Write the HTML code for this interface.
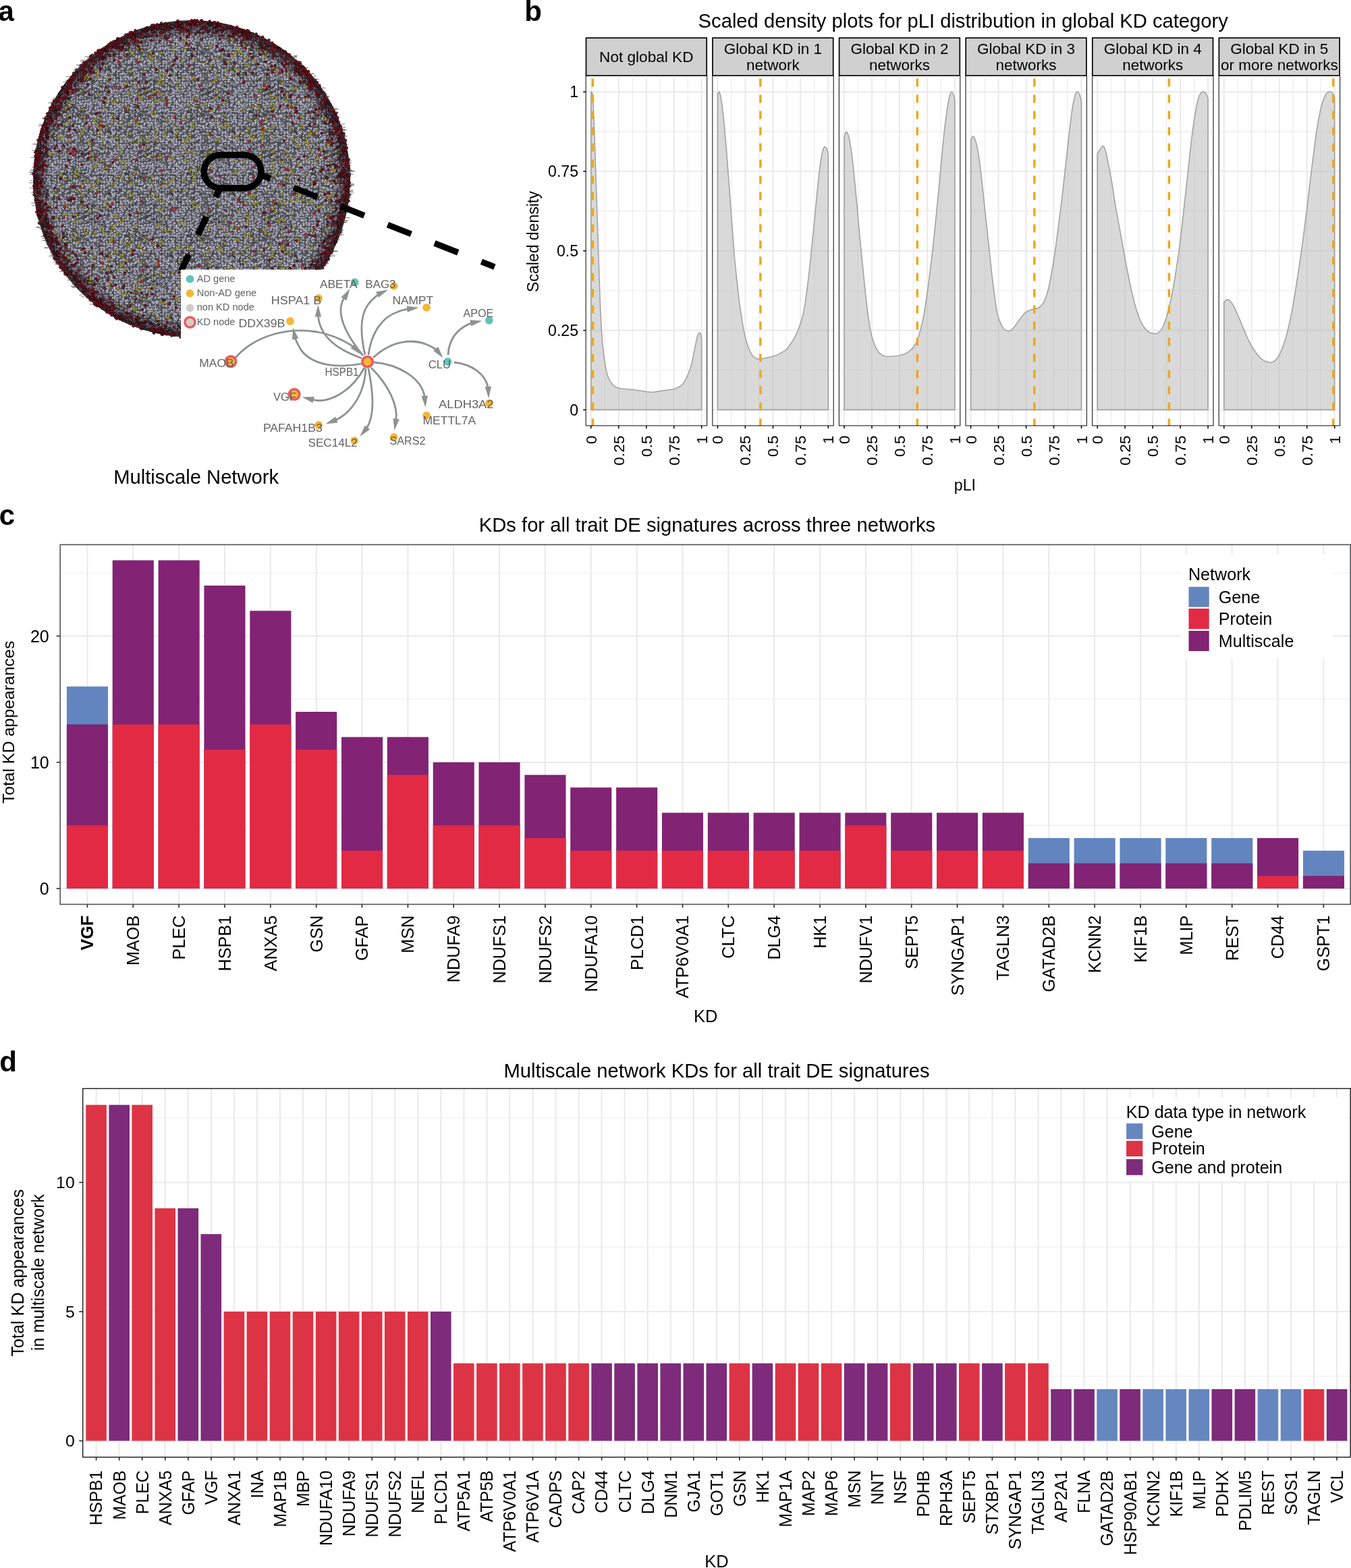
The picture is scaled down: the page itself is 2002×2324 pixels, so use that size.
<!DOCTYPE html>
<html><head><meta charset="utf-8"><title>KD figure</title>
<style>html,body{margin:0;padding:0;background:#fff;}svg{display:block;}</style></head>
<body><svg width="2002" height="2324" viewBox="0 0 2002 2324" font-family="'Liberation Sans', Arial, Helvetica, sans-serif">
<rect width="2002" height="2324" fill="#fff"/>
<text x="-2.5" y="30.9" font-size="42" font-weight="bold">a</text>
<defs><pattern id="hb" width="92" height="92" patternUnits="userSpaceOnUse">
<rect width="92" height="92" fill="#545456"/>
<g fill="#9e9ebc" stroke="#b4b4d2" stroke-width="0.6"><circle cx="1.5" cy="1.1" r="1.25"/><circle cx="0.9" cy="6.1" r="1.25"/><circle cx="1.8" cy="18.8" r="1.25"/><circle cx="1.3" cy="22.3" r="1.25"/><circle cx="2.2" cy="25.7" r="1.25"/><circle cx="0.8" cy="30.9" r="1.25"/><circle cx="1.1" cy="33" r="1.25"/><circle cx="2.8" cy="37.2" r="1.25"/><circle cx="2.4" cy="41.7" r="1.25"/><circle cx="0.9" cy="44.9" r="1.25"/><circle cx="2.5" cy="49.8" r="1.25"/><circle cx="2.2" cy="53.9" r="1.25"/><circle cx="2.8" cy="58.5" r="1.25"/><circle cx="2.2" cy="62.1" r="1.25"/><circle cx="2.6" cy="65.4" r="1.25"/><circle cx="1" cy="69.8" r="1.25"/><circle cx="2.4" cy="78.7" r="1.25"/><circle cx="3" cy="81.5" r="1.25"/><circle cx="2.2" cy="86.2" r="1.25"/><circle cx="2.9" cy="91.2" r="1.25"/><circle cx="6.4" cy="0.9" r="1.25"/><circle cx="6.4" cy="7.3" r="1.25"/><circle cx="5.4" cy="9.7" r="1.25"/><circle cx="4.8" cy="13.9" r="1.25"/><circle cx="5" cy="16.9" r="1.25"/><circle cx="5" cy="21.3" r="1.25"/><circle cx="7" cy="24.9" r="1.25"/><circle cx="6.1" cy="31" r="1.25"/><circle cx="6.9" cy="33.4" r="1.25"/><circle cx="5.6" cy="39" r="1.25"/><circle cx="5.1" cy="41.2" r="1.25"/><circle cx="5.3" cy="46" r="1.25"/><circle cx="5.4" cy="48.7" r="1.25"/><circle cx="5.7" cy="54.2" r="1.25"/><circle cx="6.5" cy="58" r="1.25"/><circle cx="6.5" cy="60.8" r="1.25"/><circle cx="6.7" cy="67" r="1.25"/><circle cx="5.7" cy="69.7" r="1.25"/><circle cx="5.2" cy="77.1" r="1.25"/><circle cx="4.8" cy="80.7" r="1.25"/><circle cx="7" cy="90.3" r="1.25"/><circle cx="9.4" cy="1.6" r="1.25"/><circle cx="9" cy="6.9" r="1.25"/><circle cx="9" cy="13.6" r="1.25"/><circle cx="11.2" cy="22.1" r="1.25"/><circle cx="10.1" cy="24.8" r="1.25"/><circle cx="11.2" cy="30.9" r="1.25"/><circle cx="9.4" cy="33.7" r="1.25"/><circle cx="10.7" cy="38.1" r="1.25"/><circle cx="9.6" cy="41.3" r="1.25"/><circle cx="11.3" cy="46.9" r="1.25"/><circle cx="10.8" cy="50.6" r="1.25"/><circle cx="8.8" cy="57.4" r="1.25"/><circle cx="10.5" cy="63.2" r="1.25"/><circle cx="11.1" cy="67.3" r="1.25"/><circle cx="9.6" cy="69.3" r="1.25"/><circle cx="9.2" cy="73.2" r="1.25"/><circle cx="11" cy="78.9" r="1.25"/><circle cx="10.4" cy="87.1" r="1.25"/><circle cx="10.7" cy="89.9" r="1.25"/><circle cx="14.8" cy="1.6" r="1.25"/><circle cx="15.2" cy="5.7" r="1.25"/><circle cx="15.2" cy="10.6" r="1.25"/><circle cx="13" cy="13.1" r="1.25"/><circle cx="14.8" cy="17.1" r="1.25"/><circle cx="15.2" cy="22.4" r="1.25"/><circle cx="15.2" cy="30.4" r="1.25"/><circle cx="15.1" cy="33.8" r="1.25"/><circle cx="14.8" cy="37.2" r="1.25"/><circle cx="13.5" cy="41.3" r="1.25"/><circle cx="13.4" cy="45.8" r="1.25"/><circle cx="15.1" cy="49.6" r="1.25"/><circle cx="14.2" cy="55.1" r="1.25"/><circle cx="15.1" cy="58" r="1.25"/><circle cx="14.1" cy="60.7" r="1.25"/><circle cx="13.2" cy="64.7" r="1.25"/><circle cx="13.1" cy="69.9" r="1.25"/><circle cx="14.1" cy="73.5" r="1.25"/><circle cx="14.1" cy="78.7" r="1.25"/><circle cx="14.2" cy="81.3" r="1.25"/><circle cx="14.7" cy="86" r="1.25"/><circle cx="14.7" cy="91.1" r="1.25"/><circle cx="18.3" cy="2" r="1.25"/><circle cx="18.5" cy="5.9" r="1.25"/><circle cx="17.9" cy="11.1" r="1.25"/><circle cx="19" cy="15.1" r="1.25"/><circle cx="18.2" cy="19.2" r="1.25"/><circle cx="17.1" cy="21" r="1.25"/><circle cx="18.4" cy="30.7" r="1.25"/><circle cx="17.1" cy="34.6" r="1.25"/><circle cx="17.1" cy="39" r="1.25"/><circle cx="17.3" cy="43.2" r="1.25"/><circle cx="18" cy="47.3" r="1.25"/><circle cx="17.1" cy="49.8" r="1.25"/><circle cx="17.6" cy="53.2" r="1.25"/><circle cx="18.6" cy="56.8" r="1.25"/><circle cx="17.8" cy="60.7" r="1.25"/><circle cx="19.3" cy="70.7" r="1.25"/><circle cx="18.7" cy="77.4" r="1.25"/><circle cx="17.8" cy="83.1" r="1.25"/><circle cx="17.4" cy="85.1" r="1.25"/><circle cx="20.8" cy="2.5" r="1.25"/><circle cx="20.9" cy="7.1" r="1.25"/><circle cx="22.8" cy="8.9" r="1.25"/><circle cx="20.9" cy="14.9" r="1.25"/><circle cx="21.6" cy="18.1" r="1.25"/><circle cx="21.4" cy="21" r="1.25"/><circle cx="21.3" cy="25" r="1.25"/><circle cx="20.8" cy="29.2" r="1.25"/><circle cx="21.5" cy="34.7" r="1.25"/><circle cx="22" cy="37.2" r="1.25"/><circle cx="22.6" cy="46.1" r="1.25"/><circle cx="21.9" cy="51.1" r="1.25"/><circle cx="22.8" cy="53.8" r="1.25"/><circle cx="22.9" cy="57.7" r="1.25"/><circle cx="22.5" cy="63.3" r="1.25"/><circle cx="22.9" cy="66.5" r="1.25"/><circle cx="21" cy="72.9" r="1.25"/><circle cx="22.9" cy="83" r="1.25"/><circle cx="21.4" cy="85.3" r="1.25"/><circle cx="21.9" cy="89.1" r="1.25"/><circle cx="25.4" cy="3.2" r="1.25"/><circle cx="26.1" cy="5.3" r="1.25"/><circle cx="25.7" cy="13.9" r="1.25"/><circle cx="25.4" cy="20.9" r="1.25"/><circle cx="24.8" cy="24.8" r="1.25"/><circle cx="25.3" cy="30.2" r="1.25"/><circle cx="26.7" cy="34.4" r="1.25"/><circle cx="27" cy="37.7" r="1.25"/><circle cx="27.3" cy="41.1" r="1.25"/><circle cx="26.4" cy="44.8" r="1.25"/><circle cx="27" cy="50.3" r="1.25"/><circle cx="26.8" cy="53.1" r="1.25"/><circle cx="26" cy="58.9" r="1.25"/><circle cx="26.8" cy="62.2" r="1.25"/><circle cx="26.5" cy="66.5" r="1.25"/><circle cx="24.8" cy="69" r="1.25"/><circle cx="25" cy="74.9" r="1.25"/><circle cx="26.3" cy="78.3" r="1.25"/><circle cx="26" cy="80.7" r="1.25"/><circle cx="26.6" cy="86" r="1.25"/><circle cx="26.4" cy="88.9" r="1.25"/><circle cx="29.4" cy="0.9" r="1.25"/><circle cx="30.6" cy="5.2" r="1.25"/><circle cx="31.2" cy="10" r="1.25"/><circle cx="29.9" cy="14.5" r="1.25"/><circle cx="29.1" cy="21.4" r="1.25"/><circle cx="28.9" cy="29.4" r="1.25"/><circle cx="30.5" cy="34.5" r="1.25"/><circle cx="30" cy="37.9" r="1.25"/><circle cx="29" cy="43" r="1.25"/><circle cx="29.9" cy="50.8" r="1.25"/><circle cx="29.9" cy="53.4" r="1.25"/><circle cx="31.2" cy="57.2" r="1.25"/><circle cx="29.1" cy="62.1" r="1.25"/><circle cx="29" cy="66.8" r="1.25"/><circle cx="31" cy="70.5" r="1.25"/><circle cx="28.7" cy="78" r="1.25"/><circle cx="29.5" cy="81.1" r="1.25"/><circle cx="30.7" cy="90.9" r="1.25"/><circle cx="35.1" cy="2.6" r="1.25"/><circle cx="33.5" cy="5.7" r="1.25"/><circle cx="35.3" cy="10.2" r="1.25"/><circle cx="33" cy="18.9" r="1.25"/><circle cx="35.1" cy="21.3" r="1.25"/><circle cx="34" cy="25.2" r="1.25"/><circle cx="35.2" cy="31" r="1.25"/><circle cx="34.3" cy="35.1" r="1.25"/><circle cx="34.6" cy="41.9" r="1.25"/><circle cx="35.1" cy="49" r="1.25"/><circle cx="33.6" cy="53.5" r="1.25"/><circle cx="35.2" cy="57.4" r="1.25"/><circle cx="33.5" cy="62.1" r="1.25"/><circle cx="33.1" cy="65.1" r="1.25"/><circle cx="35.1" cy="70" r="1.25"/><circle cx="35.1" cy="75.3" r="1.25"/><circle cx="33.6" cy="80.9" r="1.25"/><circle cx="33.4" cy="86.2" r="1.25"/><circle cx="34.6" cy="89.8" r="1.25"/><circle cx="38.1" cy="1.7" r="1.25"/><circle cx="36.9" cy="5.4" r="1.25"/><circle cx="37" cy="10" r="1.25"/><circle cx="38.9" cy="13.3" r="1.25"/><circle cx="37.3" cy="17.7" r="1.25"/><circle cx="39.2" cy="22.9" r="1.25"/><circle cx="36.8" cy="24.8" r="1.25"/><circle cx="39" cy="29.9" r="1.25"/><circle cx="36.7" cy="33.7" r="1.25"/><circle cx="38.8" cy="38.9" r="1.25"/><circle cx="37.3" cy="41" r="1.25"/><circle cx="38.1" cy="46.5" r="1.25"/><circle cx="38.6" cy="50.4" r="1.25"/><circle cx="38.7" cy="57.3" r="1.25"/><circle cx="38.4" cy="61.5" r="1.25"/><circle cx="37.4" cy="66.4" r="1.25"/><circle cx="37" cy="68.9" r="1.25"/><circle cx="38.2" cy="73.7" r="1.25"/><circle cx="38.3" cy="76.7" r="1.25"/><circle cx="37.9" cy="83.2" r="1.25"/><circle cx="39" cy="85.9" r="1.25"/><circle cx="37.3" cy="91.2" r="1.25"/><circle cx="41.5" cy="0.8" r="1.25"/><circle cx="42.5" cy="5.8" r="1.25"/><circle cx="42.4" cy="11.1" r="1.25"/><circle cx="40.8" cy="13.6" r="1.25"/><circle cx="42.5" cy="17.2" r="1.25"/><circle cx="42.6" cy="22" r="1.25"/><circle cx="43.2" cy="25.5" r="1.25"/><circle cx="41.3" cy="29.3" r="1.25"/><circle cx="41.5" cy="35.2" r="1.25"/><circle cx="41.2" cy="37.3" r="1.25"/><circle cx="42.4" cy="43.2" r="1.25"/><circle cx="41.7" cy="45.3" r="1.25"/><circle cx="41.7" cy="55" r="1.25"/><circle cx="42.6" cy="59.3" r="1.25"/><circle cx="41.6" cy="61.2" r="1.25"/><circle cx="42.6" cy="64.8" r="1.25"/><circle cx="41.7" cy="69.7" r="1.25"/><circle cx="41.1" cy="72.7" r="1.25"/><circle cx="41.6" cy="79.2" r="1.25"/><circle cx="43.2" cy="81.2" r="1.25"/><circle cx="42.8" cy="86.8" r="1.25"/><circle cx="40.8" cy="89.9" r="1.25"/><circle cx="47.1" cy="1.2" r="1.25"/><circle cx="47" cy="4.8" r="1.25"/><circle cx="44.8" cy="12.9" r="1.25"/><circle cx="45.4" cy="18.6" r="1.25"/><circle cx="45.6" cy="21.4" r="1.25"/><circle cx="46.3" cy="25.4" r="1.25"/><circle cx="46.7" cy="35.1" r="1.25"/><circle cx="47.2" cy="36.8" r="1.25"/><circle cx="45.9" cy="43.2" r="1.25"/><circle cx="45.7" cy="45.4" r="1.25"/><circle cx="46" cy="51.1" r="1.25"/><circle cx="46.8" cy="54.6" r="1.25"/><circle cx="46.7" cy="58.3" r="1.25"/><circle cx="45.5" cy="61.6" r="1.25"/><circle cx="44.9" cy="65.2" r="1.25"/><circle cx="46.1" cy="73.5" r="1.25"/><circle cx="47" cy="79.3" r="1.25"/><circle cx="44.9" cy="81" r="1.25"/><circle cx="46.5" cy="85.9" r="1.25"/><circle cx="45.8" cy="90.3" r="1.25"/><circle cx="50.6" cy="2.9" r="1.25"/><circle cx="49" cy="6.9" r="1.25"/><circle cx="50.2" cy="9.7" r="1.25"/><circle cx="49.2" cy="13.3" r="1.25"/><circle cx="49.1" cy="19" r="1.25"/><circle cx="49.5" cy="21.7" r="1.25"/><circle cx="50" cy="25.3" r="1.25"/><circle cx="50.4" cy="31.3" r="1.25"/><circle cx="49.9" cy="34.8" r="1.25"/><circle cx="51.1" cy="36.8" r="1.25"/><circle cx="49" cy="41.2" r="1.25"/><circle cx="50.2" cy="47.1" r="1.25"/><circle cx="51" cy="49.9" r="1.25"/><circle cx="50.7" cy="55.2" r="1.25"/><circle cx="50.2" cy="58.3" r="1.25"/><circle cx="49.7" cy="61.1" r="1.25"/><circle cx="49.4" cy="66.3" r="1.25"/><circle cx="49.2" cy="68.7" r="1.25"/><circle cx="50.5" cy="73.2" r="1.25"/><circle cx="49.2" cy="78.8" r="1.25"/><circle cx="48.9" cy="81" r="1.25"/><circle cx="49.1" cy="90.5" r="1.25"/><circle cx="53.4" cy="1.5" r="1.25"/><circle cx="53.5" cy="6.2" r="1.25"/><circle cx="53.8" cy="10.9" r="1.25"/><circle cx="53.6" cy="13.2" r="1.25"/><circle cx="53.2" cy="16.7" r="1.25"/><circle cx="53.8" cy="22.8" r="1.25"/><circle cx="55" cy="25.9" r="1.25"/><circle cx="52.7" cy="30.1" r="1.25"/><circle cx="55.1" cy="32.9" r="1.25"/><circle cx="53.7" cy="38" r="1.25"/><circle cx="53.4" cy="42.1" r="1.25"/><circle cx="53" cy="46" r="1.25"/><circle cx="55.2" cy="49.2" r="1.25"/><circle cx="55.2" cy="55.2" r="1.25"/><circle cx="52.8" cy="59.1" r="1.25"/><circle cx="55.1" cy="62.3" r="1.25"/><circle cx="53.1" cy="66.7" r="1.25"/><circle cx="53.8" cy="70.9" r="1.25"/><circle cx="53.2" cy="73.3" r="1.25"/><circle cx="54" cy="77.7" r="1.25"/><circle cx="53.3" cy="82.6" r="1.25"/><circle cx="52.8" cy="86.2" r="1.25"/><circle cx="52.8" cy="90.9" r="1.25"/><circle cx="58.3" cy="2.1" r="1.25"/><circle cx="57.5" cy="5.8" r="1.25"/><circle cx="57.8" cy="10.4" r="1.25"/><circle cx="57.8" cy="12.8" r="1.25"/><circle cx="58" cy="17.3" r="1.25"/><circle cx="58.7" cy="21.9" r="1.25"/><circle cx="57.9" cy="25" r="1.25"/><circle cx="57.8" cy="28.9" r="1.25"/><circle cx="58" cy="32.8" r="1.25"/><circle cx="56.9" cy="38.6" r="1.25"/><circle cx="58" cy="40.8" r="1.25"/><circle cx="57.7" cy="47.2" r="1.25"/><circle cx="58.9" cy="51.3" r="1.25"/><circle cx="58.8" cy="53.2" r="1.25"/><circle cx="58" cy="59.2" r="1.25"/><circle cx="57.1" cy="62.7" r="1.25"/><circle cx="56.9" cy="65.6" r="1.25"/><circle cx="57.1" cy="71" r="1.25"/><circle cx="58.8" cy="73.1" r="1.25"/><circle cx="59.1" cy="77.2" r="1.25"/><circle cx="57.2" cy="85.1" r="1.25"/><circle cx="58.5" cy="91" r="1.25"/><circle cx="62.7" cy="1" r="1.25"/><circle cx="62.4" cy="5.6" r="1.25"/><circle cx="62.1" cy="10.2" r="1.25"/><circle cx="61" cy="15.3" r="1.25"/><circle cx="61.7" cy="18.8" r="1.25"/><circle cx="63.3" cy="22.2" r="1.25"/><circle cx="62.7" cy="25.8" r="1.25"/><circle cx="62.6" cy="28.8" r="1.25"/><circle cx="61.4" cy="34.4" r="1.25"/><circle cx="62.2" cy="38.4" r="1.25"/><circle cx="60.7" cy="40.8" r="1.25"/><circle cx="62.3" cy="45.8" r="1.25"/><circle cx="63" cy="49" r="1.25"/><circle cx="61.6" cy="57" r="1.25"/><circle cx="61.3" cy="62.2" r="1.25"/><circle cx="61.2" cy="66.3" r="1.25"/><circle cx="61.1" cy="71.1" r="1.25"/><circle cx="61.1" cy="72.9" r="1.25"/><circle cx="63" cy="78.7" r="1.25"/><circle cx="61.4" cy="80.7" r="1.25"/><circle cx="62.2" cy="85.6" r="1.25"/><circle cx="61.9" cy="91.1" r="1.25"/><circle cx="66.1" cy="5.8" r="1.25"/><circle cx="66.1" cy="15.1" r="1.25"/><circle cx="65.2" cy="18.3" r="1.25"/><circle cx="66.4" cy="22.8" r="1.25"/><circle cx="67" cy="30.7" r="1.25"/><circle cx="64.7" cy="34.9" r="1.25"/><circle cx="65.9" cy="38.6" r="1.25"/><circle cx="65.3" cy="41" r="1.25"/><circle cx="64.8" cy="45.6" r="1.25"/><circle cx="66.5" cy="50.9" r="1.25"/><circle cx="65.4" cy="54.1" r="1.25"/><circle cx="66.7" cy="58.1" r="1.25"/><circle cx="66.4" cy="63.2" r="1.25"/><circle cx="67" cy="64.7" r="1.25"/><circle cx="65.3" cy="70.6" r="1.25"/><circle cx="66.6" cy="73.5" r="1.25"/><circle cx="65.6" cy="77.3" r="1.25"/><circle cx="66.3" cy="82.5" r="1.25"/><circle cx="67.2" cy="85.9" r="1.25"/><circle cx="66.5" cy="90.9" r="1.25"/><circle cx="70.6" cy="2.2" r="1.25"/><circle cx="69" cy="15.1" r="1.25"/><circle cx="70.5" cy="22.3" r="1.25"/><circle cx="70.6" cy="24.9" r="1.25"/><circle cx="69.6" cy="30.8" r="1.25"/><circle cx="71" cy="32.9" r="1.25"/><circle cx="71.1" cy="39.2" r="1.25"/><circle cx="70.9" cy="46.8" r="1.25"/><circle cx="70.8" cy="50.3" r="1.25"/><circle cx="69" cy="53" r="1.25"/><circle cx="69.2" cy="57.5" r="1.25"/><circle cx="68.8" cy="61.4" r="1.25"/><circle cx="70.6" cy="65.7" r="1.25"/><circle cx="71.2" cy="70" r="1.25"/><circle cx="70.3" cy="72.8" r="1.25"/><circle cx="69.8" cy="78.7" r="1.25"/><circle cx="70.5" cy="82.1" r="1.25"/><circle cx="70.9" cy="84.9" r="1.25"/><circle cx="69.1" cy="88.7" r="1.25"/><circle cx="74" cy="6" r="1.25"/><circle cx="73.2" cy="10" r="1.25"/><circle cx="74.9" cy="13.4" r="1.25"/><circle cx="73.4" cy="17.3" r="1.25"/><circle cx="74" cy="21" r="1.25"/><circle cx="72.9" cy="26.7" r="1.25"/><circle cx="74.7" cy="30.3" r="1.25"/><circle cx="73.7" cy="33.7" r="1.25"/><circle cx="73.2" cy="41.4" r="1.25"/><circle cx="74" cy="45.7" r="1.25"/><circle cx="73.3" cy="49.9" r="1.25"/><circle cx="74.7" cy="54.7" r="1.25"/><circle cx="73.6" cy="57.5" r="1.25"/><circle cx="74.9" cy="62.4" r="1.25"/><circle cx="73.1" cy="65.8" r="1.25"/><circle cx="74.2" cy="69" r="1.25"/><circle cx="75" cy="73.3" r="1.25"/><circle cx="73.5" cy="78.5" r="1.25"/><circle cx="73.1" cy="81.1" r="1.25"/><circle cx="73.5" cy="86.1" r="1.25"/><circle cx="73.6" cy="89.2" r="1.25"/><circle cx="78.6" cy="1" r="1.25"/><circle cx="77" cy="5.7" r="1.25"/><circle cx="78.8" cy="10.6" r="1.25"/><circle cx="77.2" cy="14.4" r="1.25"/><circle cx="77.7" cy="22.8" r="1.25"/><circle cx="78" cy="26.3" r="1.25"/><circle cx="77.1" cy="30.3" r="1.25"/><circle cx="78.6" cy="35.1" r="1.25"/><circle cx="78.2" cy="38.6" r="1.25"/><circle cx="77.3" cy="42.6" r="1.25"/><circle cx="78.7" cy="46.5" r="1.25"/><circle cx="78.5" cy="50.4" r="1.25"/><circle cx="77.8" cy="58.7" r="1.25"/><circle cx="78.3" cy="61.4" r="1.25"/><circle cx="77.9" cy="66.3" r="1.25"/><circle cx="78.5" cy="71.1" r="1.25"/><circle cx="78.4" cy="74.7" r="1.25"/><circle cx="78.1" cy="81.1" r="1.25"/><circle cx="79.1" cy="86" r="1.25"/><circle cx="78.2" cy="90.1" r="1.25"/><circle cx="82" cy="2.4" r="1.25"/><circle cx="82.1" cy="5.8" r="1.25"/><circle cx="81.2" cy="10.5" r="1.25"/><circle cx="82.7" cy="13" r="1.25"/><circle cx="81.6" cy="16.8" r="1.25"/><circle cx="81.7" cy="20.7" r="1.25"/><circle cx="81.8" cy="26.5" r="1.25"/><circle cx="81.4" cy="29.3" r="1.25"/><circle cx="83.1" cy="34.1" r="1.25"/><circle cx="82.8" cy="37.7" r="1.25"/><circle cx="81" cy="42.7" r="1.25"/><circle cx="82.3" cy="45.9" r="1.25"/><circle cx="81.3" cy="51.2" r="1.25"/><circle cx="82.4" cy="54.8" r="1.25"/><circle cx="81.9" cy="57.5" r="1.25"/><circle cx="81" cy="62.9" r="1.25"/><circle cx="82.9" cy="65.4" r="1.25"/><circle cx="81.4" cy="69.8" r="1.25"/><circle cx="80.7" cy="74.6" r="1.25"/><circle cx="81.3" cy="77.5" r="1.25"/><circle cx="81.8" cy="82.4" r="1.25"/><circle cx="81.6" cy="87.1" r="1.25"/><circle cx="80.8" cy="90.9" r="1.25"/><circle cx="86.7" cy="1.1" r="1.25"/><circle cx="87.2" cy="10.4" r="1.25"/><circle cx="85" cy="13.1" r="1.25"/><circle cx="86.7" cy="17.6" r="1.25"/><circle cx="87.1" cy="22.8" r="1.25"/><circle cx="87" cy="26.3" r="1.25"/><circle cx="86.4" cy="31" r="1.25"/><circle cx="86.9" cy="33.2" r="1.25"/><circle cx="86.1" cy="38.6" r="1.25"/><circle cx="87" cy="42.1" r="1.25"/><circle cx="85.3" cy="45.1" r="1.25"/><circle cx="84.9" cy="49.9" r="1.25"/><circle cx="86" cy="54" r="1.25"/><circle cx="86.9" cy="56.7" r="1.25"/><circle cx="85.9" cy="62.2" r="1.25"/><circle cx="86.9" cy="65.7" r="1.25"/><circle cx="87.2" cy="68.9" r="1.25"/><circle cx="86.4" cy="72.8" r="1.25"/><circle cx="86.5" cy="79.1" r="1.25"/><circle cx="87.3" cy="82" r="1.25"/><circle cx="87" cy="84.8" r="1.25"/><circle cx="86.3" cy="89.6" r="1.25"/><circle cx="89.7" cy="1.9" r="1.25"/><circle cx="90.7" cy="5.2" r="1.25"/><circle cx="89.8" cy="10.1" r="1.25"/><circle cx="89.5" cy="14.9" r="1.25"/><circle cx="90" cy="17.4" r="1.25"/><circle cx="91.2" cy="22.4" r="1.25"/><circle cx="89.6" cy="25.5" r="1.25"/><circle cx="90.2" cy="30.4" r="1.25"/><circle cx="88.8" cy="34.6" r="1.25"/><circle cx="90.1" cy="36.8" r="1.25"/><circle cx="88.7" cy="41.2" r="1.25"/><circle cx="90.3" cy="46.4" r="1.25"/><circle cx="91.1" cy="50.3" r="1.25"/><circle cx="90.3" cy="54.5" r="1.25"/><circle cx="90.5" cy="57.3" r="1.25"/><circle cx="89.9" cy="62.7" r="1.25"/><circle cx="89.2" cy="64.8" r="1.25"/><circle cx="91.1" cy="70.4" r="1.25"/><circle cx="90.8" cy="74.7" r="1.25"/><circle cx="89.4" cy="77.5" r="1.25"/><circle cx="89.5" cy="81.8" r="1.25"/><circle cx="91.1" cy="84.8" r="1.25"/><circle cx="88.8" cy="89" r="1.25"/></g>
<g stroke="#262626" stroke-width="0.7"><line x1="52.9" y1="84.5" x2="53.4" y2="87"/><line x1="35.6" y1="54.5" x2="29.8" y2="55.6"/><line x1="43.7" y1="37.9" x2="48.3" y2="39.4"/><line x1="19.5" y1="14" x2="22" y2="14.1"/><line x1="62.9" y1="11.2" x2="60.1" y2="11.5"/><line x1="80" y1="11.9" x2="85" y2="12.1"/><line x1="22.3" y1="67.5" x2="24.5" y2="69"/><line x1="71.2" y1="65.6" x2="66.7" y2="67.9"/><line x1="7.8" y1="57.8" x2="5.2" y2="61.1"/><line x1="85.8" y1="23.4" x2="80.8" y2="23.9"/><line x1="1" y1="1.4" x2="-1.4" y2="6.1"/><line x1="7.3" y1="28.6" x2="5.3" y2="30.9"/><line x1="79.2" y1="44.7" x2="82.9" y2="45.4"/><line x1="52.9" y1="40.4" x2="51.3" y2="42.9"/><line x1="73.4" y1="33.4" x2="71.3" y2="37.6"/><line x1="38.5" y1="35.5" x2="33.9" y2="39.1"/><line x1="72.2" y1="52.1" x2="73.8" y2="54.3"/><line x1="89.6" y1="64.7" x2="86.5" y2="66.6"/><line x1="55.7" y1="89.9" x2="51.8" y2="92.3"/><line x1="28.4" y1="39.4" x2="24.8" y2="40.7"/><line x1="63" y1="55.4" x2="58" y2="57.1"/><line x1="26.1" y1="0.2" x2="28.8" y2="3.1"/><line x1="54" y1="75.1" x2="51.5" y2="76"/><line x1="76.7" y1="74.7" x2="72.5" y2="76.5"/><line x1="25.2" y1="78.3" x2="21.2" y2="81.1"/><line x1="84.1" y1="31.9" x2="88.3" y2="33.1"/><line x1="73.4" y1="18.4" x2="69.3" y2="22.5"/><line x1="21.5" y1="55.8" x2="19.3" y2="59.3"/><line x1="19" y1="23.4" x2="15.3" y2="27.1"/><line x1="42.3" y1="8.1" x2="38" y2="11"/><line x1="21.4" y1="53.3" x2="16.1" y2="55.1"/><line x1="48" y1="43.8" x2="47.1" y2="46.9"/><line x1="17.7" y1="16.6" x2="15.5" y2="19.7"/><line x1="51.9" y1="37" x2="51.8" y2="40"/><line x1="4.1" y1="91.7" x2="5.2" y2="94.4"/><line x1="58.2" y1="72.4" x2="62.3" y2="74.6"/><line x1="31.7" y1="47.8" x2="34.3" y2="48"/><line x1="91.1" y1="79.7" x2="91.3" y2="84.2"/><line x1="24.1" y1="71.7" x2="25.4" y2="77.3"/><line x1="70.6" y1="75.3" x2="67.2" y2="75.7"/><line x1="3.5" y1="18.5" x2="5.8" y2="20"/><line x1="4.7" y1="51.3" x2="0.9" y2="52.9"/><line x1="87.1" y1="83.7" x2="91.6" y2="84.6"/><line x1="36.6" y1="11" x2="33.2" y2="11.5"/><line x1="51.9" y1="58.9" x2="47.1" y2="59.6"/><line x1="36.2" y1="41.2" x2="41.3" y2="44.1"/><line x1="91.2" y1="20.4" x2="94.6" y2="20.8"/><line x1="32.4" y1="83.1" x2="27.2" y2="84.7"/><line x1="4.3" y1="72.3" x2="1.4" y2="76.1"/><line x1="90.7" y1="5.1" x2="95.3" y2="7.4"/><line x1="86.4" y1="62.3" x2="89.1" y2="66"/><line x1="69.7" y1="9.7" x2="71.5" y2="12.6"/><line x1="11.4" y1="44.3" x2="14.3" y2="46"/><line x1="13.2" y1="62.3" x2="18.2" y2="62.5"/><line x1="17.9" y1="3.3" x2="14.8" y2="4.1"/><line x1="85.9" y1="79.7" x2="83.1" y2="80.8"/><line x1="41.1" y1="8.9" x2="35.8" y2="10.1"/><line x1="57.8" y1="41.6" x2="60.4" y2="46.3"/><line x1="43.9" y1="57.8" x2="46.9" y2="59.2"/><line x1="5.2" y1="65.7" x2="4.7" y2="68.6"/><line x1="80.1" y1="24.5" x2="80.9" y2="27.4"/><line x1="24.9" y1="77.2" x2="26.5" y2="79.9"/><line x1="45.2" y1="29.3" x2="42.4" y2="30.1"/><line x1="90" y1="5.2" x2="85.5" y2="6.8"/><line x1="19.4" y1="43.9" x2="21.5" y2="46.6"/><line x1="18.5" y1="33.5" x2="12.6" y2="33.7"/><line x1="85.1" y1="9" x2="88.6" y2="13.4"/><line x1="5.3" y1="66.8" x2="8.9" y2="71.6"/><line x1="1.5" y1="74.2" x2="2.9" y2="76.9"/><line x1="0.2" y1="76.6" x2="-0.1" y2="79.7"/><line x1="40" y1="83.9" x2="43.5" y2="86.8"/><line x1="12.7" y1="16.6" x2="9" y2="19.9"/><line x1="18.1" y1="7.3" x2="22.6" y2="8.5"/><line x1="45.6" y1="25.2" x2="49.3" y2="28"/><line x1="65.1" y1="74.7" x2="64.3" y2="77.8"/><line x1="6" y1="67.4" x2="7.5" y2="72.2"/><line x1="5.1" y1="74.6" x2="7.8" y2="79.3"/><line x1="79.5" y1="45.4" x2="85.2" y2="45.6"/><line x1="43.8" y1="80.2" x2="46" y2="82.6"/><line x1="76.5" y1="33.8" x2="79.8" y2="35.6"/><line x1="54.7" y1="0.4" x2="54.5" y2="4.5"/><line x1="47.4" y1="11.1" x2="44.1" y2="15.3"/><line x1="79.6" y1="29.5" x2="77.3" y2="32.6"/><line x1="69.1" y1="5.6" x2="63.7" y2="7.9"/><line x1="45.5" y1="47.2" x2="45.1" y2="51.6"/><line x1="1.9" y1="89" x2="4.3" y2="91"/><line x1="9.4" y1="23" x2="7.3" y2="24.5"/><line x1="8.9" y1="64.3" x2="11" y2="65.8"/><line x1="55.1" y1="53" x2="54.8" y2="58"/><line x1="9.5" y1="80" x2="7.8" y2="82.1"/><line x1="11.3" y1="45.4" x2="11.3" y2="48.9"/><line x1="11.2" y1="37.3" x2="15.4" y2="39.2"/><line x1="79.2" y1="13.5" x2="78.1" y2="18.5"/><line x1="15.1" y1="76" x2="11.3" y2="76.7"/><line x1="38.7" y1="77.3" x2="38.4" y2="81.1"/><line x1="86.6" y1="71.5" x2="88.2" y2="74.4"/><line x1="30.8" y1="40.1" x2="25.5" y2="40.4"/><line x1="84" y1="75" x2="81.6" y2="76.2"/><line x1="47.6" y1="88.1" x2="44.3" y2="88.8"/><line x1="38.8" y1="58.2" x2="40.6" y2="62.2"/><line x1="6.4" y1="39.8" x2="6.3" y2="42.4"/><line x1="12.8" y1="89.2" x2="8.4" y2="92.9"/><line x1="58.3" y1="74.5" x2="53" y2="76.4"/><line x1="3.2" y1="59" x2="6.4" y2="62.6"/><line x1="25.2" y1="49.9" x2="20.6" y2="51"/><line x1="23.1" y1="47.9" x2="24.3" y2="53.6"/><line x1="26.5" y1="28.1" x2="25.1" y2="30.7"/><line x1="54.7" y1="88" x2="54.5" y2="91.4"/><line x1="42.9" y1="49.1" x2="45.5" y2="50.4"/><line x1="12.1" y1="27" x2="13.1" y2="30.4"/><line x1="22.4" y1="8.1" x2="21.6" y2="13.5"/><line x1="56.1" y1="52.5" x2="54.7" y2="55.3"/><line x1="65.4" y1="42.4" x2="64.7" y2="47"/><line x1="43.1" y1="28.6" x2="45.5" y2="30.8"/><line x1="47.1" y1="35.3" x2="46.5" y2="37.7"/><line x1="32.4" y1="79.3" x2="35.7" y2="82.3"/><line x1="45.2" y1="26.2" x2="41.7" y2="26.3"/><line x1="71" y1="14.6" x2="76.5" y2="15.7"/><line x1="40.5" y1="5.7" x2="41.9" y2="9.5"/><line x1="67.7" y1="10.1" x2="72.1" y2="13.9"/><line x1="68" y1="14.2" x2="69.8" y2="17.5"/><line x1="62.1" y1="56.7" x2="57.3" y2="59.1"/><line x1="47.6" y1="68" x2="44.1" y2="71.7"/><line x1="43.7" y1="72.2" x2="40.2" y2="76.7"/><line x1="11.7" y1="80.1" x2="16.9" y2="80.2"/><line x1="53.9" y1="45.8" x2="49.4" y2="46.3"/><line x1="38.4" y1="72.1" x2="34.2" y2="73.9"/><line x1="34.9" y1="41.6" x2="35.6" y2="46.6"/><line x1="26.9" y1="35.9" x2="26.3" y2="39.7"/><line x1="29.6" y1="72.4" x2="25.8" y2="74.3"/><line x1="40.9" y1="16.9" x2="42.6" y2="19.4"/><line x1="52.9" y1="53.5" x2="58.4" y2="55.1"/><line x1="29.8" y1="77.6" x2="24.7" y2="80.4"/><line x1="18.8" y1="39.2" x2="16.4" y2="39.9"/><line x1="4.4" y1="52" x2="4.4" y2="57.7"/><line x1="71.2" y1="49.5" x2="66.8" y2="49.6"/><line x1="47.6" y1="63" x2="48.9" y2="66.6"/><line x1="54.7" y1="32.3" x2="49.9" y2="33.1"/><line x1="48.3" y1="9.1" x2="49.8" y2="12.7"/><line x1="51.6" y1="52.8" x2="46.2" y2="55"/><line x1="44.8" y1="40.5" x2="42.5" y2="46"/><line x1="31.6" y1="48.8" x2="29" y2="50.5"/><line x1="29.3" y1="90" x2="25.6" y2="92.2"/><line x1="10.2" y1="82.3" x2="7.1" y2="86.7"/><line x1="91.1" y1="81.7" x2="91.9" y2="84.7"/><line x1="26.7" y1="47.1" x2="26.6" y2="50.2"/><line x1="16.8" y1="58" x2="15.6" y2="61.5"/><line x1="91.4" y1="58.6" x2="95.3" y2="59.1"/><line x1="72.5" y1="28.2" x2="71" y2="30.3"/><line x1="28" y1="77.5" x2="26.7" y2="82.1"/><line x1="18.1" y1="45.8" x2="17.5" y2="49.2"/><line x1="59.5" y1="48.9" x2="55" y2="48.9"/><line x1="37.8" y1="11.2" x2="42.4" y2="13.6"/><line x1="9.8" y1="9.2" x2="13.5" y2="11.4"/><line x1="75.7" y1="56.4" x2="73.5" y2="57.9"/><line x1="1.1" y1="70.9" x2="3.8" y2="75.1"/><line x1="32.6" y1="15.6" x2="34.5" y2="17.7"/><line x1="83.2" y1="53.6" x2="85" y2="57.2"/><line x1="35.5" y1="5" x2="31.2" y2="6.6"/><line x1="88.3" y1="40.4" x2="87" y2="43.6"/><line x1="4" y1="85.6" x2="0.8" y2="87.2"/><line x1="82.7" y1="75.1" x2="85.4" y2="78.8"/><line x1="88.3" y1="45.6" x2="85" y2="46.1"/><line x1="35.9" y1="66.1" x2="38.6" y2="68.4"/><line x1="80.5" y1="44.6" x2="77.9" y2="46.6"/><line x1="16" y1="33" x2="20.9" y2="36.2"/><line x1="26.7" y1="51.7" x2="30.8" y2="53.2"/><line x1="35.5" y1="37.1" x2="38.3" y2="37.7"/><line x1="76" y1="32.3" x2="78.3" y2="34.5"/><line x1="26.1" y1="21.8" x2="30.9" y2="22.3"/><line x1="31.4" y1="14.3" x2="29.7" y2="16.6"/><line x1="24.8" y1="76.8" x2="28.5" y2="78.4"/><line x1="76.9" y1="74.1" x2="80.2" y2="75.8"/><line x1="66.5" y1="34.7" x2="63.3" y2="35.1"/><line x1="87.5" y1="46.4" x2="90.6" y2="49.1"/><line x1="12" y1="65" x2="15.9" y2="69.1"/><line x1="54.1" y1="33.9" x2="57.4" y2="37.1"/><line x1="19.6" y1="80.3" x2="23.5" y2="81.9"/><line x1="49.9" y1="24.9" x2="47" y2="27.4"/><line x1="60.5" y1="52.2" x2="62.7" y2="55.4"/><line x1="7.9" y1="16.3" x2="4.7" y2="17.9"/><line x1="61" y1="10" x2="60.2" y2="13.7"/><line x1="46" y1="27.3" x2="49.5" y2="28.1"/><line x1="20.8" y1="11.6" x2="18.6" y2="14.3"/><line x1="37.1" y1="83.6" x2="32.9" y2="87.3"/><line x1="79.2" y1="12.2" x2="80.9" y2="14.1"/><line x1="62.5" y1="61.1" x2="64.3" y2="64.6"/><line x1="60.6" y1="64.3" x2="64.5" y2="68.2"/><line x1="32.4" y1="57.9" x2="34.8" y2="59.4"/><line x1="84" y1="67.5" x2="82.3" y2="69.6"/><line x1="3.7" y1="14.9" x2="6.6" y2="17"/><line x1="35" y1="3.6" x2="37.7" y2="7.5"/><line x1="16.5" y1="77.2" x2="15.4" y2="82.1"/><line x1="23.4" y1="40" x2="21.4" y2="43.1"/><line x1="0.1" y1="76.8" x2="-2.6" y2="79"/><line x1="4" y1="78.6" x2="3.1" y2="81.1"/><line x1="22.5" y1="10.2" x2="19.9" y2="12.2"/><line x1="84.1" y1="69" x2="88.9" y2="70.3"/><line x1="36.2" y1="68.8" x2="33.2" y2="70.6"/><line x1="8.3" y1="87.1" x2="9.6" y2="92.7"/><line x1="63.6" y1="68" x2="59.6" y2="70.3"/><line x1="41.7" y1="5" x2="39.3" y2="8.2"/><line x1="47.1" y1="85.4" x2="51.8" y2="87.4"/><line x1="4" y1="64.7" x2="1.2" y2="66.6"/><line x1="50.3" y1="89.2" x2="48.4" y2="93.2"/><line x1="23" y1="5.5" x2="24.7" y2="9"/><line x1="18.5" y1="28.6" x2="23.1" y2="30.6"/><line x1="61.7" y1="21.9" x2="64.8" y2="24.8"/><line x1="40.9" y1="86.1" x2="42.5" y2="89.3"/><line x1="81.4" y1="13.1" x2="80.7" y2="16.6"/><line x1="75" y1="50.4" x2="72.8" y2="52.6"/><line x1="61.3" y1="55.1" x2="62" y2="60.2"/><line x1="76.5" y1="10.5" x2="78.8" y2="13.5"/><line x1="19" y1="5.6" x2="21" y2="8"/><line x1="64.5" y1="41.2" x2="68" y2="42.5"/><line x1="43.1" y1="33.4" x2="45.5" y2="34.8"/><line x1="1" y1="91.3" x2="-1" y2="93.2"/><line x1="66" y1="90.2" x2="65.4" y2="93"/><line x1="45" y1="40" x2="48.6" y2="42.4"/><line x1="0.8" y1="84.6" x2="-1.3" y2="88.8"/><line x1="86" y1="60" x2="88.4" y2="62.4"/><line x1="12.8" y1="2.5" x2="8.6" y2="6.1"/><line x1="27.3" y1="17.1" x2="25" y2="22"/><line x1="85.3" y1="15.5" x2="81" y2="18.9"/><line x1="68.3" y1="30.1" x2="72.8" y2="33"/><line x1="29.5" y1="33.9" x2="28.8" y2="37.6"/><line x1="76.5" y1="22" x2="80.9" y2="22.6"/><line x1="57.8" y1="75.4" x2="54.4" y2="79.9"/><line x1="86.9" y1="45.5" x2="86.9" y2="48.5"/><line x1="27.6" y1="53.5" x2="32.3" y2="54.7"/><line x1="15.1" y1="40.8" x2="12.3" y2="41"/><line x1="3.7" y1="40.4" x2="7.8" y2="43.3"/><line x1="0.3" y1="77.4" x2="-4.5" y2="79.7"/><line x1="39.1" y1="26.1" x2="37" y2="29.8"/><line x1="38.8" y1="31.2" x2="39.7" y2="35.9"/><line x1="76" y1="83.2" x2="79.1" y2="84.9"/><line x1="40.8" y1="51.8" x2="42.2" y2="54.7"/><line x1="7.8" y1="29.8" x2="8.6" y2="35.6"/><line x1="83.6" y1="79.6" x2="77.8" y2="80.1"/><line x1="57" y1="74.6" x2="61.8" y2="75.5"/><line x1="56" y1="27.3" x2="54.7" y2="33"/><line x1="44.2" y1="59.6" x2="46.4" y2="62.5"/><line x1="81.4" y1="2.6" x2="85.5" y2="5.3"/><line x1="41.2" y1="7.8" x2="39.3" y2="11.2"/><line x1="53.4" y1="38.3" x2="53" y2="42.8"/><line x1="36.5" y1="10.5" x2="41.2" y2="13.5"/><line x1="50.4" y1="10.3" x2="47.4" y2="11.8"/><line x1="8.7" y1="48.8" x2="11.7" y2="51.8"/><line x1="51" y1="20.8" x2="50.3" y2="23.7"/><line x1="47.2" y1="54.1" x2="51" y2="55.1"/><line x1="6.8" y1="40.4" x2="2.7" y2="42.3"/><line x1="65.7" y1="69.6" x2="71.3" y2="71.7"/><line x1="66.4" y1="9.4" x2="63.1" y2="11.4"/><line x1="15.8" y1="88.3" x2="14.7" y2="93.4"/><line x1="12.6" y1="71.4" x2="15.9" y2="72"/><line x1="34.3" y1="1.4" x2="33.3" y2="4.5"/><line x1="27.6" y1="65.1" x2="28.9" y2="70.5"/><line x1="57.1" y1="80.2" x2="56" y2="85.8"/><line x1="80.1" y1="15.5" x2="77.5" y2="18.1"/><line x1="70.3" y1="62.6" x2="67.8" y2="64.1"/><line x1="34.3" y1="67.8" x2="29.4" y2="68.6"/><line x1="4" y1="55.5" x2="8.2" y2="56.9"/><line x1="73.9" y1="10.4" x2="69.1" y2="11.5"/><line x1="23.4" y1="17.8" x2="24.3" y2="23.1"/><line x1="53.5" y1="10.4" x2="56.4" y2="10.6"/><line x1="73.7" y1="17" x2="73.1" y2="20.5"/><line x1="63.2" y1="35" x2="68.2" y2="37.5"/><line x1="49.5" y1="63.4" x2="44.7" y2="66.7"/><line x1="1.3" y1="31.5" x2="5.1" y2="33.4"/><line x1="80.3" y1="73.6" x2="83.4" y2="74"/><line x1="75.3" y1="62.5" x2="76.7" y2="66.4"/><line x1="14.6" y1="77.8" x2="16.4" y2="83"/><line x1="56.2" y1="7" x2="57.9" y2="9.8"/><line x1="82.2" y1="54.2" x2="85.3" y2="54.6"/><line x1="33.2" y1="43" x2="32.3" y2="46.8"/><line x1="32.5" y1="0.6" x2="31.6" y2="4.1"/><line x1="1.9" y1="42.3" x2="-0.8" y2="42.4"/><line x1="13.4" y1="61.7" x2="15.7" y2="64.3"/><line x1="46" y1="24.1" x2="45.1" y2="28.4"/><line x1="88" y1="91.3" x2="92.5" y2="91.8"/><line x1="70.9" y1="80.3" x2="67.3" y2="83.3"/><line x1="58.4" y1="33.4" x2="61.7" y2="37.5"/><line x1="80.3" y1="86.4" x2="78.4" y2="89.4"/><line x1="70.2" y1="68" x2="70.1" y2="72.8"/><line x1="32.2" y1="50.7" x2="33" y2="53.3"/><line x1="31" y1="29.7" x2="26.8" y2="29.9"/><line x1="33.8" y1="22.4" x2="36.5" y2="24.9"/><line x1="12.5" y1="0.7" x2="8.7" y2="2.3"/><line x1="41" y1="52.3" x2="42.8" y2="54.8"/><line x1="6.1" y1="27.7" x2="9" y2="31.9"/><line x1="50.7" y1="86.2" x2="53.5" y2="91.3"/><line x1="53.7" y1="7.4" x2="57.5" y2="9.8"/><line x1="90.8" y1="32.8" x2="87.8" y2="35.4"/><line x1="79.9" y1="6.2" x2="80.2" y2="11.9"/><line x1="25.4" y1="23.7" x2="28.4" y2="23.9"/><line x1="24.7" y1="64.8" x2="27.7" y2="67.3"/><line x1="18.4" y1="55.5" x2="14.1" y2="57.4"/><line x1="18.1" y1="67.5" x2="13.5" y2="68"/><line x1="7.3" y1="74.5" x2="3.9" y2="75.9"/><line x1="12.6" y1="17.3" x2="11.9" y2="22.8"/><line x1="58.9" y1="84.9" x2="61.7" y2="87.2"/><line x1="68.9" y1="59.7" x2="70.4" y2="64.4"/><line x1="31.1" y1="5.3" x2="31.8" y2="7.8"/><line x1="57.6" y1="30.8" x2="57.7" y2="35.4"/><line x1="23.6" y1="42.6" x2="29.4" y2="42.9"/><line x1="51.9" y1="90.9" x2="56.5" y2="91.7"/><line x1="66.6" y1="30.3" x2="69.5" y2="31.2"/><line x1="13.1" y1="70.6" x2="18.3" y2="72.1"/><line x1="38.9" y1="49.6" x2="37.7" y2="53.8"/><line x1="60.5" y1="55.3" x2="63.1" y2="59.7"/><line x1="23.7" y1="65.5" x2="19.9" y2="69"/><line x1="28.5" y1="71.1" x2="24.4" y2="71.4"/><line x1="25.6" y1="48.1" x2="22.7" y2="48.7"/><line x1="0.8" y1="43.8" x2="-1.6" y2="48.4"/><line x1="33.3" y1="91" x2="37.2" y2="94.4"/><line x1="8.3" y1="2.6" x2="10.7" y2="3.7"/><line x1="46.2" y1="51.1" x2="51" y2="54.2"/><line x1="33.6" y1="13.7" x2="37.9" y2="16.4"/><line x1="84.8" y1="14.9" x2="90" y2="15.4"/><line x1="22.3" y1="90.4" x2="22.3" y2="95.1"/><line x1="31.7" y1="73.6" x2="32.1" y2="77.3"/><line x1="83.1" y1="9.9" x2="81.3" y2="11.9"/><line x1="59.4" y1="37" x2="56.9" y2="38.1"/><line x1="51.9" y1="37.7" x2="46.3" y2="39.2"/><line x1="57.7" y1="20.6" x2="60.1" y2="23"/><line x1="39.9" y1="21.3" x2="44.1" y2="24.4"/><line x1="59.1" y1="27.5" x2="55.9" y2="27.5"/><line x1="52.4" y1="14.4" x2="47.4" y2="16.7"/><line x1="24.6" y1="69.1" x2="21.6" y2="71"/><line x1="30.5" y1="44.7" x2="27.6" y2="45.7"/><line x1="62.8" y1="55" x2="63.5" y2="59.5"/><line x1="81.2" y1="19.3" x2="77.7" y2="20.6"/><line x1="71.7" y1="79.4" x2="76.4" y2="82.4"/><line x1="91.5" y1="27.4" x2="94.4" y2="27.6"/><line x1="89.6" y1="0.9" x2="86.7" y2="1.7"/><line x1="67.7" y1="9" x2="71.9" y2="11.4"/><line x1="8.3" y1="31.2" x2="3.5" y2="32.5"/><line x1="81.1" y1="90.1" x2="84.4" y2="90.5"/><line x1="72.9" y1="63.4" x2="77.1" y2="63.9"/><line x1="21.3" y1="39.6" x2="23.7" y2="40.4"/><line x1="91.2" y1="29.1" x2="88.4" y2="30.2"/><line x1="44.8" y1="12.5" x2="45.5" y2="15.5"/><line x1="63.1" y1="13.6" x2="60.2" y2="16.7"/><line x1="10.3" y1="32.5" x2="10.4" y2="38.2"/><line x1="32.1" y1="19.8" x2="26.6" y2="20.4"/><line x1="67.3" y1="25.1" x2="70.2" y2="26.9"/><line x1="6.3" y1="4" x2="6.2" y2="7.9"/><line x1="51.2" y1="33.4" x2="56.1" y2="33.5"/><line x1="60.1" y1="50" x2="59.3" y2="54.9"/><line x1="90.4" y1="80.4" x2="87.9" y2="83.4"/><line x1="29.3" y1="38.6" x2="25.4" y2="38.9"/><line x1="35.5" y1="37.7" x2="40.9" y2="40.3"/><line x1="0.5" y1="55.9" x2="-2.8" y2="56.7"/><line x1="56.2" y1="34.7" x2="58.5" y2="36.9"/><line x1="10.7" y1="77.6" x2="6.3" y2="81.1"/><line x1="4.6" y1="63.9" x2="7.1" y2="67.9"/><line x1="50.5" y1="29" x2="48" y2="29.3"/><line x1="68.7" y1="78.5" x2="68.5" y2="83.1"/><line x1="91.5" y1="21.6" x2="89.5" y2="26.3"/><line x1="34.9" y1="65.5" x2="36.3" y2="69.6"/><line x1="56.4" y1="62.3" x2="58.9" y2="66.3"/><line x1="50" y1="20.5" x2="48.8" y2="23.8"/><line x1="83.6" y1="43.5" x2="80.8" y2="46.9"/><line x1="43.8" y1="20.4" x2="49" y2="22.8"/><line x1="48.6" y1="48.2" x2="48.2" y2="53.5"/><line x1="22" y1="15.9" x2="18.5" y2="18"/><line x1="58.9" y1="76.1" x2="53.7" y2="77.9"/><line x1="4" y1="35.1" x2="-0.7" y2="37.8"/><line x1="11.3" y1="14.2" x2="13.3" y2="16.2"/><line x1="32.8" y1="73.9" x2="32.5" y2="78"/><line x1="8.1" y1="36.4" x2="3.2" y2="36.4"/><line x1="41.3" y1="44" x2="37.2" y2="47.1"/><line x1="13.8" y1="62.6" x2="15.5" y2="66.5"/><line x1="21.9" y1="34.1" x2="23.7" y2="37.5"/><line x1="1.6" y1="18.5" x2="1" y2="21.1"/><line x1="16.4" y1="66.1" x2="18.8" y2="68.8"/><line x1="22.2" y1="76.7" x2="26.8" y2="78.1"/><line x1="79" y1="18.6" x2="80.3" y2="23.7"/><line x1="56.8" y1="34.2" x2="60.9" y2="34.7"/><line x1="33.8" y1="65.6" x2="36.1" y2="68.7"/><line x1="59.6" y1="74.6" x2="61.4" y2="78"/><line x1="53.2" y1="85.1" x2="58.1" y2="88.4"/><line x1="65.5" y1="34.3" x2="63.7" y2="37.4"/><line x1="6.5" y1="69.6" x2="8.1" y2="73.6"/><line x1="45.7" y1="82.9" x2="43.8" y2="84.7"/><line x1="54.5" y1="42.6" x2="55.2" y2="48"/><line x1="38.2" y1="43.6" x2="34.4" y2="44.9"/><line x1="45.2" y1="47.1" x2="41.1" y2="49.6"/><line x1="68.1" y1="37" x2="73" y2="37.6"/><line x1="51" y1="70.8" x2="48.8" y2="72.7"/><line x1="20.3" y1="7.1" x2="17.9" y2="8.6"/><line x1="8.1" y1="69.3" x2="7.6" y2="71.9"/><line x1="62.7" y1="65.4" x2="62.8" y2="68.1"/><line x1="63.6" y1="38.4" x2="62" y2="44.2"/><line x1="75.2" y1="80.2" x2="78.4" y2="81.8"/><line x1="47.7" y1="0.6" x2="44.2" y2="0.7"/><line x1="24.1" y1="28.8" x2="28" y2="32.8"/><line x1="51.1" y1="47" x2="51.8" y2="49.6"/><line x1="28" y1="79.7" x2="23.5" y2="82.9"/><line x1="23.7" y1="18.6" x2="28" y2="19.3"/><line x1="34.4" y1="42.7" x2="34.5" y2="47.2"/><line x1="33.6" y1="73.7" x2="38.3" y2="77.1"/><line x1="51.2" y1="4.7" x2="53.6" y2="8.4"/><line x1="37.6" y1="52" x2="39.4" y2="54.9"/><line x1="73.2" y1="26.8" x2="70" y2="31"/><line x1="54.5" y1="41.8" x2="50.5" y2="42.6"/><line x1="80.8" y1="5.3" x2="81.8" y2="9.9"/><line x1="4.5" y1="79.4" x2="9" y2="80.4"/><line x1="16.6" y1="84.9" x2="15.6" y2="90.1"/><line x1="45.8" y1="62" x2="44" y2="65"/><line x1="19.4" y1="77.1" x2="24.5" y2="79.6"/><line x1="19" y1="9.3" x2="24" y2="10.8"/><line x1="87.5" y1="38.2" x2="85.9" y2="41.1"/><line x1="83.3" y1="63.1" x2="85.7" y2="64.4"/><line x1="64" y1="3.8" x2="60.9" y2="5.6"/><line x1="21.4" y1="53.5" x2="23.8" y2="57.3"/><line x1="14.2" y1="83.9" x2="17" y2="88.5"/><line x1="14" y1="73.5" x2="10.1" y2="73.8"/><line x1="3" y1="35" x2="1.6" y2="37.9"/><line x1="50.2" y1="8.6" x2="50.8" y2="13.6"/></g>
<g stroke="#a0a0a0" stroke-width="0.6"><line x1="43.2" y1="86.2" x2="42.8" y2="88.3"/><line x1="20.5" y1="68.5" x2="19.7" y2="72.1"/><line x1="88.5" y1="78.9" x2="92.2" y2="80.2"/><line x1="48.3" y1="22.1" x2="51.5" y2="24"/><line x1="19.5" y1="7.6" x2="22.1" y2="10.5"/><line x1="42.4" y1="67.3" x2="45.2" y2="68"/><line x1="29.2" y1="18.9" x2="27.9" y2="21.3"/><line x1="11" y1="90.5" x2="11.1" y2="92.9"/><line x1="1" y1="60.1" x2="0.9" y2="62.1"/><line x1="43.3" y1="68.1" x2="43" y2="70.6"/><line x1="45.9" y1="55.7" x2="44.9" y2="57.7"/><line x1="73.9" y1="87" x2="71.4" y2="89.7"/><line x1="33.8" y1="83.1" x2="35.9" y2="84.4"/><line x1="55" y1="82.9" x2="57.4" y2="83.6"/><line x1="3.3" y1="40.4" x2="5.5" y2="41.4"/><line x1="68.9" y1="53.7" x2="66.1" y2="54.2"/><line x1="62.5" y1="1.2" x2="60" y2="1.6"/><line x1="43.9" y1="47.1" x2="40.9" y2="47.6"/><line x1="91.3" y1="57.2" x2="94.1" y2="59.5"/><line x1="18.6" y1="92" x2="18.9" y2="94.4"/><line x1="88.4" y1="29.6" x2="89.2" y2="32.2"/><line x1="61.5" y1="2.1" x2="62.4" y2="4.3"/><line x1="76.2" y1="0" x2="75.3" y2="2.4"/><line x1="41.8" y1="51.7" x2="40.4" y2="53.5"/><line x1="22.1" y1="11.1" x2="19.8" y2="11.4"/><line x1="12.6" y1="48" x2="11.7" y2="51.7"/><line x1="5.2" y1="21.6" x2="8" y2="23.1"/><line x1="41.6" y1="37.6" x2="38.5" y2="38.8"/><line x1="79.1" y1="88" x2="81.7" y2="90.9"/><line x1="37.5" y1="4.7" x2="35.4" y2="5.3"/><line x1="1.6" y1="26.6" x2="4" y2="29.7"/><line x1="80.1" y1="38.6" x2="79.7" y2="42.3"/><line x1="74.2" y1="60.1" x2="74.2" y2="62.3"/><line x1="22.4" y1="60.5" x2="21.5" y2="64"/><line x1="82.7" y1="88.5" x2="84.5" y2="89.8"/><line x1="82.6" y1="52.5" x2="85.4" y2="54.3"/><line x1="23.5" y1="21.8" x2="24.8" y2="24.5"/><line x1="62.3" y1="6.8" x2="60.1" y2="9.1"/><line x1="43.4" y1="61.8" x2="41.8" y2="63"/><line x1="43.7" y1="62.4" x2="41.7" y2="65"/><line x1="16.6" y1="88.2" x2="14.7" y2="89.7"/><line x1="39.6" y1="88.1" x2="41.9" y2="89.8"/><line x1="88.5" y1="82.8" x2="91.1" y2="85.1"/><line x1="33.1" y1="61" x2="31.4" y2="62.5"/><line x1="20.5" y1="19.8" x2="21.9" y2="21.3"/><line x1="12.5" y1="37.4" x2="13" y2="39.5"/><line x1="53.6" y1="86.7" x2="52.9" y2="89.3"/><line x1="64.8" y1="40.2" x2="67.3" y2="41.8"/><line x1="1.6" y1="62.2" x2="4" y2="63.5"/><line x1="88.5" y1="70.5" x2="85.7" y2="72.2"/><line x1="58.4" y1="64.9" x2="56" y2="65.1"/><line x1="70.5" y1="27.7" x2="73" y2="30.3"/><line x1="55.3" y1="78.2" x2="52.4" y2="79.4"/><line x1="18.2" y1="1.4" x2="17.9" y2="4.8"/><line x1="25.1" y1="6.4" x2="27.4" y2="6.5"/><line x1="64" y1="0.4" x2="65.9" y2="2"/><line x1="65.4" y1="90.8" x2="67.6" y2="91"/><line x1="86" y1="89.2" x2="88.4" y2="90.4"/><line x1="48.1" y1="29.5" x2="48.8" y2="32.3"/><line x1="23.8" y1="5.1" x2="26" y2="5.7"/><line x1="8.4" y1="57.4" x2="6.9" y2="59.5"/><line x1="72.8" y1="67" x2="74.3" y2="69.7"/><line x1="17.3" y1="85.5" x2="16.9" y2="87.5"/><line x1="14.2" y1="63.7" x2="15.4" y2="66.9"/><line x1="21.1" y1="73.3" x2="19.3" y2="74.6"/><line x1="53.9" y1="17.6" x2="51.7" y2="20.5"/><line x1="72.8" y1="21.3" x2="76" y2="22.2"/><line x1="52" y1="12.7" x2="54.6" y2="14.5"/><line x1="9.9" y1="58.3" x2="11.8" y2="60.1"/><line x1="39" y1="49" x2="37.6" y2="50.6"/><line x1="66.6" y1="20.3" x2="68.6" y2="22.9"/><line x1="63.6" y1="56.6" x2="61.3" y2="57.3"/><line x1="28.6" y1="61" x2="30.2" y2="62.6"/><line x1="20.8" y1="71" x2="17.9" y2="72.7"/><line x1="88.2" y1="73.1" x2="89.7" y2="75.3"/><line x1="66.3" y1="5.1" x2="65.6" y2="7.2"/><line x1="4.5" y1="47.3" x2="8" y2="49"/><line x1="80.7" y1="42.5" x2="82.5" y2="43.8"/><line x1="46.6" y1="48" x2="48.1" y2="51.1"/><line x1="48.7" y1="71.3" x2="50.7" y2="72"/><line x1="35.6" y1="44.5" x2="37.9" y2="46.9"/><line x1="20.4" y1="29.3" x2="20.7" y2="32.7"/><line x1="70.9" y1="34.2" x2="71.5" y2="38"/><line x1="85.9" y1="56.9" x2="88.7" y2="57.9"/><line x1="58.6" y1="25.6" x2="62.5" y2="26.1"/><line x1="83.7" y1="11.9" x2="84" y2="15.1"/><line x1="27.6" y1="6.3" x2="25.1" y2="8.8"/><line x1="40.2" y1="7.9" x2="41" y2="10"/><line x1="88.6" y1="4.7" x2="90.8" y2="7.5"/><line x1="12.4" y1="9.8" x2="14.7" y2="10.3"/></g>
<g fill="#eeeeee"><rect x="39.5" y="62.5" width="1" height="1"/><rect x="10.5" y="76.2" width="1" height="1"/><rect x="11.2" y="84.9" width="1" height="1"/><rect x="91.6" y="86.4" width="1" height="1"/><rect x="48.4" y="26.7" width="1" height="1"/><rect x="32" y="69" width="1" height="1"/><rect x="45.7" y="85.5" width="1" height="1"/><rect x="8.6" y="44.6" width="1" height="1"/><rect x="79.5" y="55" width="1" height="1"/><rect x="49.7" y="8.1" width="1" height="1"/><rect x="12.9" y="24.9" width="1" height="1"/><rect x="82.2" y="77.8" width="1" height="1"/><rect x="20.9" y="85.1" width="1" height="1"/><rect x="3" y="55.1" width="1" height="1"/><rect x="89" y="31.7" width="1" height="1"/><rect x="86.9" y="60.4" width="1" height="1"/><rect x="4.6" y="30.6" width="1" height="1"/><rect x="41.4" y="22.8" width="1" height="1"/><rect x="68.3" y="16.5" width="1" height="1"/><rect x="72.5" y="27.4" width="1" height="1"/><rect x="6.4" y="51.4" width="1" height="1"/><rect x="8.8" y="50.7" width="1" height="1"/><rect x="72.5" y="54.8" width="1" height="1"/><rect x="42.4" y="3.1" width="1" height="1"/><rect x="47.2" y="8.9" width="1" height="1"/><rect x="59.5" y="12.1" width="1" height="1"/><rect x="53.2" y="32.5" width="1" height="1"/><rect x="34.5" y="61" width="1" height="1"/><rect x="15.1" y="15.6" width="1" height="1"/><rect x="86.6" y="30.5" width="1" height="1"/><rect x="77.5" y="80.4" width="1" height="1"/><rect x="44.2" y="13.7" width="1" height="1"/><rect x="8.6" y="80.9" width="1" height="1"/><rect x="10.8" y="45.6" width="1" height="1"/><rect x="49.3" y="10.8" width="1" height="1"/><rect x="43" y="15.1" width="1" height="1"/><rect x="49.3" y="46.6" width="1" height="1"/><rect x="33.8" y="18.2" width="1" height="1"/><rect x="37.1" y="18.7" width="1" height="1"/><rect x="11.7" y="22.1" width="1" height="1"/><rect x="80.2" y="46.2" width="1" height="1"/><rect x="81.9" y="1.4" width="1" height="1"/><rect x="86.8" y="44.9" width="1" height="1"/><rect x="72.8" y="52.5" width="1" height="1"/><rect x="63.4" y="21.1" width="1" height="1"/><rect x="69" y="14.1" width="1" height="1"/><rect x="24.3" y="2.8" width="1" height="1"/><rect x="36.2" y="47.7" width="1" height="1"/><rect x="26.9" y="81.9" width="1" height="1"/><rect x="7.8" y="53.2" width="1" height="1"/><rect x="21.5" y="54.8" width="1" height="1"/><rect x="72.1" y="65.4" width="1" height="1"/><rect x="5.7" y="22.6" width="1" height="1"/><rect x="55.1" y="90.4" width="1" height="1"/><rect x="3.8" y="56.9" width="1" height="1"/><rect x="63.6" y="74.9" width="1" height="1"/><rect x="31.5" y="74.6" width="1" height="1"/><rect x="42.5" y="84.7" width="1" height="1"/><rect x="1" y="86.5" width="1" height="1"/><rect x="37.9" y="37.5" width="1" height="1"/><rect x="8.1" y="22.5" width="1" height="1"/><rect x="67.5" y="62.5" width="1" height="1"/><rect x="13.9" y="31.7" width="1" height="1"/><rect x="12.9" y="18.2" width="1" height="1"/><rect x="20.2" y="30.5" width="1" height="1"/><rect x="89.8" y="91.8" width="1" height="1"/><rect x="72.8" y="44.1" width="1" height="1"/><rect x="45.8" y="71.7" width="1" height="1"/><rect x="83.5" y="69.1" width="1" height="1"/><rect x="58.5" y="18.3" width="1" height="1"/><rect x="57.5" y="77.8" width="1" height="1"/><rect x="72.4" y="8.5" width="1" height="1"/><rect x="66" y="32.1" width="1" height="1"/><rect x="14.9" y="88.8" width="1" height="1"/><rect x="61.9" y="68.6" width="1" height="1"/><rect x="12.4" y="76.2" width="1" height="1"/><rect x="86.2" y="83.2" width="1" height="1"/><rect x="68.5" y="76.6" width="1" height="1"/><rect x="73.8" y="54.3" width="1" height="1"/><rect x="40" y="75.9" width="1" height="1"/><rect x="72.2" y="80.1" width="1" height="1"/><rect x="27.5" y="88.4" width="1" height="1"/><rect x="48.9" y="87" width="1" height="1"/><rect x="10.7" y="89.1" width="1" height="1"/><rect x="72.4" y="23.2" width="1" height="1"/><rect x="77.1" y="21.4" width="1" height="1"/><rect x="18.2" y="42.1" width="1" height="1"/><rect x="21.8" y="45.3" width="1" height="1"/><rect x="83.5" y="63.1" width="1" height="1"/><rect x="65.4" y="36.1" width="1" height="1"/><rect x="72.1" y="73" width="1" height="1"/><rect x="62.8" y="86.6" width="1" height="1"/><rect x="76" y="37.4" width="1" height="1"/><rect x="8" y="60" width="1" height="1"/><rect x="76.9" y="31.2" width="1" height="1"/><rect x="54.7" y="76.9" width="1" height="1"/><rect x="73" y="0.4" width="1" height="1"/><rect x="45" y="1.5" width="1" height="1"/><rect x="10.2" y="74.7" width="1" height="1"/><rect x="38.5" y="55.6" width="1" height="1"/><rect x="42.1" y="30.9" width="1" height="1"/><rect x="19.7" y="32.5" width="1" height="1"/><rect x="77.7" y="57" width="1" height="1"/><rect x="26.9" y="8.1" width="1" height="1"/><rect x="24.9" y="64.5" width="1" height="1"/><rect x="40.7" y="60.8" width="1" height="1"/><rect x="74.3" y="11.1" width="1" height="1"/><rect x="62.8" y="3.8" width="1" height="1"/><rect x="75.7" y="16.9" width="1" height="1"/><rect x="25" y="88.1" width="1" height="1"/><rect x="33.3" y="20.6" width="1" height="1"/><rect x="81.9" y="56.1" width="1" height="1"/><rect x="82.2" y="36.3" width="1" height="1"/><rect x="46" y="87.9" width="1" height="1"/><rect x="46.6" y="90.9" width="1" height="1"/><rect x="17.4" y="76.4" width="1" height="1"/><rect x="14.9" y="48.5" width="1" height="1"/><rect x="0" y="16.1" width="1" height="1"/><rect x="86.9" y="41.8" width="1" height="1"/><rect x="74.5" y="23.1" width="1" height="1"/><rect x="32.4" y="9.3" width="1" height="1"/><rect x="50.8" y="79.3" width="1" height="1"/><rect x="47.3" y="34.7" width="1" height="1"/><rect x="85.4" y="82.2" width="1" height="1"/><rect x="61.3" y="7" width="1" height="1"/><rect x="57.4" y="40.9" width="1" height="1"/><rect x="88.1" y="33.3" width="1" height="1"/><rect x="60.8" y="58.1" width="1" height="1"/><rect x="34.6" y="48" width="1" height="1"/><rect x="62.2" y="83.5" width="1" height="1"/><rect x="45.8" y="33.5" width="1" height="1"/><rect x="89.8" y="5.2" width="1" height="1"/><rect x="76.8" y="62.9" width="1" height="1"/><rect x="51.3" y="41.2" width="1" height="1"/><rect x="69.1" y="82" width="1" height="1"/><rect x="67.1" y="69" width="1" height="1"/><rect x="3.2" y="29.9" width="1" height="1"/><rect x="12.6" y="87.7" width="1" height="1"/><rect x="82" y="13.3" width="1" height="1"/><rect x="54.1" y="53.1" width="1" height="1"/><rect x="4.3" y="36.1" width="1" height="1"/><rect x="68.8" y="59" width="1" height="1"/><rect x="25.8" y="70.1" width="1" height="1"/><rect x="26.8" y="50.1" width="1" height="1"/><rect x="38.7" y="90" width="1" height="1"/><rect x="59.7" y="74.1" width="1" height="1"/><rect x="62.2" y="35" width="1" height="1"/><rect x="88.6" y="65.3" width="1" height="1"/><rect x="63.6" y="25.5" width="1" height="1"/><rect x="14.9" y="52.9" width="1" height="1"/><rect x="76" y="73" width="1" height="1"/><rect x="31.9" y="12.9" width="1" height="1"/><rect x="47.5" y="80.7" width="1" height="1"/><rect x="14.9" y="67.9" width="1" height="1"/><rect x="15.7" y="28.7" width="1" height="1"/><rect x="4.9" y="27.4" width="1" height="1"/><rect x="35.2" y="89" width="1" height="1"/><rect x="88.5" y="17.2" width="1" height="1"/><rect x="28.5" y="86.8" width="1" height="1"/><rect x="18.2" y="29.5" width="1" height="1"/><rect x="40.3" y="10" width="1" height="1"/><rect x="23.9" y="36.2" width="1" height="1"/><rect x="35.5" y="88.7" width="1" height="1"/><rect x="24.6" y="18.8" width="1" height="1"/><rect x="83.6" y="41.4" width="1" height="1"/><rect x="77" y="58.6" width="1" height="1"/><rect x="71.6" y="29" width="1" height="1"/><rect x="14" y="69.7" width="1" height="1"/><rect x="43.3" y="51.4" width="1" height="1"/><rect x="61.7" y="69.2" width="1" height="1"/><rect x="25.3" y="33.4" width="1" height="1"/><rect x="84.4" y="48.7" width="1" height="1"/><rect x="26.5" y="58" width="1" height="1"/><rect x="23.9" y="71" width="1" height="1"/><rect x="3.8" y="76.1" width="1" height="1"/><rect x="52.1" y="32.5" width="1" height="1"/><rect x="86.5" y="24.4" width="1" height="1"/><rect x="22.4" y="6.4" width="1" height="1"/><rect x="50.5" y="69.3" width="1" height="1"/><rect x="62.4" y="38" width="1" height="1"/><rect x="74.3" y="10.2" width="1" height="1"/><rect x="28.2" y="59.3" width="1" height="1"/><rect x="89" y="58.3" width="1" height="1"/><rect x="63.7" y="71.3" width="1" height="1"/><rect x="36.3" y="86.5" width="1" height="1"/><rect x="68.3" y="31.4" width="1" height="1"/><rect x="36.1" y="74.1" width="1" height="1"/><rect x="32.2" y="17.1" width="1" height="1"/><rect x="80.2" y="48.9" width="1" height="1"/><rect x="47.9" y="61.6" width="1" height="1"/><rect x="82.9" y="12.3" width="1" height="1"/><rect x="31.2" y="6.1" width="1" height="1"/><rect x="38" y="46.2" width="1" height="1"/><rect x="78.4" y="61.4" width="1" height="1"/><rect x="53.2" y="37.1" width="1" height="1"/><rect x="52.8" y="25.2" width="1" height="1"/><rect x="77.7" y="72.5" width="1" height="1"/><rect x="77.1" y="13.9" width="1" height="1"/><rect x="61.8" y="69.4" width="1" height="1"/><rect x="46.1" y="82.6" width="1" height="1"/><rect x="82.7" y="68.4" width="1" height="1"/><rect x="75.5" y="59.7" width="1" height="1"/><rect x="80.8" y="12.1" width="1" height="1"/><rect x="64.8" y="64.7" width="1" height="1"/><rect x="56.3" y="25.3" width="1" height="1"/><rect x="6.2" y="55.5" width="1" height="1"/><rect x="75.8" y="25.1" width="1" height="1"/><rect x="19.6" y="20.6" width="1" height="1"/><rect x="8.6" y="62.2" width="1" height="1"/><rect x="89.7" y="73.8" width="1" height="1"/><rect x="33.1" y="64.3" width="1" height="1"/><rect x="6.6" y="77.2" width="1" height="1"/><rect x="29.9" y="0.3" width="1" height="1"/><rect x="57.9" y="12.8" width="1" height="1"/><rect x="25.3" y="5.4" width="1" height="1"/><rect x="41" y="51.1" width="1" height="1"/><rect x="74.3" y="3.6" width="1" height="1"/><rect x="76.1" y="10.2" width="1" height="1"/><rect x="20.7" y="57.9" width="1" height="1"/><rect x="31.3" y="30.5" width="1" height="1"/><rect x="52.3" y="20" width="1" height="1"/><rect x="73" y="19.2" width="1" height="1"/><rect x="77.2" y="74.4" width="1" height="1"/><rect x="49.4" y="2.8" width="1" height="1"/><rect x="71.6" y="2.6" width="1" height="1"/><rect x="46.4" y="39" width="1" height="1"/><rect x="5.8" y="58" width="1" height="1"/><rect x="66.7" y="53.8" width="1" height="1"/><rect x="36.8" y="47.1" width="1" height="1"/><rect x="54.2" y="20.8" width="1" height="1"/><rect x="79.8" y="91.6" width="1" height="1"/><rect x="74" y="88.4" width="1" height="1"/><rect x="30.3" y="90.7" width="1" height="1"/><rect x="6.6" y="44" width="1" height="1"/><rect x="12.3" y="41.8" width="1" height="1"/><rect x="62.8" y="65.2" width="1" height="1"/><rect x="41.8" y="31.4" width="1" height="1"/><rect x="17.5" y="37.1" width="1" height="1"/><rect x="26" y="17.9" width="1" height="1"/><rect x="67.7" y="47.5" width="1" height="1"/><rect x="40.4" y="18.2" width="1" height="1"/><rect x="64.7" y="18.1" width="1" height="1"/><rect x="24.4" y="51.5" width="1" height="1"/><rect x="64.5" y="89.5" width="1" height="1"/><rect x="68.8" y="87.2" width="1" height="1"/><rect x="84.6" y="66.5" width="1" height="1"/><rect x="66.2" y="5.8" width="1" height="1"/><rect x="18.9" y="1.2" width="1" height="1"/><rect x="79.4" y="66.4" width="1" height="1"/><rect x="58" y="24.3" width="1" height="1"/><rect x="32.7" y="15.1" width="1" height="1"/><rect x="58.2" y="91.2" width="1" height="1"/><rect x="28.1" y="4.1" width="1" height="1"/><rect x="16.1" y="32.7" width="1" height="1"/><rect x="82.7" y="74" width="1" height="1"/><rect x="41.9" y="9.4" width="1" height="1"/><rect x="9.8" y="14.2" width="1" height="1"/><rect x="71.5" y="43.4" width="1" height="1"/><rect x="91.1" y="83.9" width="1" height="1"/><rect x="73.1" y="43.8" width="1" height="1"/><rect x="75.6" y="11.8" width="1" height="1"/><rect x="10" y="51.8" width="1" height="1"/><rect x="46.7" y="19.3" width="1" height="1"/><rect x="23.2" y="2" width="1" height="1"/><rect x="83.6" y="65.3" width="1" height="1"/><rect x="87" y="90.2" width="1" height="1"/><rect x="40.2" y="67.4" width="1" height="1"/><rect x="35.3" y="74.7" width="1" height="1"/><rect x="77.4" y="12.3" width="1" height="1"/><rect x="1.2" y="19.7" width="1" height="1"/><rect x="53.9" y="34.9" width="1" height="1"/><rect x="0.8" y="76.4" width="1" height="1"/><rect x="72.3" y="42.7" width="1" height="1"/><rect x="4" y="81.8" width="1" height="1"/><rect x="49.1" y="6.5" width="1" height="1"/><rect x="29.7" y="57.5" width="1" height="1"/><rect x="81.4" y="44.6" width="1" height="1"/><rect x="58.8" y="18.9" width="1" height="1"/><rect x="22.4" y="83.3" width="1" height="1"/><rect x="35.2" y="9.6" width="1" height="1"/><rect x="54.4" y="11.6" width="1" height="1"/><rect x="18.4" y="42" width="1" height="1"/><rect x="53.9" y="58.5" width="1" height="1"/><rect x="65" y="40.4" width="1" height="1"/><rect x="6.2" y="66.7" width="1" height="1"/><rect x="4.9" y="43.3" width="1" height="1"/><rect x="36.8" y="61.9" width="1" height="1"/><rect x="65.7" y="22.1" width="1" height="1"/><rect x="59.8" y="63.7" width="1" height="1"/><rect x="43.4" y="13" width="1" height="1"/><rect x="83.6" y="55.1" width="1" height="1"/><rect x="5.8" y="22" width="1" height="1"/><rect x="90.8" y="21" width="1" height="1"/><rect x="36.1" y="72.5" width="1" height="1"/><rect x="75.8" y="58.3" width="1" height="1"/><rect x="68.2" y="3.5" width="1" height="1"/><rect x="8.6" y="89.8" width="1" height="1"/><rect x="73.9" y="3.5" width="1" height="1"/><rect x="4.5" y="22.1" width="1" height="1"/><rect x="85.6" y="20.2" width="1" height="1"/><rect x="61.8" y="85.6" width="1" height="1"/><rect x="58.8" y="84.6" width="1" height="1"/><rect x="24.2" y="14.1" width="1" height="1"/><rect x="1.7" y="69.7" width="1" height="1"/><rect x="9.6" y="89.5" width="1" height="1"/><rect x="65.3" y="17.2" width="1" height="1"/><rect x="74.2" y="15" width="1" height="1"/><rect x="47.1" y="9.7" width="1" height="1"/><rect x="72.4" y="81.8" width="1" height="1"/><rect x="84.3" y="0.2" width="1" height="1"/><rect x="78.3" y="51.1" width="1" height="1"/><rect x="75.6" y="46.2" width="1" height="1"/><rect x="57" y="54.7" width="1" height="1"/><rect x="73.6" y="7.1" width="1" height="1"/><rect x="5" y="50.2" width="1" height="1"/><rect x="26.8" y="36.5" width="1" height="1"/><rect x="0.7" y="68.5" width="1" height="1"/><rect x="2.2" y="76.3" width="1" height="1"/><rect x="74.7" y="42.1" width="1" height="1"/><rect x="11.2" y="59.8" width="1" height="1"/><rect x="19.1" y="39.5" width="1" height="1"/><rect x="10.2" y="89.8" width="1" height="1"/><rect x="50.2" y="32.4" width="1" height="1"/><rect x="8.7" y="67.2" width="1" height="1"/><rect x="78.2" y="78" width="1" height="1"/><rect x="9.3" y="33.8" width="1" height="1"/><rect x="27.9" y="70.1" width="1" height="1"/><rect x="13.6" y="55.8" width="1" height="1"/><rect x="90" y="70.7" width="1" height="1"/><rect x="0.6" y="6.9" width="1" height="1"/><rect x="10.5" y="63.7" width="1" height="1"/><rect x="55.1" y="47.9" width="1" height="1"/><rect x="41.9" y="37.5" width="1" height="1"/><rect x="56.2" y="59.7" width="1" height="1"/><rect x="84.3" y="67.4" width="1" height="1"/><rect x="73.3" y="84" width="1" height="1"/><rect x="77" y="65.9" width="1" height="1"/><rect x="2.8" y="62.6" width="1" height="1"/><rect x="78.2" y="39.6" width="1" height="1"/><rect x="80.8" y="16.5" width="1" height="1"/><rect x="86.7" y="40.6" width="1" height="1"/><rect x="65" y="23.2" width="1" height="1"/><rect x="27.6" y="32.1" width="1" height="1"/><rect x="29.8" y="8.7" width="1" height="1"/><rect x="40.7" y="90.2" width="1" height="1"/><rect x="60.2" y="85.8" width="1" height="1"/><rect x="70.1" y="77" width="1" height="1"/><rect x="91.5" y="69.2" width="1" height="1"/><rect x="25.2" y="23" width="1" height="1"/><rect x="37.9" y="1.9" width="1" height="1"/><rect x="21.2" y="81.5" width="1" height="1"/><rect x="84.7" y="30.2" width="1" height="1"/><rect x="70.9" y="71.3" width="1" height="1"/><rect x="81.9" y="73.1" width="1" height="1"/><rect x="48.9" y="9.6" width="1" height="1"/><rect x="75.9" y="28.9" width="1" height="1"/><rect x="57.7" y="33.8" width="1" height="1"/><rect x="49.4" y="88.8" width="1" height="1"/><rect x="14.8" y="48.8" width="1" height="1"/><rect x="59.8" y="49.5" width="1" height="1"/><rect x="86.3" y="37.5" width="1" height="1"/><rect x="84.1" y="63.5" width="1" height="1"/><rect x="89" y="8.2" width="1" height="1"/><rect x="19.5" y="26.4" width="1" height="1"/><rect x="83.4" y="1.3" width="1" height="1"/><rect x="23.9" y="65.9" width="1" height="1"/><rect x="91.1" y="16.2" width="1" height="1"/><rect x="40.3" y="63.2" width="1" height="1"/><rect x="63.5" y="68.6" width="1" height="1"/><rect x="69.3" y="22.9" width="1" height="1"/><rect x="23.7" y="2.5" width="1" height="1"/><rect x="63.6" y="19.2" width="1" height="1"/><rect x="23.9" y="88.7" width="1" height="1"/><rect x="59.2" y="54.4" width="1" height="1"/><rect x="60.4" y="55" width="1" height="1"/><rect x="63.9" y="28" width="1" height="1"/><rect x="5.9" y="6.2" width="1" height="1"/><rect x="1.3" y="33.3" width="1" height="1"/><rect x="13.1" y="10.4" width="1" height="1"/><rect x="45.4" y="89.2" width="1" height="1"/><rect x="63.3" y="25.2" width="1" height="1"/><rect x="70.8" y="16.4" width="1" height="1"/><rect x="9.2" y="27.9" width="1" height="1"/><rect x="37.6" y="63.4" width="1" height="1"/><rect x="40.9" y="67" width="1" height="1"/><rect x="8.7" y="85.8" width="1" height="1"/><rect x="31.5" y="76.6" width="1" height="1"/><rect x="2.8" y="76.2" width="1" height="1"/><rect x="20.8" y="78.7" width="1" height="1"/><rect x="73.9" y="61.7" width="1" height="1"/><rect x="25.5" y="0.9" width="1" height="1"/><rect x="17.5" y="83.2" width="1" height="1"/><rect x="14.5" y="60.7" width="1" height="1"/><rect x="54" y="60.8" width="1" height="1"/><rect x="16.6" y="13.2" width="1" height="1"/><rect x="8.9" y="90.4" width="1" height="1"/><rect x="35.2" y="60" width="1" height="1"/><rect x="52.4" y="20.5" width="1" height="1"/><rect x="6" y="1.4" width="1" height="1"/><rect x="78.4" y="12" width="1" height="1"/><rect x="88.6" y="33.5" width="1" height="1"/><rect x="66.5" y="12.7" width="1" height="1"/><rect x="72.5" y="23.2" width="1" height="1"/><rect x="33.7" y="48.1" width="1" height="1"/><rect x="10.3" y="22.8" width="1" height="1"/><rect x="73.2" y="26.2" width="1" height="1"/><rect x="35" y="70.4" width="1" height="1"/><rect x="20.6" y="17.8" width="1" height="1"/><rect x="20.1" y="35.3" width="1" height="1"/><rect x="33.6" y="59" width="1" height="1"/><rect x="43.4" y="80" width="1" height="1"/><rect x="4.7" y="61.1" width="1" height="1"/><rect x="77" y="21.6" width="1" height="1"/><rect x="2.7" y="40.3" width="1" height="1"/><rect x="10.7" y="42.3" width="1" height="1"/><rect x="65.5" y="8.6" width="1" height="1"/><rect x="10.8" y="44.1" width="1" height="1"/><rect x="16" y="21.2" width="1" height="1"/><rect x="40.5" y="10.9" width="1" height="1"/><rect x="6.2" y="33.2" width="1" height="1"/></g>
</pattern>
<radialGradient id="rim" cx="284" cy="265" r="235" gradientUnits="userSpaceOnUse">
<stop offset="0.89" stop-color="#140004" stop-opacity="0"/><stop offset="0.95" stop-color="#140004" stop-opacity="0.35"/><stop offset="0.985" stop-color="#140004" stop-opacity="0.6"/><stop offset="1" stop-color="#140004" stop-opacity="0.65"/>
</radialGradient>
<clipPath id="hbclip"><path d="M0,0 H760 V399.5 H268 V760 H0 Z"/></clipPath>
</defs>
<g clip-path="url(#hbclip)">
<circle cx="284" cy="265" r="235" fill="url(#hb)"/>
<circle cx="284" cy="265" r="235" fill="url(#rim)"/>
<g fill="#b0a822" stroke="#4f4a0c" stroke-width="0.7"><circle cx="299" cy="421.6" r="1.8"/><circle cx="128.5" cy="111.6" r="1.8"/><circle cx="408.5" cy="230.1" r="1.8"/><circle cx="207.9" cy="87.9" r="1.8"/><circle cx="104" cy="152" r="1.8"/><circle cx="397.1" cy="449.1" r="1.8"/><circle cx="474" cy="252.2" r="1.8"/><circle cx="184.7" cy="248.7" r="1.8"/><circle cx="385.5" cy="375" r="1.8"/><circle cx="431.3" cy="189.3" r="1.8"/><circle cx="165.5" cy="149.9" r="1.8"/><circle cx="200" cy="111.2" r="1.8"/><circle cx="399" cy="190.6" r="1.8"/><circle cx="137.1" cy="226.7" r="1.8"/><circle cx="407.8" cy="315.1" r="1.8"/><circle cx="202.7" cy="428.8" r="1.8"/><circle cx="433.9" cy="155" r="1.8"/><circle cx="220.9" cy="206.1" r="1.8"/><circle cx="214.9" cy="207.8" r="1.8"/><circle cx="476.5" cy="223" r="1.8"/><circle cx="347.8" cy="447" r="1.8"/><circle cx="404.1" cy="144.9" r="1.8"/><circle cx="403.8" cy="412.1" r="1.8"/><circle cx="168" cy="338.3" r="1.8"/><circle cx="227.9" cy="424.7" r="1.8"/><circle cx="111.8" cy="283.4" r="1.8"/><circle cx="207.1" cy="415.7" r="1.8"/><circle cx="211.3" cy="426.6" r="1.8"/><circle cx="398.8" cy="348.2" r="1.8"/><circle cx="458" cy="287.5" r="1.8"/><circle cx="263.2" cy="189.5" r="1.8"/><circle cx="417" cy="397.7" r="1.8"/><circle cx="209" cy="147.2" r="1.8"/><circle cx="96.2" cy="183.8" r="1.8"/><circle cx="142.3" cy="247.2" r="1.8"/><circle cx="237.9" cy="407.1" r="1.8"/><circle cx="346.2" cy="450.5" r="1.8"/><circle cx="270.1" cy="452.8" r="1.8"/><circle cx="393.9" cy="176.4" r="1.8"/><circle cx="459.8" cy="299.4" r="1.8"/><circle cx="98.8" cy="306.1" r="1.8"/><circle cx="438.7" cy="273.7" r="1.8"/><circle cx="276.5" cy="225.7" r="1.8"/><circle cx="462.8" cy="342.8" r="1.8"/><circle cx="146.7" cy="200.3" r="1.8"/><circle cx="376.1" cy="88.7" r="1.8"/><circle cx="326.7" cy="233.2" r="1.8"/><circle cx="386.2" cy="231.8" r="1.8"/><circle cx="92.4" cy="276.1" r="1.8"/><circle cx="434.6" cy="400.8" r="1.8"/><circle cx="216.6" cy="134.5" r="1.8"/><circle cx="399.1" cy="406.8" r="1.8"/><circle cx="227.9" cy="363.6" r="1.8"/><circle cx="190.8" cy="184.6" r="1.8"/><circle cx="393.1" cy="117.8" r="1.8"/><circle cx="306" cy="265.1" r="1.8"/><circle cx="363.2" cy="97.3" r="1.8"/><circle cx="312.7" cy="403.7" r="1.8"/><circle cx="308.2" cy="387" r="1.8"/><circle cx="457.2" cy="200" r="1.8"/><circle cx="497.8" cy="270.1" r="1.8"/><circle cx="487.3" cy="293.2" r="1.8"/><circle cx="116.5" cy="326.6" r="1.8"/><circle cx="426.6" cy="229.2" r="1.8"/><circle cx="332" cy="151.8" r="1.8"/><circle cx="178.7" cy="227.5" r="1.8"/><circle cx="290.2" cy="250.1" r="1.8"/><circle cx="208.9" cy="366.9" r="1.8"/><circle cx="400.7" cy="141.4" r="1.8"/><circle cx="169.1" cy="272.8" r="1.8"/><circle cx="131.5" cy="313.4" r="1.8"/><circle cx="324.2" cy="368.8" r="1.8"/><circle cx="401.1" cy="364.7" r="1.8"/><circle cx="383" cy="158.1" r="1.8"/><circle cx="257" cy="70.6" r="1.8"/><circle cx="367.5" cy="96.8" r="1.8"/><circle cx="265.2" cy="330.2" r="1.8"/><circle cx="409.3" cy="145.2" r="1.8"/><circle cx="142.5" cy="105.8" r="1.8"/><circle cx="241.8" cy="320.6" r="1.8"/><circle cx="191.5" cy="106.1" r="1.8"/><circle cx="139.8" cy="178.4" r="1.8"/><circle cx="286.1" cy="116.3" r="1.8"/><circle cx="274.5" cy="236.7" r="1.8"/><circle cx="493.1" cy="251.6" r="1.8"/><circle cx="142" cy="308.2" r="1.8"/><circle cx="215.4" cy="229.8" r="1.8"/><circle cx="214.4" cy="354.6" r="1.8"/><circle cx="233.2" cy="101.6" r="1.8"/><circle cx="455.2" cy="299.1" r="1.8"/><circle cx="391.4" cy="196.6" r="1.8"/><circle cx="345.1" cy="462.5" r="1.8"/><circle cx="237.8" cy="233.3" r="1.8"/><circle cx="189.2" cy="290.5" r="1.8"/><circle cx="360.5" cy="375.5" r="1.8"/><circle cx="220.9" cy="430.2" r="1.8"/><circle cx="420.8" cy="307.3" r="1.8"/><circle cx="367.3" cy="189.8" r="1.8"/><circle cx="493.1" cy="288.2" r="1.8"/><circle cx="238.2" cy="115.7" r="1.8"/><circle cx="200.9" cy="255.4" r="1.8"/><circle cx="282" cy="200.8" r="1.8"/><circle cx="469.7" cy="194.4" r="1.8"/><circle cx="299" cy="466.8" r="1.8"/><circle cx="349.4" cy="254.1" r="1.8"/><circle cx="205.3" cy="211.9" r="1.8"/><circle cx="335.3" cy="399.4" r="1.8"/><circle cx="171.5" cy="204.1" r="1.8"/><circle cx="231.2" cy="200.5" r="1.8"/><circle cx="478.1" cy="283.3" r="1.8"/><circle cx="178.6" cy="186.2" r="1.8"/><circle cx="173" cy="374.7" r="1.8"/><circle cx="387.5" cy="457.9" r="1.8"/><circle cx="494.1" cy="288.9" r="1.8"/><circle cx="483.8" cy="234" r="1.8"/><circle cx="139.7" cy="381.6" r="1.8"/><circle cx="452.5" cy="211.3" r="1.8"/><circle cx="403.2" cy="310.6" r="1.8"/><circle cx="345.1" cy="82.8" r="1.8"/><circle cx="125.2" cy="115" r="1.8"/><circle cx="335.4" cy="346.1" r="1.8"/><circle cx="232.7" cy="149.1" r="1.8"/><circle cx="131.3" cy="114.6" r="1.8"/><circle cx="120.6" cy="195" r="1.8"/><circle cx="298.2" cy="349.9" r="1.8"/><circle cx="420.7" cy="300.6" r="1.8"/><circle cx="261.2" cy="444.2" r="1.8"/><circle cx="331.5" cy="188.4" r="1.8"/><circle cx="235.1" cy="473.4" r="1.8"/><circle cx="312.6" cy="97" r="1.8"/><circle cx="131.3" cy="210.2" r="1.8"/><circle cx="426" cy="399.4" r="1.8"/><circle cx="424.1" cy="224.6" r="1.8"/><circle cx="363.6" cy="297.8" r="1.8"/><circle cx="391.3" cy="222.1" r="1.8"/><circle cx="485.6" cy="319.1" r="1.8"/><circle cx="197.7" cy="207" r="1.8"/><circle cx="175.4" cy="454.8" r="1.8"/><circle cx="421.3" cy="400.4" r="1.8"/><circle cx="372.4" cy="179.6" r="1.8"/><circle cx="405.1" cy="153.3" r="1.8"/><circle cx="336.1" cy="104.5" r="1.8"/><circle cx="452.1" cy="259.7" r="1.8"/><circle cx="404.8" cy="100.1" r="1.8"/><circle cx="406.7" cy="299.5" r="1.8"/><circle cx="475.4" cy="305.7" r="1.8"/><circle cx="249.8" cy="468.7" r="1.8"/><circle cx="97.4" cy="160" r="1.8"/><circle cx="256.6" cy="371.4" r="1.8"/><circle cx="169.6" cy="373.3" r="1.8"/><circle cx="353.9" cy="75.9" r="1.8"/><circle cx="281.1" cy="369.2" r="1.8"/><circle cx="149.8" cy="337.5" r="1.8"/><circle cx="179.6" cy="204.1" r="1.8"/><circle cx="317.7" cy="410" r="1.8"/><circle cx="405.5" cy="244.4" r="1.8"/><circle cx="454.9" cy="218.6" r="1.8"/><circle cx="495.5" cy="252.2" r="1.8"/><circle cx="104.7" cy="382.1" r="1.8"/><circle cx="117.1" cy="349.4" r="1.8"/><circle cx="303.2" cy="378" r="1.8"/><circle cx="110.6" cy="329.3" r="1.8"/><circle cx="226" cy="147.1" r="1.8"/><circle cx="273.6" cy="70.8" r="1.8"/><circle cx="269.4" cy="367.8" r="1.8"/><circle cx="391.7" cy="191.3" r="1.8"/><circle cx="284.1" cy="188.1" r="1.8"/><circle cx="271.7" cy="399.4" r="1.8"/><circle cx="411.4" cy="326.5" r="1.8"/><circle cx="299.5" cy="431.8" r="1.8"/><circle cx="257.5" cy="76.2" r="1.8"/><circle cx="369.5" cy="380" r="1.8"/><circle cx="158.1" cy="247.8" r="1.8"/><circle cx="370.4" cy="290.4" r="1.8"/><circle cx="239.4" cy="108.8" r="1.8"/><circle cx="113.4" cy="251" r="1.8"/><circle cx="280.8" cy="155.9" r="1.8"/><circle cx="221.8" cy="290.4" r="1.8"/><circle cx="407.1" cy="307" r="1.8"/><circle cx="230" cy="287.3" r="1.8"/><circle cx="182.6" cy="325.9" r="1.8"/><circle cx="313.6" cy="475.7" r="1.8"/><circle cx="371.2" cy="200.3" r="1.8"/><circle cx="304.3" cy="435.4" r="1.8"/><circle cx="363.8" cy="199.4" r="1.8"/><circle cx="333.3" cy="171.1" r="1.8"/><circle cx="145.7" cy="268.5" r="1.8"/><circle cx="363.5" cy="351.6" r="1.8"/><circle cx="367.8" cy="365.2" r="1.8"/><circle cx="196.1" cy="297.2" r="1.8"/><circle cx="473.2" cy="307.1" r="1.8"/><circle cx="144.3" cy="114.2" r="1.8"/><circle cx="462.8" cy="272.3" r="1.8"/><circle cx="239.4" cy="357.8" r="1.8"/><circle cx="399.7" cy="157.1" r="1.8"/><circle cx="118.5" cy="201.2" r="1.8"/><circle cx="341.9" cy="337.1" r="1.8"/><circle cx="124.7" cy="371.3" r="1.8"/><circle cx="308.1" cy="198.7" r="1.8"/><circle cx="119.2" cy="306.6" r="1.8"/><circle cx="425.4" cy="105.2" r="1.8"/><circle cx="285.3" cy="300" r="1.8"/><circle cx="312.4" cy="224" r="1.8"/><circle cx="76.3" cy="228.7" r="1.8"/><circle cx="160.3" cy="385.7" r="1.8"/><circle cx="162.7" cy="417.3" r="1.8"/><circle cx="273.4" cy="212.1" r="1.8"/><circle cx="206.7" cy="389.6" r="1.8"/><circle cx="153.5" cy="344.9" r="1.8"/><circle cx="441.3" cy="242.7" r="1.8"/><circle cx="285.5" cy="464.1" r="1.8"/><circle cx="332.9" cy="115" r="1.8"/><circle cx="204.9" cy="71.8" r="1.8"/><circle cx="354" cy="229.1" r="1.8"/><circle cx="194" cy="270.7" r="1.8"/><circle cx="121.7" cy="173.5" r="1.8"/><circle cx="201.4" cy="457.7" r="1.8"/><circle cx="380.9" cy="231.6" r="1.8"/><circle cx="353.6" cy="103.6" r="1.8"/><circle cx="342.8" cy="57.4" r="1.8"/><circle cx="287.2" cy="187.6" r="1.8"/><circle cx="97.2" cy="379" r="1.8"/><circle cx="385.9" cy="270" r="1.8"/><circle cx="128" cy="344.7" r="1.8"/><circle cx="252.7" cy="340.8" r="1.8"/><circle cx="236.2" cy="123.2" r="1.8"/><circle cx="90.3" cy="353.1" r="1.8"/><circle cx="174.1" cy="345.2" r="1.8"/><circle cx="153.6" cy="218.4" r="1.8"/><circle cx="372.6" cy="232.4" r="1.8"/><circle cx="285.1" cy="259.6" r="1.8"/><circle cx="140.2" cy="344.8" r="1.8"/><circle cx="281.9" cy="410.1" r="1.8"/><circle cx="431.8" cy="252.6" r="1.8"/><circle cx="115.4" cy="257.3" r="1.8"/><circle cx="108.7" cy="352.3" r="1.8"/><circle cx="376.8" cy="301.7" r="1.8"/><circle cx="385.2" cy="406.4" r="1.8"/><circle cx="102.1" cy="181.4" r="1.8"/><circle cx="74.3" cy="304" r="1.8"/><circle cx="388.8" cy="193.5" r="1.8"/><circle cx="375.9" cy="202.4" r="1.8"/><circle cx="383.7" cy="160.2" r="1.8"/><circle cx="390.3" cy="436.4" r="1.8"/><circle cx="348.3" cy="103" r="1.8"/><circle cx="458.9" cy="366.9" r="1.8"/><circle cx="103.1" cy="208.9" r="1.8"/><circle cx="198.6" cy="457.2" r="1.8"/><circle cx="418.4" cy="436.6" r="1.8"/><circle cx="315" cy="122.4" r="1.8"/><circle cx="292.8" cy="257" r="1.8"/><circle cx="207.6" cy="205.6" r="1.8"/><circle cx="288.9" cy="306.4" r="1.8"/><circle cx="153.6" cy="160.4" r="1.8"/><circle cx="285.4" cy="266.8" r="1.8"/><circle cx="245.8" cy="342.2" r="1.8"/><circle cx="136.2" cy="280" r="1.8"/><circle cx="178.6" cy="391.9" r="1.8"/><circle cx="379.7" cy="397.1" r="1.8"/><circle cx="292.2" cy="147" r="1.8"/><circle cx="484" cy="270.1" r="1.8"/><circle cx="225.3" cy="166.5" r="1.8"/><circle cx="238" cy="363.1" r="1.8"/><circle cx="433.7" cy="256.8" r="1.8"/><circle cx="392.6" cy="130.1" r="1.8"/><circle cx="261.5" cy="198.2" r="1.8"/><circle cx="193" cy="198.9" r="1.8"/><circle cx="403.7" cy="374.7" r="1.8"/><circle cx="146.5" cy="139.9" r="1.8"/><circle cx="417.7" cy="337.7" r="1.8"/><circle cx="366.8" cy="328.6" r="1.8"/><circle cx="374.9" cy="158.2" r="1.8"/><circle cx="77.6" cy="199.5" r="1.8"/><circle cx="295.6" cy="345" r="1.8"/><circle cx="156.8" cy="188.3" r="1.8"/><circle cx="395.4" cy="259.2" r="1.8"/><circle cx="222.6" cy="156.8" r="1.8"/><circle cx="278" cy="364.7" r="1.8"/><circle cx="456.8" cy="236.4" r="1.8"/><circle cx="247" cy="177.6" r="1.8"/><circle cx="123.2" cy="162" r="1.8"/><circle cx="204.8" cy="430.3" r="1.8"/><circle cx="467.6" cy="230.8" r="1.8"/><circle cx="139.4" cy="393.2" r="1.8"/><circle cx="225.1" cy="86.1" r="1.8"/><circle cx="473.3" cy="236.6" r="1.8"/><circle cx="235.8" cy="309.8" r="1.8"/><circle cx="232.3" cy="208.3" r="1.8"/><circle cx="406.8" cy="186.5" r="1.8"/><circle cx="368.4" cy="323.5" r="1.8"/><circle cx="365.9" cy="317.2" r="1.8"/><circle cx="187.1" cy="124.1" r="1.8"/><circle cx="158.7" cy="305.4" r="1.8"/><circle cx="319.1" cy="181.3" r="1.8"/><circle cx="351.9" cy="312.9" r="1.8"/><circle cx="288.7" cy="87.5" r="1.8"/><circle cx="149" cy="176.3" r="1.8"/><circle cx="244.7" cy="200.7" r="1.8"/><circle cx="451.6" cy="144.5" r="1.8"/><circle cx="325" cy="207.3" r="1.8"/><circle cx="429.9" cy="156.5" r="1.8"/><circle cx="413.8" cy="255.2" r="1.8"/><circle cx="227.7" cy="137.1" r="1.8"/><circle cx="342.7" cy="395.6" r="1.8"/><circle cx="444.8" cy="287.7" r="1.8"/><circle cx="231" cy="405.8" r="1.8"/><circle cx="98.2" cy="152.2" r="1.8"/><circle cx="402.8" cy="237" r="1.8"/><circle cx="266.1" cy="129.9" r="1.8"/><circle cx="91.8" cy="203.4" r="1.8"/><circle cx="252.3" cy="268.7" r="1.8"/><circle cx="185" cy="359.9" r="1.8"/><circle cx="128.5" cy="270" r="1.8"/><circle cx="281" cy="204.8" r="1.8"/><circle cx="453.8" cy="128.5" r="1.8"/><circle cx="461.5" cy="198.2" r="1.8"/><circle cx="206.7" cy="319" r="1.8"/><circle cx="313.8" cy="163.5" r="1.8"/><circle cx="222.6" cy="83.8" r="1.8"/><circle cx="357.6" cy="280" r="1.8"/><circle cx="203" cy="184.4" r="1.8"/><circle cx="446.2" cy="189.2" r="1.8"/><circle cx="245.2" cy="479.7" r="1.8"/><circle cx="218.6" cy="219" r="1.8"/><circle cx="125.1" cy="341.4" r="1.8"/><circle cx="361.5" cy="239.8" r="1.8"/><circle cx="239.8" cy="139.4" r="1.8"/><circle cx="420.3" cy="244.9" r="1.8"/><circle cx="440" cy="206.2" r="1.8"/><circle cx="369.7" cy="347.6" r="1.8"/><circle cx="282.6" cy="252" r="1.8"/><circle cx="141.8" cy="111.3" r="1.8"/><circle cx="352.3" cy="356.1" r="1.8"/><circle cx="170.6" cy="332.9" r="1.8"/><circle cx="113" cy="318.1" r="1.8"/><circle cx="129.7" cy="269.5" r="1.8"/><circle cx="196.6" cy="288.8" r="1.8"/><circle cx="112" cy="257.2" r="1.8"/><circle cx="338.8" cy="93.3" r="1.8"/><circle cx="194.1" cy="349" r="1.8"/><circle cx="305.7" cy="319.9" r="1.8"/><circle cx="415.6" cy="298.6" r="1.8"/><circle cx="153.4" cy="238" r="1.8"/><circle cx="439.2" cy="296.3" r="1.8"/><circle cx="403" cy="201.1" r="1.8"/><circle cx="435.4" cy="336.8" r="1.8"/><circle cx="99.1" cy="317.6" r="1.8"/><circle cx="174.8" cy="427.5" r="1.8"/><circle cx="132.3" cy="419.1" r="1.8"/><circle cx="467.4" cy="236.8" r="1.8"/><circle cx="439.2" cy="353.6" r="1.8"/><circle cx="299.4" cy="435.3" r="1.8"/><circle cx="207.2" cy="61.1" r="1.8"/><circle cx="82.9" cy="323.4" r="1.8"/><circle cx="186.5" cy="161" r="1.8"/><circle cx="255.9" cy="404" r="1.8"/><circle cx="430" cy="374.1" r="1.8"/><circle cx="483.8" cy="289.5" r="1.8"/><circle cx="336.8" cy="435.1" r="1.8"/><circle cx="116.4" cy="358.7" r="1.8"/><circle cx="267.1" cy="399.5" r="1.8"/><circle cx="263.3" cy="122.5" r="1.8"/><circle cx="399.1" cy="420.7" r="1.8"/><circle cx="165.5" cy="356.7" r="1.8"/><circle cx="235.2" cy="135.3" r="1.8"/><circle cx="222.1" cy="269.6" r="1.8"/><circle cx="403.2" cy="380.2" r="1.8"/><circle cx="460.7" cy="197.8" r="1.8"/><circle cx="147.6" cy="193.3" r="1.8"/><circle cx="393.1" cy="339.3" r="1.8"/><circle cx="239.8" cy="276.6" r="1.8"/><circle cx="270.8" cy="268.2" r="1.8"/><circle cx="418.9" cy="123" r="1.8"/><circle cx="388.6" cy="196" r="1.8"/><circle cx="178.7" cy="328.7" r="1.8"/><circle cx="275.7" cy="207.1" r="1.8"/><circle cx="321" cy="132.3" r="1.8"/><circle cx="424.4" cy="149.3" r="1.8"/><circle cx="439.4" cy="289.5" r="1.8"/><circle cx="331.7" cy="324.2" r="1.8"/><circle cx="186.3" cy="435.5" r="1.8"/><circle cx="418.6" cy="348.7" r="1.8"/><circle cx="432.1" cy="235.2" r="1.8"/><circle cx="242.6" cy="269.5" r="1.8"/><circle cx="119.1" cy="134" r="1.8"/><circle cx="456.3" cy="212.4" r="1.8"/><circle cx="320.4" cy="119.3" r="1.8"/><circle cx="272.3" cy="282.7" r="1.8"/><circle cx="255.6" cy="266.7" r="1.8"/><circle cx="316.9" cy="282.8" r="1.8"/><circle cx="151.3" cy="397.1" r="1.8"/><circle cx="193" cy="371.7" r="1.8"/><circle cx="156.3" cy="299.2" r="1.8"/><circle cx="353.7" cy="204.7" r="1.8"/><circle cx="274.6" cy="60.7" r="1.8"/><circle cx="351.4" cy="354.9" r="1.8"/><circle cx="121.1" cy="288.8" r="1.8"/><circle cx="393.5" cy="77.5" r="1.8"/><circle cx="89.6" cy="260" r="1.8"/><circle cx="166.7" cy="171.1" r="1.8"/><circle cx="265.9" cy="204.6" r="1.8"/><circle cx="419.6" cy="369.7" r="1.8"/><circle cx="99.8" cy="357.7" r="1.8"/><circle cx="404.8" cy="223.5" r="1.8"/><circle cx="486.6" cy="214.5" r="1.8"/><circle cx="494.5" cy="270.7" r="1.8"/><circle cx="256.1" cy="235.4" r="1.8"/><circle cx="410.2" cy="420.5" r="1.8"/><circle cx="272.7" cy="113.7" r="1.8"/><circle cx="240" cy="448.9" r="1.8"/><circle cx="240.6" cy="340.6" r="1.8"/><circle cx="312.1" cy="246.8" r="1.8"/><circle cx="319.2" cy="145.2" r="1.8"/><circle cx="311" cy="436.4" r="1.8"/><circle cx="86.5" cy="203.4" r="1.8"/><circle cx="346.1" cy="426.2" r="1.8"/><circle cx="269.9" cy="91.6" r="1.8"/><circle cx="190.1" cy="365" r="1.8"/><circle cx="391.3" cy="126.2" r="1.8"/><circle cx="351" cy="338.7" r="1.8"/><circle cx="256.6" cy="182.7" r="1.8"/><circle cx="329.7" cy="188.3" r="1.8"/><circle cx="109.2" cy="345.1" r="1.8"/><circle cx="183.9" cy="401.6" r="1.8"/><circle cx="192.7" cy="286.5" r="1.8"/><circle cx="389.3" cy="203.3" r="1.8"/><circle cx="133.5" cy="215.6" r="1.8"/><circle cx="284.6" cy="225" r="1.8"/><circle cx="106.5" cy="275.7" r="1.8"/><circle cx="229.1" cy="234.6" r="1.8"/><circle cx="200.2" cy="333.7" r="1.8"/><circle cx="440.3" cy="214.8" r="1.8"/><circle cx="404" cy="161" r="1.8"/><circle cx="260" cy="440.8" r="1.8"/><circle cx="144.4" cy="237" r="1.8"/><circle cx="407.5" cy="159.8" r="1.8"/><circle cx="120.7" cy="274" r="1.8"/><circle cx="248.9" cy="471.1" r="1.8"/><circle cx="312.6" cy="225.6" r="1.8"/><circle cx="479.3" cy="172.3" r="1.8"/><circle cx="324.5" cy="363.9" r="1.8"/><circle cx="100.3" cy="171.7" r="1.8"/><circle cx="225.5" cy="89.5" r="1.8"/><circle cx="120" cy="134.6" r="1.8"/><circle cx="140.4" cy="273.3" r="1.8"/><circle cx="244.9" cy="148.4" r="1.8"/><circle cx="162.3" cy="424.6" r="1.8"/><circle cx="240.9" cy="310.9" r="1.8"/><circle cx="325.2" cy="368.9" r="1.8"/><circle cx="179.6" cy="263.5" r="1.8"/><circle cx="136.7" cy="235.4" r="1.8"/><circle cx="181.4" cy="305.3" r="1.8"/><circle cx="189.6" cy="159.2" r="1.8"/><circle cx="351" cy="70.2" r="1.8"/><circle cx="425.6" cy="263" r="1.8"/><circle cx="288.1" cy="266.8" r="1.8"/><circle cx="387.2" cy="205.7" r="1.8"/><circle cx="242.8" cy="449.5" r="1.8"/><circle cx="431.7" cy="317.6" r="1.8"/><circle cx="353.4" cy="410.6" r="1.8"/><circle cx="311.3" cy="67.4" r="1.8"/><circle cx="170.8" cy="319.6" r="1.8"/><circle cx="140.2" cy="247.4" r="1.8"/><circle cx="384.4" cy="75.1" r="1.8"/><circle cx="359.5" cy="79.1" r="1.8"/><circle cx="272.6" cy="335.2" r="1.8"/><circle cx="232.8" cy="229.7" r="1.8"/><circle cx="225.1" cy="357.2" r="1.8"/><circle cx="397" cy="335.6" r="1.8"/><circle cx="238.1" cy="297.7" r="1.8"/><circle cx="291.2" cy="118.3" r="1.8"/><circle cx="267.8" cy="424.4" r="1.8"/><circle cx="162.1" cy="379.1" r="1.8"/><circle cx="174.8" cy="400.1" r="1.8"/><circle cx="272.4" cy="176.9" r="1.8"/><circle cx="222.2" cy="405.5" r="1.8"/><circle cx="363.6" cy="110" r="1.8"/><circle cx="122.2" cy="297" r="1.8"/><circle cx="148.6" cy="188.2" r="1.8"/><circle cx="386" cy="135.1" r="1.8"/><circle cx="447.5" cy="184.7" r="1.8"/><circle cx="448" cy="172.2" r="1.8"/><circle cx="174.7" cy="215.6" r="1.8"/><circle cx="453.9" cy="206.3" r="1.8"/><circle cx="156.4" cy="148.9" r="1.8"/><circle cx="382.6" cy="303.5" r="1.8"/><circle cx="285.9" cy="145.7" r="1.8"/><circle cx="383.2" cy="410.5" r="1.8"/><circle cx="375.9" cy="288.4" r="1.8"/><circle cx="302.7" cy="154.9" r="1.8"/><circle cx="236.6" cy="119.9" r="1.8"/><circle cx="381.9" cy="299.4" r="1.8"/><circle cx="415.2" cy="325.3" r="1.8"/><circle cx="330.6" cy="463.3" r="1.8"/><circle cx="430.9" cy="296.4" r="1.8"/><circle cx="202.3" cy="466.1" r="1.8"/><circle cx="223.4" cy="78" r="1.8"/><circle cx="205.6" cy="362" r="1.8"/><circle cx="486.7" cy="333.5" r="1.8"/><circle cx="414.6" cy="239.4" r="1.8"/><circle cx="266" cy="387" r="1.8"/><circle cx="198.3" cy="81.6" r="1.8"/><circle cx="340.2" cy="410.2" r="1.8"/><circle cx="165.7" cy="351.3" r="1.8"/><circle cx="112.8" cy="261.7" r="1.8"/><circle cx="421.8" cy="326.9" r="1.8"/><circle cx="275" cy="223.7" r="1.8"/><circle cx="497.5" cy="224.4" r="1.8"/><circle cx="448.4" cy="396.5" r="1.8"/><circle cx="324.6" cy="141.8" r="1.8"/><circle cx="192.3" cy="261" r="1.8"/><circle cx="234.7" cy="333.4" r="1.8"/><circle cx="286.5" cy="181.8" r="1.8"/><circle cx="144.2" cy="187.8" r="1.8"/><circle cx="75.1" cy="228.8" r="1.8"/><circle cx="442.2" cy="357.9" r="1.8"/><circle cx="324.4" cy="302.8" r="1.8"/><circle cx="172" cy="321.7" r="1.8"/><circle cx="79.8" cy="284.9" r="1.8"/><circle cx="225.5" cy="261.2" r="1.8"/><circle cx="239.1" cy="78" r="1.8"/><circle cx="392.8" cy="406.2" r="1.8"/><circle cx="330.1" cy="84.4" r="1.8"/><circle cx="330.6" cy="439.4" r="1.8"/><circle cx="361.6" cy="160" r="1.8"/><circle cx="320.2" cy="208.1" r="1.8"/><circle cx="188.1" cy="387.8" r="1.8"/><circle cx="338.8" cy="186" r="1.8"/><circle cx="304.2" cy="466.3" r="1.8"/><circle cx="315.4" cy="459.4" r="1.8"/><circle cx="308.6" cy="371.6" r="1.8"/><circle cx="273.7" cy="328.1" r="1.8"/><circle cx="299.7" cy="361.3" r="1.8"/><circle cx="199.6" cy="441.9" r="1.8"/><circle cx="425.2" cy="141.9" r="1.8"/><circle cx="228.2" cy="136.4" r="1.8"/><circle cx="380.2" cy="278.5" r="1.8"/><circle cx="333.6" cy="183" r="1.8"/><circle cx="324.8" cy="478.6" r="1.8"/><circle cx="165.2" cy="272.5" r="1.8"/><circle cx="230.3" cy="192.7" r="1.8"/><circle cx="426.6" cy="112.2" r="1.8"/><circle cx="311.5" cy="393.8" r="1.8"/><circle cx="176.2" cy="261.7" r="1.8"/><circle cx="444.2" cy="216.7" r="1.8"/><circle cx="306.5" cy="466.2" r="1.8"/><circle cx="191.7" cy="359.4" r="1.8"/><circle cx="321.8" cy="87.2" r="1.8"/><circle cx="425.7" cy="268.4" r="1.8"/><circle cx="434.8" cy="131.9" r="1.8"/><circle cx="412.4" cy="327.9" r="1.8"/><circle cx="203.1" cy="421.9" r="1.8"/><circle cx="481.9" cy="177.4" r="1.8"/><circle cx="370.2" cy="351.7" r="1.8"/><circle cx="448" cy="296.4" r="1.8"/><circle cx="178.5" cy="148.3" r="1.8"/><circle cx="304.1" cy="93.6" r="1.8"/><circle cx="162.9" cy="357.7" r="1.8"/><circle cx="365.4" cy="87.3" r="1.8"/><circle cx="414.9" cy="390.2" r="1.8"/><circle cx="193" cy="76.1" r="1.8"/><circle cx="181.5" cy="392.7" r="1.8"/><circle cx="268.4" cy="413.2" r="1.8"/><circle cx="213" cy="443.5" r="1.8"/><circle cx="362.9" cy="69.2" r="1.8"/><circle cx="165" cy="341.9" r="1.8"/><circle cx="459.6" cy="222.3" r="1.8"/><circle cx="209.1" cy="143.8" r="1.8"/><circle cx="419.7" cy="365.7" r="1.8"/><circle cx="417.7" cy="279.9" r="1.8"/><circle cx="377.7" cy="89.8" r="1.8"/><circle cx="230" cy="167.7" r="1.8"/><circle cx="181.6" cy="377.4" r="1.8"/><circle cx="149.7" cy="182.9" r="1.8"/><circle cx="181.7" cy="436.1" r="1.8"/><circle cx="349.1" cy="255.9" r="1.8"/><circle cx="227.5" cy="463.2" r="1.8"/><circle cx="490.5" cy="241.3" r="1.8"/><circle cx="315.4" cy="435.4" r="1.8"/><circle cx="169.5" cy="151.6" r="1.8"/><circle cx="97.5" cy="265.9" r="1.8"/><circle cx="410.2" cy="103.6" r="1.8"/><circle cx="275.2" cy="209.7" r="1.8"/><circle cx="225.8" cy="88.1" r="1.8"/><circle cx="348.2" cy="378" r="1.8"/><circle cx="482.9" cy="340.2" r="1.8"/><circle cx="193.6" cy="272" r="1.8"/><circle cx="184.3" cy="239.6" r="1.8"/><circle cx="269" cy="458.7" r="1.8"/><circle cx="273.7" cy="483.3" r="1.8"/><circle cx="349.9" cy="440.1" r="1.8"/><circle cx="434.2" cy="205.9" r="1.8"/><circle cx="438.5" cy="130.4" r="1.8"/><circle cx="402.7" cy="250.2" r="1.8"/><circle cx="242.2" cy="122.4" r="1.8"/><circle cx="425" cy="373.5" r="1.8"/><circle cx="153" cy="206.4" r="1.8"/><circle cx="243.9" cy="301" r="1.8"/><circle cx="346.6" cy="201.8" r="1.8"/><circle cx="292.9" cy="304.1" r="1.8"/><circle cx="243.4" cy="195" r="1.8"/><circle cx="245.5" cy="110.7" r="1.8"/><circle cx="490.4" cy="307.8" r="1.8"/><circle cx="304.1" cy="230.1" r="1.8"/><circle cx="166.5" cy="178.2" r="1.8"/><circle cx="281" cy="239.8" r="1.8"/><circle cx="123.8" cy="192.5" r="1.8"/><circle cx="160.1" cy="396.7" r="1.8"/><circle cx="256.6" cy="282.6" r="1.8"/><circle cx="299.5" cy="50" r="1.8"/><circle cx="80.1" cy="343.7" r="1.8"/><circle cx="372.9" cy="208.8" r="1.8"/><circle cx="309.1" cy="337.5" r="1.8"/><circle cx="395.3" cy="324" r="1.8"/><circle cx="180.2" cy="239.5" r="1.8"/><circle cx="158.5" cy="117.4" r="1.8"/><circle cx="134.3" cy="413.4" r="1.8"/><circle cx="262.1" cy="366.3" r="1.8"/><circle cx="212.4" cy="409.2" r="1.8"/><circle cx="329" cy="337.4" r="1.8"/><circle cx="233.6" cy="294" r="1.8"/><circle cx="364.9" cy="280.3" r="1.8"/><circle cx="349.2" cy="77.1" r="1.8"/><circle cx="206.2" cy="138.4" r="1.8"/><circle cx="258" cy="438.2" r="1.8"/><circle cx="416.8" cy="367.8" r="1.8"/><circle cx="190.7" cy="139.2" r="1.8"/><circle cx="380" cy="170.4" r="1.8"/><circle cx="388.9" cy="194.5" r="1.8"/><circle cx="406.5" cy="299.3" r="1.8"/><circle cx="231.5" cy="391.8" r="1.8"/><circle cx="197.1" cy="127.9" r="1.8"/><circle cx="417.5" cy="288.7" r="1.8"/><circle cx="404.2" cy="260" r="1.8"/><circle cx="151.5" cy="251.8" r="1.8"/><circle cx="361.8" cy="389.2" r="1.8"/><circle cx="348.1" cy="238.3" r="1.8"/><circle cx="393.4" cy="344.4" r="1.8"/><circle cx="145.8" cy="281.5" r="1.8"/><circle cx="330" cy="372.5" r="1.8"/><circle cx="141.9" cy="176" r="1.8"/><circle cx="210.2" cy="75.1" r="1.8"/><circle cx="212.8" cy="372.9" r="1.8"/><circle cx="320.5" cy="111.3" r="1.8"/><circle cx="392.9" cy="84.9" r="1.8"/><circle cx="402.1" cy="99.4" r="1.8"/><circle cx="291" cy="156.9" r="1.8"/><circle cx="182.2" cy="382.5" r="1.8"/><circle cx="375.9" cy="293.7" r="1.8"/><circle cx="204.2" cy="180.9" r="1.8"/></g>
<g fill="#c43042" stroke="#4a000c" stroke-width="0.7"><circle cx="142.3" cy="232.2" r="1.9"/><circle cx="441.8" cy="175.2" r="1.9"/><circle cx="177" cy="129.7" r="1.9"/><circle cx="103.8" cy="202.6" r="1.9"/><circle cx="166.5" cy="301.8" r="1.9"/><circle cx="258.7" cy="173.4" r="1.9"/><circle cx="296.2" cy="393.8" r="1.9"/><circle cx="389.3" cy="191.5" r="1.9"/><circle cx="313" cy="253.5" r="1.9"/><circle cx="203.9" cy="93" r="1.9"/><circle cx="465.2" cy="315.9" r="1.9"/><circle cx="378.3" cy="142" r="1.9"/><circle cx="300.7" cy="422.1" r="1.9"/><circle cx="213.8" cy="264.2" r="1.9"/><circle cx="361.7" cy="120.4" r="1.9"/><circle cx="343.4" cy="229.9" r="1.9"/><circle cx="177.8" cy="85.3" r="1.9"/><circle cx="119" cy="278.3" r="1.9"/><circle cx="131" cy="403.5" r="1.9"/><circle cx="94.3" cy="322.8" r="1.9"/><circle cx="151.2" cy="389.5" r="1.9"/><circle cx="270" cy="468.1" r="1.9"/><circle cx="207.8" cy="217.1" r="1.9"/><circle cx="143.1" cy="286.5" r="1.9"/><circle cx="447.9" cy="393.9" r="1.9"/><circle cx="401.2" cy="312.4" r="1.9"/><circle cx="388.9" cy="179.2" r="1.9"/><circle cx="370.8" cy="223" r="1.9"/><circle cx="487.7" cy="210.7" r="1.9"/><circle cx="426.5" cy="251.6" r="1.9"/><circle cx="430.8" cy="171.5" r="1.9"/><circle cx="305.2" cy="41.9" r="1.9"/><circle cx="279" cy="67.2" r="1.9"/><circle cx="452.8" cy="348.3" r="1.9"/><circle cx="87.8" cy="360.9" r="1.9"/><circle cx="390.9" cy="314.8" r="1.9"/><circle cx="255.1" cy="309.7" r="1.9"/><circle cx="431.9" cy="159.3" r="1.9"/><circle cx="396.7" cy="128.7" r="1.9"/><circle cx="361.5" cy="304" r="1.9"/><circle cx="110.7" cy="224.3" r="1.9"/><circle cx="246" cy="56.8" r="1.9"/><circle cx="375.8" cy="261.7" r="1.9"/><circle cx="279.9" cy="98.2" r="1.9"/><circle cx="289.8" cy="407" r="1.9"/><circle cx="246.4" cy="155.1" r="1.9"/><circle cx="161.4" cy="246.1" r="1.9"/><circle cx="353.3" cy="297.8" r="1.9"/><circle cx="467.3" cy="270.4" r="1.9"/><circle cx="203.4" cy="177.2" r="1.9"/><circle cx="107.3" cy="226.5" r="1.9"/><circle cx="276.6" cy="443" r="1.9"/><circle cx="376.8" cy="373" r="1.9"/><circle cx="405.5" cy="171.8" r="1.9"/><circle cx="391.7" cy="126.8" r="1.9"/><circle cx="309.8" cy="309.8" r="1.9"/><circle cx="413.5" cy="108.8" r="1.9"/><circle cx="210.7" cy="417.4" r="1.9"/><circle cx="99.1" cy="370.1" r="1.9"/><circle cx="399.4" cy="334.6" r="1.9"/><circle cx="415.4" cy="272.5" r="1.9"/><circle cx="313.3" cy="462.9" r="1.9"/><circle cx="353.7" cy="338.3" r="1.9"/><circle cx="325.7" cy="262.1" r="1.9"/><circle cx="404.7" cy="299.1" r="1.9"/><circle cx="109.6" cy="230.2" r="1.9"/><circle cx="247" cy="233.2" r="1.9"/><circle cx="312.7" cy="200" r="1.9"/><circle cx="232.8" cy="230.6" r="1.9"/><circle cx="388.1" cy="215.8" r="1.9"/><circle cx="260" cy="308.2" r="1.9"/><circle cx="221.5" cy="142.4" r="1.9"/><circle cx="267.7" cy="182.2" r="1.9"/><circle cx="442.1" cy="143.3" r="1.9"/><circle cx="168.8" cy="358.1" r="1.9"/><circle cx="423.5" cy="250.7" r="1.9"/><circle cx="231.1" cy="139.8" r="1.9"/><circle cx="424.2" cy="435.9" r="1.9"/><circle cx="385.1" cy="245.8" r="1.9"/><circle cx="429.2" cy="342.9" r="1.9"/><circle cx="271.5" cy="449" r="1.9"/><circle cx="487.3" cy="319.8" r="1.9"/><circle cx="95.9" cy="306.6" r="1.9"/><circle cx="246.8" cy="147.3" r="1.9"/><circle cx="106.2" cy="137.6" r="1.9"/><circle cx="210" cy="299.3" r="1.9"/><circle cx="201.6" cy="236.6" r="1.9"/><circle cx="431.3" cy="115.4" r="1.9"/><circle cx="387.5" cy="185.4" r="1.9"/><circle cx="202.9" cy="314.8" r="1.9"/><circle cx="101.1" cy="222.9" r="1.9"/><circle cx="341.9" cy="329.9" r="1.9"/><circle cx="107.4" cy="293.4" r="1.9"/><circle cx="129.4" cy="173.9" r="1.9"/><circle cx="339.6" cy="453.3" r="1.9"/><circle cx="291.2" cy="149.7" r="1.9"/><circle cx="324.4" cy="159.6" r="1.9"/><circle cx="416.7" cy="103.3" r="1.9"/><circle cx="172.1" cy="236.2" r="1.9"/><circle cx="149.4" cy="186.2" r="1.9"/><circle cx="234.7" cy="387" r="1.9"/><circle cx="238.8" cy="253.3" r="1.9"/><circle cx="235.3" cy="393.9" r="1.9"/><circle cx="473.5" cy="230" r="1.9"/><circle cx="508.6" cy="276.9" r="1.9"/><circle cx="369.5" cy="209.2" r="1.9"/><circle cx="176.6" cy="93.5" r="1.9"/><circle cx="465.1" cy="199" r="1.9"/><circle cx="377.4" cy="246.5" r="1.9"/><circle cx="296.5" cy="127.2" r="1.9"/><circle cx="132.2" cy="188" r="1.9"/><circle cx="369.3" cy="285.4" r="1.9"/><circle cx="252.6" cy="62.4" r="1.9"/><circle cx="171.1" cy="129.5" r="1.9"/><circle cx="435.7" cy="288.5" r="1.9"/><circle cx="202.6" cy="146.8" r="1.9"/><circle cx="185.9" cy="161.7" r="1.9"/><circle cx="211.8" cy="401.6" r="1.9"/><circle cx="419.6" cy="358.1" r="1.9"/><circle cx="464.9" cy="337.3" r="1.9"/></g>
<g fill="#921828" stroke="#2a0005" stroke-width="0.8"><circle cx="398.7" cy="457.1" r="1.7"/><circle cx="272.6" cy="489.8" r="1.7"/><circle cx="153.8" cy="187.2" r="1.7"/><circle cx="85.8" cy="358.7" r="1.7"/><circle cx="288.8" cy="37.3" r="1.7"/><circle cx="226" cy="354.8" r="1.7"/><circle cx="279.7" cy="376.7" r="1.7"/><circle cx="397.8" cy="103.4" r="1.7"/><circle cx="169" cy="410.6" r="1.7"/><circle cx="429.6" cy="142.9" r="1.7"/><circle cx="356" cy="481.3" r="1.7"/><circle cx="357.4" cy="63.8" r="1.7"/><circle cx="213.4" cy="110.4" r="1.7"/><circle cx="238.9" cy="485.8" r="1.7"/><circle cx="514.2" cy="242.9" r="1.7"/><circle cx="491.1" cy="322.9" r="1.7"/><circle cx="362.3" cy="451.4" r="1.7"/><circle cx="93.6" cy="346" r="1.7"/><circle cx="387.9" cy="439.7" r="1.7"/><circle cx="133.1" cy="105.4" r="1.7"/><circle cx="371.4" cy="449.7" r="1.7"/><circle cx="417" cy="130.6" r="1.7"/><circle cx="295" cy="477.4" r="1.7"/><circle cx="68.7" cy="246.3" r="1.7"/><circle cx="258.4" cy="89.4" r="1.7"/><circle cx="461.4" cy="125.7" r="1.7"/><circle cx="391.6" cy="71.8" r="1.7"/><circle cx="513.8" cy="291.8" r="1.7"/><circle cx="104.9" cy="131" r="1.7"/><circle cx="326.1" cy="58" r="1.7"/><circle cx="407.4" cy="97.5" r="1.7"/><circle cx="206.8" cy="73.2" r="1.7"/><circle cx="333.4" cy="91.1" r="1.7"/><circle cx="123.8" cy="368.7" r="1.7"/><circle cx="201" cy="443.7" r="1.7"/><circle cx="403.6" cy="398.6" r="1.7"/><circle cx="431.2" cy="415.7" r="1.7"/><circle cx="137.8" cy="393.7" r="1.7"/><circle cx="136" cy="367.3" r="1.7"/><circle cx="350.9" cy="59.7" r="1.7"/><circle cx="466.5" cy="183.8" r="1.7"/><circle cx="424.1" cy="104.7" r="1.7"/><circle cx="121.5" cy="227.9" r="1.7"/><circle cx="330.2" cy="73" r="1.7"/><circle cx="276.8" cy="478.7" r="1.7"/><circle cx="467.4" cy="393.8" r="1.7"/><circle cx="111.9" cy="378.1" r="1.7"/><circle cx="83.9" cy="216" r="1.7"/><circle cx="334.1" cy="94.9" r="1.7"/><circle cx="338.9" cy="80.7" r="1.7"/><circle cx="409.3" cy="427.5" r="1.7"/><circle cx="299.1" cy="58.3" r="1.7"/><circle cx="162.9" cy="447.3" r="1.7"/><circle cx="394" cy="424" r="1.7"/><circle cx="363.6" cy="71.3" r="1.7"/><circle cx="182.2" cy="426" r="1.7"/><circle cx="278.2" cy="54.4" r="1.7"/><circle cx="421.2" cy="140.5" r="1.7"/><circle cx="125.9" cy="374.3" r="1.7"/><circle cx="399.3" cy="128.2" r="1.7"/><circle cx="134.4" cy="440.2" r="1.7"/><circle cx="257.7" cy="439.9" r="1.7"/><circle cx="225.1" cy="428.1" r="1.7"/><circle cx="439.5" cy="356.6" r="1.7"/><circle cx="472.8" cy="312.5" r="1.7"/><circle cx="329.9" cy="149" r="1.7"/><circle cx="111.7" cy="221.3" r="1.7"/><circle cx="95" cy="384.5" r="1.7"/><circle cx="472.9" cy="160.9" r="1.7"/><circle cx="465.3" cy="401.8" r="1.7"/><circle cx="163.2" cy="117.4" r="1.7"/><circle cx="347.7" cy="93.9" r="1.7"/><circle cx="471" cy="328" r="1.7"/><circle cx="420.4" cy="274.1" r="1.7"/><circle cx="414.7" cy="451.3" r="1.7"/><circle cx="130.9" cy="234.5" r="1.7"/><circle cx="56.8" cy="225.4" r="1.7"/><circle cx="452.8" cy="143.5" r="1.7"/><circle cx="52.8" cy="295.8" r="1.7"/><circle cx="251.1" cy="450.8" r="1.7"/><circle cx="217.2" cy="122.1" r="1.7"/><circle cx="212.3" cy="467.4" r="1.7"/><circle cx="352.1" cy="47.3" r="1.7"/><circle cx="164.4" cy="402.7" r="1.7"/><circle cx="109.1" cy="321.1" r="1.7"/><circle cx="110.7" cy="192.9" r="1.7"/><circle cx="492.6" cy="211.8" r="1.7"/><circle cx="465.8" cy="273.2" r="1.7"/><circle cx="107.3" cy="276.8" r="1.7"/><circle cx="396.2" cy="110.3" r="1.7"/><circle cx="236.8" cy="60.6" r="1.7"/><circle cx="373.5" cy="84.9" r="1.7"/><circle cx="204.7" cy="157.8" r="1.7"/><circle cx="409.4" cy="301.7" r="1.7"/><circle cx="83.9" cy="170.9" r="1.7"/><circle cx="187.3" cy="464.3" r="1.7"/><circle cx="487.3" cy="373.7" r="1.7"/><circle cx="439.6" cy="164.7" r="1.7"/><circle cx="92.6" cy="334.7" r="1.7"/><circle cx="217.6" cy="437.7" r="1.7"/><circle cx="482.5" cy="234.2" r="1.7"/><circle cx="485.1" cy="208.1" r="1.7"/><circle cx="481.4" cy="366" r="1.7"/><circle cx="391.5" cy="370.7" r="1.7"/><circle cx="88.9" cy="368.3" r="1.7"/><circle cx="497.9" cy="246.2" r="1.7"/><circle cx="315.3" cy="438.7" r="1.7"/><circle cx="307.9" cy="398.9" r="1.7"/><circle cx="470" cy="334" r="1.7"/><circle cx="58.8" cy="224.8" r="1.7"/><circle cx="86.5" cy="185.3" r="1.7"/><circle cx="144.8" cy="167.4" r="1.7"/><circle cx="205.2" cy="68.8" r="1.7"/><circle cx="247.4" cy="104.9" r="1.7"/><circle cx="242.7" cy="444.9" r="1.7"/><circle cx="501.8" cy="321.1" r="1.7"/><circle cx="351.6" cy="424.4" r="1.7"/><circle cx="424.8" cy="94.9" r="1.7"/><circle cx="352.6" cy="109.4" r="1.7"/><circle cx="111.2" cy="277.7" r="1.7"/><circle cx="267.1" cy="47.8" r="1.7"/><circle cx="485.1" cy="245.5" r="1.7"/><circle cx="144.9" cy="448.4" r="1.7"/><circle cx="149.2" cy="452.3" r="1.7"/><circle cx="404.1" cy="85.4" r="1.7"/><circle cx="167.7" cy="453.3" r="1.7"/><circle cx="215.8" cy="453.3" r="1.7"/><circle cx="379.3" cy="454.5" r="1.7"/><circle cx="364.2" cy="109.1" r="1.7"/><circle cx="488" cy="350.3" r="1.7"/><circle cx="446.7" cy="248.4" r="1.7"/><circle cx="481.7" cy="181.8" r="1.7"/><circle cx="483.4" cy="263.4" r="1.7"/><circle cx="81.4" cy="219.9" r="1.7"/><circle cx="482.3" cy="297.1" r="1.7"/><circle cx="496.1" cy="190.4" r="1.7"/><circle cx="137.4" cy="440.9" r="1.7"/><circle cx="128" cy="182.4" r="1.7"/><circle cx="380.1" cy="171.3" r="1.7"/><circle cx="276" cy="454.8" r="1.7"/><circle cx="84.8" cy="380.5" r="1.7"/><circle cx="496.4" cy="187.2" r="1.7"/><circle cx="81.3" cy="150.6" r="1.7"/><circle cx="300" cy="455.3" r="1.7"/><circle cx="463.5" cy="387.1" r="1.7"/><circle cx="433.7" cy="182.8" r="1.7"/><circle cx="184.7" cy="404.7" r="1.7"/><circle cx="410.4" cy="424.9" r="1.7"/><circle cx="313.3" cy="174.2" r="1.7"/><circle cx="129.3" cy="306" r="1.7"/><circle cx="464" cy="175.3" r="1.7"/><circle cx="166.9" cy="240.7" r="1.7"/><circle cx="508" cy="238.6" r="1.7"/><circle cx="261.7" cy="86.1" r="1.7"/><circle cx="122.4" cy="369.1" r="1.7"/><circle cx="136.5" cy="207.8" r="1.7"/><circle cx="420.9" cy="97.2" r="1.7"/><circle cx="491.1" cy="297.3" r="1.7"/><circle cx="391.2" cy="405.5" r="1.7"/><circle cx="478.5" cy="161.2" r="1.7"/><circle cx="107.9" cy="374.3" r="1.7"/><circle cx="96.5" cy="143.7" r="1.7"/><circle cx="477.1" cy="391.6" r="1.7"/><circle cx="230.7" cy="38.7" r="1.7"/><circle cx="358.5" cy="68" r="1.7"/><circle cx="418.5" cy="105.7" r="1.7"/><circle cx="497.4" cy="272" r="1.7"/><circle cx="289.7" cy="49.9" r="1.7"/><circle cx="481.8" cy="288.1" r="1.7"/><circle cx="94" cy="352.2" r="1.7"/><circle cx="511.5" cy="237.2" r="1.7"/><circle cx="328" cy="433.6" r="1.7"/><circle cx="418.3" cy="372.8" r="1.7"/><circle cx="318.2" cy="464.6" r="1.7"/><circle cx="233.6" cy="364.9" r="1.7"/><circle cx="209.6" cy="434.3" r="1.7"/><circle cx="114.4" cy="384.6" r="1.7"/><circle cx="213.4" cy="46.3" r="1.7"/><circle cx="363.4" cy="446.4" r="1.7"/><circle cx="414.3" cy="361.6" r="1.7"/><circle cx="457.7" cy="166.8" r="1.7"/><circle cx="440.8" cy="386.8" r="1.7"/><circle cx="124.5" cy="434.1" r="1.7"/><circle cx="399.6" cy="385.5" r="1.7"/><circle cx="110.5" cy="295.1" r="1.7"/><circle cx="101.8" cy="296.8" r="1.7"/><circle cx="98.1" cy="362.2" r="1.7"/><circle cx="353.3" cy="428.2" r="1.7"/><circle cx="426.2" cy="156.8" r="1.7"/><circle cx="505" cy="257.8" r="1.7"/><circle cx="317.5" cy="458.5" r="1.7"/><circle cx="133.9" cy="104.2" r="1.7"/><circle cx="199.2" cy="49.5" r="1.7"/><circle cx="484.1" cy="264" r="1.7"/><circle cx="144.5" cy="323.7" r="1.7"/><circle cx="187.7" cy="128.6" r="1.7"/><circle cx="163.3" cy="441.4" r="1.7"/><circle cx="494.4" cy="243.9" r="1.7"/><circle cx="87.5" cy="294.2" r="1.7"/><circle cx="276.9" cy="46.5" r="1.7"/><circle cx="205" cy="122.1" r="1.7"/><circle cx="442.1" cy="266.5" r="1.7"/><circle cx="81.3" cy="357.8" r="1.7"/><circle cx="509.4" cy="303.7" r="1.7"/><circle cx="334.6" cy="428.5" r="1.7"/><circle cx="422.3" cy="89.3" r="1.7"/><circle cx="198.6" cy="371.2" r="1.7"/><circle cx="156.4" cy="145.2" r="1.7"/><circle cx="321.3" cy="68.5" r="1.7"/><circle cx="508.8" cy="270.7" r="1.7"/><circle cx="456.6" cy="107.2" r="1.7"/><circle cx="89.6" cy="264.3" r="1.7"/><circle cx="131.8" cy="139.8" r="1.7"/><circle cx="365.4" cy="54.8" r="1.7"/><circle cx="150" cy="375.1" r="1.7"/><circle cx="101.6" cy="237.1" r="1.7"/><circle cx="475.1" cy="253.6" r="1.7"/><circle cx="468.3" cy="162.2" r="1.7"/><circle cx="231.6" cy="103.1" r="1.7"/><circle cx="408.6" cy="418.6" r="1.7"/><circle cx="213.7" cy="131.1" r="1.7"/><circle cx="137.2" cy="107.4" r="1.7"/><circle cx="477.7" cy="159.9" r="1.7"/><circle cx="86.8" cy="224.7" r="1.7"/><circle cx="171.5" cy="422.1" r="1.7"/><circle cx="492.6" cy="359.3" r="1.7"/><circle cx="338.5" cy="138.5" r="1.7"/><circle cx="504.6" cy="270.9" r="1.7"/><circle cx="251.4" cy="52.5" r="1.7"/><circle cx="365.4" cy="57.2" r="1.7"/><circle cx="439.6" cy="412.6" r="1.7"/><circle cx="440.2" cy="278.2" r="1.7"/><circle cx="361.2" cy="122.8" r="1.7"/><circle cx="98.6" cy="246.1" r="1.7"/><circle cx="448" cy="419.7" r="1.7"/><circle cx="217.9" cy="394.8" r="1.7"/><circle cx="193" cy="318.8" r="1.7"/><circle cx="314.8" cy="34.6" r="1.7"/><circle cx="498.4" cy="247.4" r="1.7"/><circle cx="311.3" cy="89.4" r="1.7"/><circle cx="397.3" cy="329.2" r="1.7"/><circle cx="284.7" cy="82.2" r="1.7"/><circle cx="159.9" cy="456.4" r="1.7"/><circle cx="478.1" cy="251" r="1.7"/><circle cx="415.3" cy="401.5" r="1.7"/><circle cx="500.2" cy="261.5" r="1.7"/><circle cx="121.3" cy="244.3" r="1.7"/><circle cx="309" cy="34.1" r="1.7"/><circle cx="276.6" cy="55.2" r="1.7"/><circle cx="227.1" cy="79.3" r="1.7"/><circle cx="402.4" cy="98.2" r="1.7"/><circle cx="267.2" cy="56.8" r="1.7"/><circle cx="108.1" cy="186.2" r="1.7"/><circle cx="473.1" cy="364.1" r="1.7"/><circle cx="428.4" cy="406.4" r="1.7"/><circle cx="485.9" cy="328.8" r="1.7"/><circle cx="120.5" cy="119.4" r="1.7"/><circle cx="328.5" cy="421.4" r="1.7"/><circle cx="123.4" cy="115.7" r="1.7"/><circle cx="305.4" cy="414.6" r="1.7"/><circle cx="261.1" cy="456.2" r="1.7"/><circle cx="412.6" cy="438.7" r="1.7"/><circle cx="459" cy="186.2" r="1.7"/><circle cx="371.6" cy="429.3" r="1.7"/><circle cx="497.6" cy="348.2" r="1.7"/><circle cx="225.8" cy="435.9" r="1.7"/><circle cx="439.1" cy="166" r="1.7"/><circle cx="88.5" cy="161.6" r="1.7"/><circle cx="327" cy="74.6" r="1.7"/><circle cx="158" cy="405.4" r="1.7"/><circle cx="312.4" cy="161.1" r="1.7"/><circle cx="447.4" cy="431.9" r="1.7"/><circle cx="169.5" cy="89.4" r="1.7"/><circle cx="429" cy="421.5" r="1.7"/><circle cx="465.7" cy="272" r="1.7"/><circle cx="271.3" cy="492.1" r="1.7"/><circle cx="495.5" cy="268.3" r="1.7"/><circle cx="270.6" cy="478" r="1.7"/><circle cx="84.3" cy="384" r="1.7"/><circle cx="160.3" cy="414.7" r="1.7"/><circle cx="403.9" cy="68.7" r="1.7"/><circle cx="267.3" cy="39.5" r="1.7"/><circle cx="308.2" cy="494.3" r="1.7"/><circle cx="473.7" cy="128.2" r="1.7"/><circle cx="371" cy="79.9" r="1.7"/><circle cx="459.4" cy="122.6" r="1.7"/><circle cx="102.5" cy="191.5" r="1.7"/><circle cx="430" cy="397.5" r="1.7"/><circle cx="188" cy="80.9" r="1.7"/><circle cx="161.3" cy="136.9" r="1.7"/><circle cx="467.5" cy="349.7" r="1.7"/><circle cx="486.9" cy="285.7" r="1.7"/><circle cx="438.7" cy="160" r="1.7"/><circle cx="423.7" cy="337.3" r="1.7"/><circle cx="152.9" cy="454.7" r="1.7"/><circle cx="347.5" cy="461.6" r="1.7"/><circle cx="373.8" cy="107.9" r="1.7"/><circle cx="159.1" cy="380.1" r="1.7"/><circle cx="103.7" cy="174.3" r="1.7"/><circle cx="181.9" cy="69.7" r="1.7"/><circle cx="469.5" cy="400.1" r="1.7"/><circle cx="338.9" cy="83" r="1.7"/><circle cx="244.8" cy="485.8" r="1.7"/><circle cx="149.3" cy="101.7" r="1.7"/><circle cx="404.1" cy="107.2" r="1.7"/><circle cx="286.9" cy="72.7" r="1.7"/><circle cx="390.8" cy="457.4" r="1.7"/><circle cx="293.3" cy="444.9" r="1.7"/><circle cx="152.6" cy="445.3" r="1.7"/><circle cx="450.1" cy="121.3" r="1.7"/><circle cx="327.2" cy="484.1" r="1.7"/><circle cx="101.1" cy="146.4" r="1.7"/><circle cx="469.9" cy="389.5" r="1.7"/><circle cx="71.6" cy="171.5" r="1.7"/><circle cx="315.3" cy="48.1" r="1.7"/><circle cx="297.5" cy="487.7" r="1.7"/><circle cx="183.6" cy="423" r="1.7"/><circle cx="477.1" cy="197.3" r="1.7"/><circle cx="93.7" cy="215.8" r="1.7"/><circle cx="393.6" cy="91.5" r="1.7"/><circle cx="131.5" cy="227.2" r="1.7"/><circle cx="236.9" cy="41.9" r="1.7"/><circle cx="441.7" cy="235.6" r="1.7"/><circle cx="293.2" cy="118.2" r="1.7"/><circle cx="78" cy="347.3" r="1.7"/><circle cx="304.8" cy="440.7" r="1.7"/><circle cx="227" cy="44.5" r="1.7"/><circle cx="81.7" cy="278.6" r="1.7"/><circle cx="257.1" cy="96.3" r="1.7"/><circle cx="486.3" cy="251.8" r="1.7"/><circle cx="270.7" cy="417.7" r="1.7"/><circle cx="170.5" cy="61" r="1.7"/><circle cx="163.8" cy="306.5" r="1.7"/><circle cx="139.6" cy="445.3" r="1.7"/><circle cx="103.9" cy="227.7" r="1.7"/><circle cx="203.2" cy="475.8" r="1.7"/><circle cx="458.5" cy="347.9" r="1.7"/><circle cx="379.5" cy="443.2" r="1.7"/><circle cx="89.1" cy="264.9" r="1.7"/><circle cx="68.3" cy="223.7" r="1.7"/><circle cx="498.1" cy="289.9" r="1.7"/><circle cx="80.6" cy="185.3" r="1.7"/><circle cx="165.8" cy="423.9" r="1.7"/><circle cx="188" cy="470.9" r="1.7"/><circle cx="349.9" cy="43.1" r="1.7"/><circle cx="465.5" cy="271" r="1.7"/><circle cx="139" cy="421.6" r="1.7"/><circle cx="113.4" cy="389.8" r="1.7"/><circle cx="148.4" cy="319.5" r="1.7"/><circle cx="144.4" cy="193.2" r="1.7"/><circle cx="142.2" cy="169.1" r="1.7"/><circle cx="387.5" cy="71.7" r="1.7"/><circle cx="503.8" cy="205.1" r="1.7"/><circle cx="65.7" cy="217.1" r="1.7"/><circle cx="277.1" cy="45.6" r="1.7"/><circle cx="125.6" cy="425.9" r="1.7"/><circle cx="467.8" cy="161.2" r="1.7"/><circle cx="144.6" cy="415.6" r="1.7"/><circle cx="321.4" cy="480.5" r="1.7"/><circle cx="265.7" cy="403.7" r="1.7"/><circle cx="364.7" cy="336.6" r="1.7"/><circle cx="339.1" cy="481.7" r="1.7"/><circle cx="87.4" cy="382.4" r="1.7"/><circle cx="328.7" cy="52.7" r="1.7"/><circle cx="443.6" cy="409.8" r="1.7"/><circle cx="404.3" cy="165.3" r="1.7"/><circle cx="104.3" cy="297.3" r="1.7"/><circle cx="415.4" cy="158.1" r="1.7"/><circle cx="400.6" cy="427" r="1.7"/><circle cx="54.9" cy="270.1" r="1.7"/><circle cx="431" cy="117.3" r="1.7"/><circle cx="82.1" cy="164" r="1.7"/><circle cx="68.5" cy="291.8" r="1.7"/><circle cx="73.7" cy="307.1" r="1.7"/><circle cx="466.2" cy="167.6" r="1.7"/><circle cx="249" cy="56" r="1.7"/><circle cx="394.6" cy="132.8" r="1.7"/><circle cx="504.9" cy="199" r="1.7"/><circle cx="437.8" cy="104.9" r="1.7"/><circle cx="399.4" cy="459.2" r="1.7"/><circle cx="52.2" cy="247.2" r="1.7"/><circle cx="102" cy="161.1" r="1.7"/><circle cx="401" cy="408.1" r="1.7"/><circle cx="239.9" cy="48" r="1.7"/><circle cx="382.5" cy="95.1" r="1.7"/><circle cx="492.7" cy="180.9" r="1.7"/><circle cx="391.9" cy="314.9" r="1.7"/><circle cx="151.7" cy="376.4" r="1.7"/><circle cx="276.2" cy="64.1" r="1.7"/><circle cx="468.7" cy="139.5" r="1.7"/><circle cx="479.4" cy="224.5" r="1.7"/><circle cx="431.8" cy="140.7" r="1.7"/><circle cx="78.2" cy="323" r="1.7"/><circle cx="57.8" cy="239.9" r="1.7"/><circle cx="242.1" cy="488.7" r="1.7"/><circle cx="488.9" cy="245.2" r="1.7"/><circle cx="426.5" cy="361.9" r="1.7"/><circle cx="284.8" cy="35.6" r="1.7"/><circle cx="307.8" cy="406.1" r="1.7"/><circle cx="418" cy="135.1" r="1.7"/><circle cx="482.8" cy="384.7" r="1.7"/><circle cx="479.4" cy="366.3" r="1.7"/><circle cx="197.1" cy="377.3" r="1.7"/><circle cx="251.5" cy="111.9" r="1.7"/><circle cx="108.5" cy="220.7" r="1.7"/><circle cx="465.6" cy="393.5" r="1.7"/><circle cx="194.6" cy="433.9" r="1.7"/><circle cx="385.9" cy="80.8" r="1.7"/><circle cx="461.4" cy="404.6" r="1.7"/><circle cx="485.3" cy="333.8" r="1.7"/><circle cx="508.1" cy="220" r="1.7"/><circle cx="450.9" cy="231.8" r="1.7"/><circle cx="340.9" cy="53.8" r="1.7"/><circle cx="300.5" cy="49.1" r="1.7"/><circle cx="212.8" cy="213.9" r="1.7"/><circle cx="437.6" cy="406.2" r="1.7"/><circle cx="108" cy="118.5" r="1.7"/><circle cx="134.1" cy="116.7" r="1.7"/><circle cx="513.5" cy="279.1" r="1.7"/><circle cx="509.6" cy="225.9" r="1.7"/><circle cx="438.8" cy="93.2" r="1.7"/><circle cx="436.1" cy="393.1" r="1.7"/><circle cx="91.3" cy="185.5" r="1.7"/><circle cx="174.1" cy="175.8" r="1.7"/><circle cx="153.7" cy="151.9" r="1.7"/><circle cx="314.5" cy="35.3" r="1.7"/><circle cx="320.3" cy="473.9" r="1.7"/><circle cx="151.5" cy="75" r="1.7"/><circle cx="282.8" cy="480.2" r="1.7"/><circle cx="348.3" cy="50.7" r="1.7"/><circle cx="472.5" cy="221.4" r="1.7"/><circle cx="90.3" cy="156.9" r="1.7"/><circle cx="425.4" cy="83.8" r="1.7"/><circle cx="164.7" cy="394.5" r="1.7"/><circle cx="463.3" cy="250.6" r="1.7"/><circle cx="148.4" cy="104.1" r="1.7"/><circle cx="193.4" cy="453.4" r="1.7"/><circle cx="106.5" cy="295" r="1.7"/><circle cx="52.4" cy="253.9" r="1.7"/><circle cx="195.7" cy="472.1" r="1.7"/><circle cx="121.3" cy="298.9" r="1.7"/><circle cx="156.9" cy="130.1" r="1.7"/><circle cx="58.8" cy="250.8" r="1.7"/><circle cx="87.8" cy="224.3" r="1.7"/><circle cx="62.8" cy="265.6" r="1.7"/><circle cx="186.4" cy="389.9" r="1.7"/><circle cx="473.5" cy="131" r="1.7"/><circle cx="421.3" cy="208.8" r="1.7"/><circle cx="125.7" cy="93" r="1.7"/><circle cx="498.1" cy="298.6" r="1.7"/><circle cx="166.1" cy="459.1" r="1.7"/><circle cx="74.2" cy="345.9" r="1.7"/><circle cx="129.7" cy="440" r="1.7"/><circle cx="336.9" cy="40.5" r="1.7"/><circle cx="467.7" cy="404.2" r="1.7"/><circle cx="330.1" cy="484.9" r="1.7"/><circle cx="133.9" cy="83.7" r="1.7"/><circle cx="74.7" cy="162" r="1.7"/><circle cx="480.3" cy="154.5" r="1.7"/><circle cx="58.1" cy="309.7" r="1.7"/><circle cx="61.5" cy="315.8" r="1.7"/><circle cx="500.4" cy="174.2" r="1.7"/><circle cx="141.6" cy="451.8" r="1.7"/><circle cx="359.9" cy="487.9" r="1.7"/><circle cx="58.8" cy="299.7" r="1.7"/><circle cx="488.5" cy="164.2" r="1.7"/><circle cx="514.9" cy="310" r="1.7"/><circle cx="213.4" cy="44.3" r="1.7"/><circle cx="59.2" cy="264.4" r="1.7"/><circle cx="506.3" cy="315.9" r="1.7"/><circle cx="108.2" cy="134.1" r="1.7"/><circle cx="505.6" cy="328.1" r="1.7"/><circle cx="71.1" cy="203.2" r="1.7"/><circle cx="397.5" cy="455.5" r="1.7"/><circle cx="436.2" cy="92.6" r="1.7"/><circle cx="152.1" cy="94.2" r="1.7"/><circle cx="56" cy="318.3" r="1.7"/><circle cx="369.8" cy="49.6" r="1.7"/><circle cx="438.7" cy="91" r="1.7"/><circle cx="218.9" cy="43.1" r="1.7"/><circle cx="66.6" cy="183.3" r="1.7"/><circle cx="509.6" cy="197.8" r="1.7"/><circle cx="459.2" cy="401.2" r="1.7"/><circle cx="85.8" cy="162.5" r="1.7"/><circle cx="421.3" cy="452.2" r="1.7"/><circle cx="61.7" cy="316.4" r="1.7"/><circle cx="148.9" cy="87.7" r="1.7"/><circle cx="475.5" cy="134.4" r="1.7"/><circle cx="443.7" cy="92.5" r="1.7"/><circle cx="60.4" cy="203.2" r="1.7"/><circle cx="481" cy="375.4" r="1.7"/><circle cx="218.2" cy="43.2" r="1.7"/><circle cx="67.3" cy="210.5" r="1.7"/><circle cx="457.7" cy="142.5" r="1.7"/><circle cx="164.8" cy="71.2" r="1.7"/><circle cx="225.2" cy="37.3" r="1.7"/><circle cx="83.5" cy="374.6" r="1.7"/><circle cx="232.6" cy="37" r="1.7"/><circle cx="50.4" cy="288.6" r="1.7"/><circle cx="158.2" cy="72.1" r="1.7"/><circle cx="509.3" cy="224.3" r="1.7"/><circle cx="259" cy="496.2" r="1.7"/><circle cx="485.2" cy="385.4" r="1.7"/><circle cx="57" cy="284.7" r="1.7"/><circle cx="498.7" cy="331.9" r="1.7"/><circle cx="219.3" cy="50.4" r="1.7"/><circle cx="167.6" cy="68.9" r="1.7"/><circle cx="57.8" cy="233.8" r="1.7"/><circle cx="442.5" cy="431.4" r="1.7"/><circle cx="202.1" cy="472.2" r="1.7"/><circle cx="56" cy="249" r="1.7"/><circle cx="227.7" cy="46" r="1.7"/><circle cx="69.4" cy="192" r="1.7"/><circle cx="516.8" cy="297.8" r="1.7"/><circle cx="517.9" cy="258.7" r="1.7"/><circle cx="479.4" cy="137.3" r="1.7"/><circle cx="426.7" cy="81.4" r="1.7"/><circle cx="236.4" cy="491.2" r="1.7"/><circle cx="101.4" cy="123.4" r="1.7"/><circle cx="272" cy="42.1" r="1.7"/><circle cx="58.7" cy="203.3" r="1.7"/><circle cx="293.7" cy="46.7" r="1.7"/><circle cx="87.7" cy="388.4" r="1.7"/><circle cx="135.8" cy="440.5" r="1.7"/><circle cx="197.7" cy="63.5" r="1.7"/><circle cx="57.5" cy="279.5" r="1.7"/><circle cx="481.1" cy="357.5" r="1.7"/><circle cx="139.6" cy="444.4" r="1.7"/><circle cx="52.9" cy="268.9" r="1.7"/><circle cx="271.7" cy="489.9" r="1.7"/><circle cx="157.8" cy="461.2" r="1.7"/><circle cx="489.4" cy="179.9" r="1.7"/><circle cx="248.1" cy="478" r="1.7"/><circle cx="63.2" cy="244.9" r="1.7"/><circle cx="488.1" cy="368.3" r="1.7"/><circle cx="53.7" cy="262.7" r="1.7"/><circle cx="139.2" cy="431.7" r="1.7"/><circle cx="246.1" cy="493.3" r="1.7"/><circle cx="414.9" cy="72.5" r="1.7"/><circle cx="428.7" cy="80.8" r="1.7"/><circle cx="153.2" cy="93.8" r="1.7"/><circle cx="110.6" cy="410.4" r="1.7"/><circle cx="62.7" cy="227.2" r="1.7"/><circle cx="439.1" cy="95.3" r="1.7"/><circle cx="512.8" cy="277.5" r="1.7"/><circle cx="325.3" cy="38.1" r="1.7"/><circle cx="487.3" cy="367.4" r="1.7"/><circle cx="483.9" cy="368.2" r="1.7"/><circle cx="58.7" cy="304" r="1.7"/><circle cx="511.2" cy="226.6" r="1.7"/><circle cx="498.1" cy="352.2" r="1.7"/><circle cx="76.8" cy="181.2" r="1.7"/><circle cx="298.4" cy="30.3" r="1.7"/><circle cx="509.8" cy="219.9" r="1.7"/><circle cx="499.8" cy="190.9" r="1.7"/><circle cx="238" cy="48.5" r="1.7"/><circle cx="360.1" cy="59.1" r="1.7"/><circle cx="125.2" cy="97.9" r="1.7"/><circle cx="161.3" cy="462.8" r="1.7"/><circle cx="178.8" cy="470.2" r="1.7"/><circle cx="227" cy="483.3" r="1.7"/><circle cx="507.2" cy="256.4" r="1.7"/><circle cx="174.9" cy="470.3" r="1.7"/><circle cx="491.3" cy="374.3" r="1.7"/><circle cx="110.4" cy="411.9" r="1.7"/><circle cx="426.6" cy="80.9" r="1.7"/><circle cx="76.6" cy="347.2" r="1.7"/><circle cx="58.4" cy="322.7" r="1.7"/><circle cx="58.4" cy="228.7" r="1.7"/><circle cx="52.5" cy="296.4" r="1.7"/><circle cx="51.9" cy="255.2" r="1.7"/><circle cx="353.7" cy="44.2" r="1.7"/><circle cx="497.5" cy="172.6" r="1.7"/><circle cx="436.1" cy="443.1" r="1.7"/><circle cx="146.4" cy="76.4" r="1.7"/><circle cx="426" cy="450.6" r="1.7"/><circle cx="292" cy="30.2" r="1.7"/><circle cx="76.4" cy="354.6" r="1.7"/><circle cx="58.4" cy="235.4" r="1.7"/><circle cx="239.7" cy="491.7" r="1.7"/><circle cx="438.7" cy="435.1" r="1.7"/><circle cx="61" cy="194.8" r="1.7"/><circle cx="504" cy="320.7" r="1.7"/><circle cx="184.4" cy="64.5" r="1.7"/><circle cx="215.3" cy="476" r="1.7"/><circle cx="83.2" cy="355" r="1.7"/><circle cx="239.4" cy="491.6" r="1.7"/><circle cx="175" cy="67.8" r="1.7"/><circle cx="226.4" cy="480.9" r="1.7"/><circle cx="64.4" cy="326.5" r="1.7"/><circle cx="156.2" cy="83.4" r="1.7"/><circle cx="76" cy="364.3" r="1.7"/><circle cx="424.1" cy="449.6" r="1.7"/><circle cx="378.2" cy="478.4" r="1.7"/><circle cx="159.7" cy="458.6" r="1.7"/><circle cx="471.1" cy="143" r="1.7"/><circle cx="380.1" cy="479.3" r="1.7"/><circle cx="424.9" cy="445.2" r="1.7"/><circle cx="282.1" cy="495.6" r="1.7"/><circle cx="367.2" cy="56.2" r="1.7"/><circle cx="103.8" cy="120.1" r="1.7"/><circle cx="158.3" cy="76" r="1.7"/><circle cx="131.2" cy="439.3" r="1.7"/><circle cx="504.8" cy="187.2" r="1.7"/><circle cx="476.5" cy="384.4" r="1.7"/><circle cx="318" cy="41.2" r="1.7"/><circle cx="124.6" cy="430.5" r="1.7"/><circle cx="55.8" cy="246.5" r="1.7"/><circle cx="446.7" cy="435.2" r="1.7"/><circle cx="195.6" cy="53.4" r="1.7"/><circle cx="491.1" cy="215.2" r="1.7"/><circle cx="448.8" cy="98.6" r="1.7"/><circle cx="500.8" cy="298.7" r="1.7"/><circle cx="441.6" cy="432" r="1.7"/><circle cx="121.6" cy="120.4" r="1.7"/><circle cx="114" cy="106.1" r="1.7"/><circle cx="422.2" cy="444.8" r="1.7"/><circle cx="62.7" cy="196" r="1.7"/><circle cx="445.1" cy="94.2" r="1.7"/><circle cx="78" cy="160.5" r="1.7"/><circle cx="80.1" cy="158.2" r="1.7"/><circle cx="245.4" cy="492" r="1.7"/><circle cx="144.6" cy="78.9" r="1.7"/><circle cx="67.4" cy="187.2" r="1.7"/><circle cx="51" cy="284.5" r="1.7"/><circle cx="54.2" cy="231.5" r="1.7"/><circle cx="376" cy="479" r="1.7"/><circle cx="205.4" cy="481.1" r="1.7"/><circle cx="128.5" cy="91" r="1.7"/><circle cx="508.7" cy="310.9" r="1.7"/><circle cx="60.8" cy="269.4" r="1.7"/><circle cx="457.6" cy="413.6" r="1.7"/><circle cx="117.8" cy="400.5" r="1.7"/><circle cx="66.9" cy="183.6" r="1.7"/><circle cx="501.8" cy="325.8" r="1.7"/><circle cx="454.8" cy="110.4" r="1.7"/><circle cx="235.1" cy="487.9" r="1.7"/><circle cx="373.2" cy="478.6" r="1.7"/><circle cx="125.3" cy="417" r="1.7"/><circle cx="101.8" cy="127.1" r="1.7"/><circle cx="508.8" cy="312.6" r="1.7"/><circle cx="262.6" cy="32.4" r="1.7"/><circle cx="512.1" cy="289.7" r="1.7"/><circle cx="507.5" cy="295.9" r="1.7"/><circle cx="110.3" cy="116.1" r="1.7"/><circle cx="507.9" cy="252.5" r="1.7"/><circle cx="512.9" cy="284" r="1.7"/><circle cx="502.4" cy="206" r="1.7"/><circle cx="494.2" cy="321.8" r="1.7"/><circle cx="403.4" cy="63.5" r="1.7"/><circle cx="93.5" cy="392.6" r="1.7"/><circle cx="492.9" cy="371.7" r="1.7"/><circle cx="215.2" cy="45.6" r="1.7"/><circle cx="391.2" cy="471.2" r="1.7"/><circle cx="229" cy="40.7" r="1.7"/><circle cx="497.1" cy="196.4" r="1.7"/><circle cx="99" cy="404.4" r="1.7"/><circle cx="458.9" cy="127.6" r="1.7"/><circle cx="99.1" cy="130.7" r="1.7"/><circle cx="267.9" cy="486.3" r="1.7"/><circle cx="489.1" cy="198.3" r="1.7"/><circle cx="166.9" cy="454.2" r="1.7"/><circle cx="406.7" cy="71" r="1.7"/><circle cx="355.8" cy="53.6" r="1.7"/><circle cx="348.1" cy="47.4" r="1.7"/><circle cx="152.5" cy="72.7" r="1.7"/><circle cx="497.4" cy="308.2" r="1.7"/><circle cx="514.2" cy="284.4" r="1.7"/><circle cx="410.8" cy="71.3" r="1.7"/><circle cx="483.5" cy="388.4" r="1.7"/><circle cx="437.7" cy="437.1" r="1.7"/><circle cx="289.4" cy="33.9" r="1.7"/><circle cx="93.6" cy="133.5" r="1.7"/><circle cx="69.3" cy="190.7" r="1.7"/><circle cx="65.6" cy="209.5" r="1.7"/><circle cx="58.5" cy="319.9" r="1.7"/><circle cx="455.1" cy="409.3" r="1.7"/><circle cx="203" cy="51.6" r="1.7"/><circle cx="70.3" cy="205.8" r="1.7"/><circle cx="145.5" cy="447.2" r="1.7"/><circle cx="58.8" cy="208.3" r="1.7"/><circle cx="454.1" cy="105.5" r="1.7"/><circle cx="282.8" cy="33.3" r="1.7"/><circle cx="365.3" cy="48.5" r="1.7"/><circle cx="368.4" cy="465.8" r="1.7"/><circle cx="164.6" cy="465.4" r="1.7"/><circle cx="74.3" cy="334.9" r="1.7"/><circle cx="208.6" cy="486.7" r="1.7"/><circle cx="83.2" cy="376" r="1.7"/><circle cx="321.8" cy="490.7" r="1.7"/><circle cx="141" cy="434.1" r="1.7"/><circle cx="161.3" cy="65.7" r="1.7"/><circle cx="511.6" cy="210.1" r="1.7"/><circle cx="228.2" cy="493.7" r="1.7"/><circle cx="341.4" cy="470.8" r="1.7"/><circle cx="494.8" cy="354.6" r="1.7"/><circle cx="423" cy="76.7" r="1.7"/><circle cx="54.8" cy="240.1" r="1.7"/><circle cx="56" cy="249.1" r="1.7"/><circle cx="390.9" cy="472.7" r="1.7"/><circle cx="69" cy="343.1" r="1.7"/><circle cx="306.9" cy="481" r="1.7"/><circle cx="53.9" cy="236" r="1.7"/><circle cx="144.6" cy="78.4" r="1.7"/><circle cx="201.6" cy="475.3" r="1.7"/><circle cx="276.4" cy="35.6" r="1.7"/><circle cx="111.5" cy="127.3" r="1.7"/><circle cx="374.9" cy="468" r="1.7"/><circle cx="369.1" cy="51.4" r="1.7"/><circle cx="489.6" cy="350.2" r="1.7"/><circle cx="59.7" cy="311.6" r="1.7"/><circle cx="445.3" cy="98.4" r="1.7"/><circle cx="304.7" cy="44.3" r="1.7"/><circle cx="244.2" cy="491.6" r="1.7"/><circle cx="57.9" cy="301.9" r="1.7"/><circle cx="58.6" cy="221.3" r="1.7"/><circle cx="406.7" cy="67.2" r="1.7"/><circle cx="406.4" cy="460.6" r="1.7"/><circle cx="511.8" cy="243.8" r="1.7"/><circle cx="137.1" cy="427.9" r="1.7"/><circle cx="508" cy="200.3" r="1.7"/><circle cx="355.2" cy="488.7" r="1.7"/><circle cx="400.6" cy="452.3" r="1.7"/><circle cx="287.1" cy="32.8" r="1.7"/><circle cx="139.6" cy="445.1" r="1.7"/><circle cx="487" cy="384.1" r="1.7"/><circle cx="267.7" cy="38.2" r="1.7"/><circle cx="50.2" cy="275.4" r="1.7"/><circle cx="387.9" cy="457.3" r="1.7"/><circle cx="485.2" cy="150" r="1.7"/><circle cx="60.9" cy="227" r="1.7"/><circle cx="394.1" cy="465.1" r="1.7"/><circle cx="361.4" cy="484.5" r="1.7"/><circle cx="110.8" cy="114" r="1.7"/><circle cx="79.2" cy="163.5" r="1.7"/><circle cx="387.5" cy="68.8" r="1.7"/><circle cx="63.6" cy="254.3" r="1.7"/><circle cx="131.2" cy="97.9" r="1.7"/><circle cx="89.2" cy="395.5" r="1.7"/><circle cx="244.5" cy="46.9" r="1.7"/><circle cx="211.6" cy="484.6" r="1.7"/><circle cx="286.9" cy="32" r="1.7"/><circle cx="70.2" cy="202.3" r="1.7"/><circle cx="232.5" cy="36.5" r="1.7"/><circle cx="55.8" cy="298.4" r="1.7"/><circle cx="282.9" cy="38.5" r="1.7"/><circle cx="270.4" cy="490.4" r="1.7"/><circle cx="88.6" cy="142.2" r="1.7"/><circle cx="311.1" cy="498.6" r="1.7"/><circle cx="465.1" cy="124.2" r="1.7"/><circle cx="263.5" cy="42.6" r="1.7"/><circle cx="257.8" cy="484.9" r="1.7"/><circle cx="497.8" cy="169" r="1.7"/><circle cx="124.1" cy="92.7" r="1.7"/><circle cx="56.9" cy="272" r="1.7"/><circle cx="174.9" cy="64.3" r="1.7"/><circle cx="118.5" cy="104.4" r="1.7"/><circle cx="478.2" cy="360.4" r="1.7"/><circle cx="207.7" cy="479.5" r="1.7"/><circle cx="231.5" cy="52.9" r="1.7"/><circle cx="486.1" cy="360.7" r="1.7"/><circle cx="398.8" cy="76" r="1.7"/><circle cx="192.7" cy="48.1" r="1.7"/><circle cx="69.8" cy="312" r="1.7"/><circle cx="506.1" cy="257.1" r="1.7"/><circle cx="502.5" cy="207" r="1.7"/><circle cx="177.5" cy="69.8" r="1.7"/><circle cx="98.6" cy="399.3" r="1.7"/><circle cx="332" cy="484.6" r="1.7"/><circle cx="267.6" cy="499.9" r="1.7"/><circle cx="210.7" cy="51.5" r="1.7"/><circle cx="200.8" cy="60.2" r="1.7"/><circle cx="171.8" cy="71.4" r="1.7"/><circle cx="518.5" cy="275.8" r="1.7"/><circle cx="342.6" cy="470" r="1.7"/><circle cx="61.5" cy="311.1" r="1.7"/><circle cx="387" cy="60" r="1.7"/><circle cx="511.4" cy="312.5" r="1.7"/><circle cx="439.9" cy="95" r="1.7"/><circle cx="274.1" cy="484.9" r="1.7"/><circle cx="67.4" cy="334.8" r="1.7"/><circle cx="504.9" cy="194.4" r="1.7"/><circle cx="455" cy="407.2" r="1.7"/><circle cx="515.6" cy="271.9" r="1.7"/><circle cx="389.4" cy="54.8" r="1.7"/><circle cx="284.4" cy="496.3" r="1.7"/><circle cx="363.6" cy="472.7" r="1.7"/><circle cx="227.4" cy="40.1" r="1.7"/><circle cx="489.2" cy="371" r="1.7"/><circle cx="396.1" cy="69.4" r="1.7"/><circle cx="199.2" cy="48.2" r="1.7"/><circle cx="164.1" cy="454.2" r="1.7"/><circle cx="269.4" cy="35.5" r="1.7"/><circle cx="72.1" cy="176.3" r="1.7"/><circle cx="55.8" cy="301.1" r="1.7"/><circle cx="513.6" cy="285.9" r="1.7"/><circle cx="434.7" cy="433.5" r="1.7"/><circle cx="462.3" cy="115.4" r="1.7"/><circle cx="346.4" cy="48.6" r="1.7"/><circle cx="194.2" cy="470.9" r="1.7"/><circle cx="129.5" cy="125.1" r="1.7"/><circle cx="110.8" cy="413.6" r="1.7"/><circle cx="503.7" cy="201.7" r="1.7"/><circle cx="197.8" cy="483" r="1.7"/><circle cx="151.9" cy="78.5" r="1.7"/><circle cx="455.3" cy="108.9" r="1.7"/><circle cx="516.9" cy="250.8" r="1.7"/><circle cx="244.8" cy="38.2" r="1.7"/><circle cx="454.3" cy="401.1" r="1.7"/><circle cx="92.4" cy="129.3" r="1.7"/><circle cx="176" cy="59.6" r="1.7"/><circle cx="487.5" cy="349.4" r="1.7"/><circle cx="106.1" cy="121.6" r="1.7"/><circle cx="97" cy="406.5" r="1.7"/><circle cx="93" cy="146.6" r="1.7"/><circle cx="463.4" cy="117.2" r="1.7"/><circle cx="377.7" cy="479.5" r="1.7"/><circle cx="457.7" cy="413.4" r="1.7"/><circle cx="441.3" cy="424.1" r="1.7"/><circle cx="144.1" cy="433.6" r="1.7"/><circle cx="502.7" cy="235.2" r="1.7"/><circle cx="509.1" cy="254.4" r="1.7"/><circle cx="284.5" cy="499.4" r="1.7"/><circle cx="51.7" cy="261.5" r="1.7"/><circle cx="58.7" cy="303.7" r="1.7"/><circle cx="186.3" cy="51.5" r="1.7"/><circle cx="171.5" cy="468.9" r="1.7"/><circle cx="478.9" cy="390.2" r="1.7"/><circle cx="355.4" cy="43.8" r="1.7"/><circle cx="452.7" cy="104.9" r="1.7"/><circle cx="405.9" cy="82.1" r="1.7"/><circle cx="149.2" cy="77.2" r="1.7"/><circle cx="484.9" cy="377.8" r="1.7"/><circle cx="494.3" cy="328.3" r="1.7"/><circle cx="481.6" cy="148.6" r="1.7"/><circle cx="290.1" cy="31.4" r="1.7"/><circle cx="143.5" cy="80.8" r="1.7"/><circle cx="426.5" cy="451.1" r="1.7"/><circle cx="310.6" cy="492.2" r="1.7"/><circle cx="62.5" cy="297.8" r="1.7"/><circle cx="126.4" cy="95.9" r="1.7"/><circle cx="205.2" cy="62" r="1.7"/><circle cx="460" cy="112" r="1.7"/><circle cx="326.8" cy="35.7" r="1.7"/><circle cx="60.7" cy="275.8" r="1.7"/><circle cx="292" cy="30.8" r="1.7"/><circle cx="56.8" cy="241.7" r="1.7"/><circle cx="336.9" cy="492.9" r="1.7"/><circle cx="438.2" cy="101.7" r="1.7"/><circle cx="239.1" cy="34.2" r="1.7"/><circle cx="82.5" cy="148.5" r="1.7"/><circle cx="86.3" cy="157.3" r="1.7"/><circle cx="198.9" cy="56.6" r="1.7"/><circle cx="454.9" cy="106.9" r="1.7"/><circle cx="190.4" cy="66.1" r="1.7"/><circle cx="455" cy="424.7" r="1.7"/><circle cx="140.9" cy="451.5" r="1.7"/><circle cx="56.6" cy="277.7" r="1.7"/><circle cx="261.3" cy="39.3" r="1.7"/><circle cx="142.4" cy="413.5" r="1.7"/><circle cx="407.3" cy="458.2" r="1.7"/><circle cx="135.3" cy="108.3" r="1.7"/><circle cx="447" cy="106.9" r="1.7"/><circle cx="361.2" cy="44.9" r="1.7"/><circle cx="365" cy="46.1" r="1.7"/><circle cx="84.8" cy="381.9" r="1.7"/><circle cx="252.6" cy="37.6" r="1.7"/><circle cx="462.9" cy="124.7" r="1.7"/><circle cx="383.9" cy="463.5" r="1.7"/><circle cx="128.8" cy="431.8" r="1.7"/><circle cx="160.7" cy="458.6" r="1.7"/><circle cx="387.8" cy="476.1" r="1.7"/><circle cx="151.9" cy="75.8" r="1.7"/><circle cx="84.9" cy="389.5" r="1.7"/><circle cx="173.2" cy="472.5" r="1.7"/><circle cx="503.3" cy="298.1" r="1.7"/><circle cx="448.2" cy="107.4" r="1.7"/><circle cx="223.4" cy="479.3" r="1.7"/><circle cx="426" cy="451.3" r="1.7"/><circle cx="500.8" cy="218.8" r="1.7"/><circle cx="501.1" cy="337.9" r="1.7"/><circle cx="237" cy="486.3" r="1.7"/><circle cx="414.8" cy="433.2" r="1.7"/><circle cx="96.4" cy="143" r="1.7"/><circle cx="280.2" cy="50.7" r="1.7"/><circle cx="369.7" cy="57.8" r="1.7"/><circle cx="296.9" cy="500.1" r="1.7"/><circle cx="506.9" cy="321.2" r="1.7"/><circle cx="371.6" cy="479.8" r="1.7"/><circle cx="391.6" cy="473.2" r="1.7"/><circle cx="234.7" cy="481" r="1.7"/><circle cx="508" cy="223.5" r="1.7"/><circle cx="113" cy="423" r="1.7"/><circle cx="363.1" cy="47.6" r="1.7"/><circle cx="69.9" cy="204.1" r="1.7"/><circle cx="351.8" cy="49.1" r="1.7"/><circle cx="474.3" cy="401.4" r="1.7"/><circle cx="244.9" cy="35.1" r="1.7"/><circle cx="353.6" cy="473.9" r="1.7"/><circle cx="241" cy="495.9" r="1.7"/><circle cx="216.9" cy="43.6" r="1.7"/><circle cx="406.9" cy="445.6" r="1.7"/><circle cx="54.1" cy="314.2" r="1.7"/><circle cx="273.5" cy="497.8" r="1.7"/><circle cx="189.4" cy="50.8" r="1.7"/><circle cx="355.9" cy="474.2" r="1.7"/><circle cx="207.9" cy="55.3" r="1.7"/><circle cx="515.7" cy="278.5" r="1.7"/><circle cx="138.9" cy="437.5" r="1.7"/><circle cx="66.4" cy="238.8" r="1.7"/><circle cx="152.2" cy="84.5" r="1.7"/><circle cx="66.2" cy="243.5" r="1.7"/><circle cx="513.3" cy="313" r="1.7"/><circle cx="68.7" cy="199.1" r="1.7"/><circle cx="104.2" cy="406" r="1.7"/><circle cx="325.7" cy="492.5" r="1.7"/><circle cx="456.9" cy="113.5" r="1.7"/><circle cx="70.6" cy="324.9" r="1.7"/><circle cx="52.3" cy="242" r="1.7"/><circle cx="275.9" cy="33.5" r="1.7"/><circle cx="399.3" cy="468.4" r="1.7"/><circle cx="503.9" cy="209.7" r="1.7"/><circle cx="156.2" cy="450.6" r="1.7"/><circle cx="456.2" cy="413.2" r="1.7"/><circle cx="459.1" cy="120.2" r="1.7"/><circle cx="163.9" cy="67" r="1.7"/><circle cx="288.3" cy="29.9" r="1.7"/><circle cx="433.2" cy="431.9" r="1.7"/><circle cx="101" cy="136.5" r="1.7"/><circle cx="371" cy="483.5" r="1.7"/><circle cx="250.8" cy="43.8" r="1.7"/><circle cx="170" cy="67.7" r="1.7"/><circle cx="310.7" cy="31.3" r="1.7"/><circle cx="141.2" cy="91" r="1.7"/><circle cx="320.2" cy="35.6" r="1.7"/><circle cx="516.6" cy="284.4" r="1.7"/><circle cx="487.4" cy="367.2" r="1.7"/><circle cx="85.3" cy="376" r="1.7"/><circle cx="484.5" cy="370.6" r="1.7"/><circle cx="64.6" cy="251.7" r="1.7"/><circle cx="466.9" cy="118.6" r="1.7"/><circle cx="498.3" cy="178.3" r="1.7"/><circle cx="425.8" cy="448.8" r="1.7"/><circle cx="327.8" cy="491.2" r="1.7"/><circle cx="489.8" cy="178.7" r="1.7"/><circle cx="70.7" cy="182.8" r="1.7"/><circle cx="159.7" cy="75.8" r="1.7"/><circle cx="516.7" cy="265.2" r="1.7"/><circle cx="441.7" cy="437.6" r="1.7"/><circle cx="368.6" cy="46.2" r="1.7"/><circle cx="57.3" cy="227.7" r="1.7"/><circle cx="56.4" cy="228.5" r="1.7"/><circle cx="181.2" cy="57.9" r="1.7"/><circle cx="90.1" cy="397.2" r="1.7"/><circle cx="126.2" cy="428" r="1.7"/><circle cx="513.9" cy="264.3" r="1.7"/><circle cx="489.2" cy="369.1" r="1.7"/><circle cx="62.2" cy="191" r="1.7"/><circle cx="452" cy="407.6" r="1.7"/><circle cx="59.5" cy="208" r="1.7"/><circle cx="225.3" cy="53" r="1.7"/><circle cx="112.4" cy="133.4" r="1.7"/><circle cx="52.2" cy="225.8" r="1.7"/><circle cx="120.7" cy="421" r="1.7"/><circle cx="80.3" cy="375.9" r="1.7"/><circle cx="517.2" cy="245.7" r="1.7"/><circle cx="289.1" cy="38.2" r="1.7"/><circle cx="371.5" cy="53.2" r="1.7"/><circle cx="228.1" cy="37" r="1.7"/><circle cx="354.6" cy="480.4" r="1.7"/><circle cx="366.8" cy="484.2" r="1.7"/><circle cx="390.3" cy="473.9" r="1.7"/><circle cx="508.7" cy="294.6" r="1.7"/><circle cx="443.5" cy="108.1" r="1.7"/><circle cx="490" cy="196.7" r="1.7"/><circle cx="115.9" cy="117.7" r="1.7"/><circle cx="71.9" cy="337.1" r="1.7"/><circle cx="418.2" cy="93.9" r="1.7"/><circle cx="152.5" cy="88.4" r="1.7"/><circle cx="322.5" cy="36.1" r="1.7"/><circle cx="53.2" cy="231.2" r="1.7"/><circle cx="101.6" cy="120.9" r="1.7"/><circle cx="71.6" cy="168.5" r="1.7"/><circle cx="509.9" cy="220.2" r="1.7"/><circle cx="512.1" cy="207.7" r="1.7"/><circle cx="181.9" cy="71.4" r="1.7"/><circle cx="61.9" cy="310.9" r="1.7"/><circle cx="448.4" cy="428.8" r="1.7"/><circle cx="389.8" cy="468.1" r="1.7"/><circle cx="471.4" cy="127.9" r="1.7"/><circle cx="77.7" cy="178.7" r="1.7"/><circle cx="461.5" cy="132.5" r="1.7"/><circle cx="71.5" cy="336.4" r="1.7"/><circle cx="292.9" cy="491.7" r="1.7"/><circle cx="392" cy="63.8" r="1.7"/><circle cx="508.1" cy="326.7" r="1.7"/><circle cx="82.2" cy="375.7" r="1.7"/><circle cx="62.8" cy="204.7" r="1.7"/><circle cx="154.8" cy="426.9" r="1.7"/><circle cx="508.1" cy="203.5" r="1.7"/><circle cx="76.8" cy="177.5" r="1.7"/><circle cx="359.3" cy="484.9" r="1.7"/><circle cx="301.7" cy="32.7" r="1.7"/><circle cx="482.8" cy="158.7" r="1.7"/><circle cx="68.9" cy="196.8" r="1.7"/><circle cx="437.5" cy="430.6" r="1.7"/><circle cx="382.1" cy="475.7" r="1.7"/><circle cx="516.9" cy="236.4" r="1.7"/><circle cx="71.1" cy="357" r="1.7"/><circle cx="499.9" cy="350.5" r="1.7"/><circle cx="330.8" cy="490.6" r="1.7"/><circle cx="133" cy="89.5" r="1.7"/><circle cx="233" cy="36.5" r="1.7"/><circle cx="79.7" cy="149.2" r="1.7"/><circle cx="509.6" cy="280.8" r="1.7"/><circle cx="143.9" cy="453.4" r="1.7"/><circle cx="511.3" cy="256.5" r="1.7"/><circle cx="158.3" cy="462.7" r="1.7"/><circle cx="346.5" cy="47.6" r="1.7"/><circle cx="62.3" cy="276.3" r="1.7"/><circle cx="445.3" cy="411.9" r="1.7"/><circle cx="321.2" cy="497.5" r="1.7"/><circle cx="68.5" cy="330" r="1.7"/><circle cx="509.6" cy="200.6" r="1.7"/><circle cx="56.9" cy="270.7" r="1.7"/><circle cx="467" cy="407" r="1.7"/><circle cx="400.2" cy="469.6" r="1.7"/><circle cx="444.7" cy="108.1" r="1.7"/><circle cx="56.5" cy="297.8" r="1.7"/><circle cx="517.9" cy="260.6" r="1.7"/><circle cx="343" cy="41.7" r="1.7"/><circle cx="165.4" cy="462.1" r="1.7"/><circle cx="301.7" cy="498.2" r="1.7"/><circle cx="197.8" cy="483.4" r="1.7"/><circle cx="176.8" cy="58" r="1.7"/><circle cx="459.8" cy="113.4" r="1.7"/><circle cx="492.4" cy="333.6" r="1.7"/><circle cx="52.4" cy="289.7" r="1.7"/><circle cx="294.2" cy="499.4" r="1.7"/><circle cx="262.4" cy="35" r="1.7"/><circle cx="232.6" cy="490.5" r="1.7"/><circle cx="497.6" cy="359" r="1.7"/><circle cx="65.3" cy="303.4" r="1.7"/><circle cx="506" cy="209.9" r="1.7"/><circle cx="277.8" cy="494.3" r="1.7"/><circle cx="368.5" cy="483.9" r="1.7"/><circle cx="58.4" cy="238.9" r="1.7"/><circle cx="318" cy="40.8" r="1.7"/><circle cx="172.5" cy="66.3" r="1.7"/><circle cx="506.2" cy="191.5" r="1.7"/><circle cx="428.3" cy="438.4" r="1.7"/><circle cx="279.8" cy="32.7" r="1.7"/><circle cx="177.6" cy="72.6" r="1.7"/><circle cx="504.9" cy="207.1" r="1.7"/><circle cx="506" cy="229" r="1.7"/><circle cx="359.2" cy="48" r="1.7"/><circle cx="489.5" cy="154.6" r="1.7"/><circle cx="497.6" cy="355.4" r="1.7"/><circle cx="169.6" cy="80.7" r="1.7"/><circle cx="498.2" cy="193.7" r="1.7"/><circle cx="99.6" cy="138.1" r="1.7"/><circle cx="323" cy="487.8" r="1.7"/><circle cx="71.8" cy="331.8" r="1.7"/><circle cx="445.8" cy="426.2" r="1.7"/><circle cx="266.3" cy="493.2" r="1.7"/><circle cx="449.9" cy="101.5" r="1.7"/><circle cx="375.7" cy="60.1" r="1.7"/><circle cx="76.2" cy="352.3" r="1.7"/><circle cx="142.5" cy="441.7" r="1.7"/><circle cx="325.6" cy="36.1" r="1.7"/><circle cx="228.7" cy="41.9" r="1.7"/><circle cx="333.8" cy="490" r="1.7"/><circle cx="320.5" cy="46.2" r="1.7"/><circle cx="171.1" cy="470.9" r="1.7"/><circle cx="188.6" cy="464.5" r="1.7"/><circle cx="299" cy="30.4" r="1.7"/><circle cx="481.9" cy="142.5" r="1.7"/><circle cx="72" cy="357.7" r="1.7"/><circle cx="53.6" cy="223.2" r="1.7"/><circle cx="60.5" cy="226.4" r="1.7"/><circle cx="124.3" cy="93.1" r="1.7"/><circle cx="237" cy="37.4" r="1.7"/><circle cx="429.6" cy="83.8" r="1.7"/><circle cx="509.6" cy="289.6" r="1.7"/><circle cx="63.3" cy="186.4" r="1.7"/><circle cx="52.2" cy="231.1" r="1.7"/><circle cx="517.9" cy="270.3" r="1.7"/><circle cx="502.8" cy="315.6" r="1.7"/><circle cx="481" cy="356.8" r="1.7"/><circle cx="155" cy="73.2" r="1.7"/><circle cx="404.9" cy="76" r="1.7"/><circle cx="135.7" cy="82.8" r="1.7"/><circle cx="475.9" cy="151.8" r="1.7"/><circle cx="455.6" cy="419" r="1.7"/><circle cx="487.9" cy="154.2" r="1.7"/><circle cx="342.9" cy="44.3" r="1.7"/><circle cx="113.2" cy="404.8" r="1.7"/><circle cx="54.3" cy="230.4" r="1.7"/><circle cx="56.2" cy="207.7" r="1.7"/><circle cx="72.5" cy="168.5" r="1.7"/><circle cx="100.3" cy="120.3" r="1.7"/><circle cx="264.1" cy="38.4" r="1.7"/><circle cx="469.3" cy="136.5" r="1.7"/><circle cx="129.8" cy="430.6" r="1.7"/><circle cx="403" cy="73.7" r="1.7"/><circle cx="254.8" cy="497" r="1.7"/><circle cx="149.5" cy="74.1" r="1.7"/><circle cx="412.1" cy="452.1" r="1.7"/><circle cx="256.5" cy="41.7" r="1.7"/><circle cx="84.5" cy="387.5" r="1.7"/><circle cx="79.8" cy="166.5" r="1.7"/><circle cx="481.3" cy="390.8" r="1.7"/><circle cx="67.7" cy="321.9" r="1.7"/><circle cx="514.2" cy="307.1" r="1.7"/><circle cx="145.2" cy="75" r="1.7"/><circle cx="388.3" cy="467" r="1.7"/><circle cx="74.3" cy="174.6" r="1.7"/><circle cx="195" cy="47.7" r="1.7"/><circle cx="125.8" cy="111.2" r="1.7"/><circle cx="486.3" cy="382.3" r="1.7"/><circle cx="297.1" cy="35.6" r="1.7"/><circle cx="493.4" cy="177.6" r="1.7"/><circle cx="312.2" cy="488.3" r="1.7"/><circle cx="154" cy="85.8" r="1.7"/><circle cx="77.7" cy="337.7" r="1.7"/><circle cx="58.6" cy="331" r="1.7"/><circle cx="312.4" cy="490" r="1.7"/><circle cx="200.4" cy="45" r="1.7"/><circle cx="254.1" cy="496.5" r="1.7"/><circle cx="496.2" cy="167.8" r="1.7"/><circle cx="77.6" cy="154.8" r="1.7"/><circle cx="125" cy="428.7" r="1.7"/><circle cx="429.5" cy="418.2" r="1.7"/><circle cx="319.7" cy="489.4" r="1.7"/><circle cx="235.2" cy="490.6" r="1.7"/><circle cx="180.2" cy="63.2" r="1.7"/><circle cx="513.8" cy="303.1" r="1.7"/><circle cx="461.7" cy="416" r="1.7"/><circle cx="71.4" cy="362.1" r="1.7"/><circle cx="132.8" cy="439.7" r="1.7"/><circle cx="513.9" cy="232.3" r="1.7"/><circle cx="97.7" cy="366.6" r="1.7"/><circle cx="105.3" cy="116.2" r="1.7"/><circle cx="456.4" cy="110.2" r="1.7"/><circle cx="400.6" cy="465.3" r="1.7"/><circle cx="473.4" cy="130.7" r="1.7"/><circle cx="494.2" cy="359.6" r="1.7"/><circle cx="121.4" cy="115.2" r="1.7"/><circle cx="345.2" cy="52.7" r="1.7"/><circle cx="182" cy="474.9" r="1.7"/><circle cx="504.9" cy="262.7" r="1.7"/><circle cx="113.1" cy="103.4" r="1.7"/><circle cx="371.3" cy="52" r="1.7"/><circle cx="509.1" cy="220.1" r="1.7"/><circle cx="515.2" cy="259.8" r="1.7"/><circle cx="76.7" cy="366.4" r="1.7"/><circle cx="248" cy="39.6" r="1.7"/><circle cx="515.3" cy="239.5" r="1.7"/><circle cx="107.1" cy="392.7" r="1.7"/><circle cx="79.2" cy="374.2" r="1.7"/><circle cx="291.3" cy="37.3" r="1.7"/><circle cx="224.3" cy="60.7" r="1.7"/><circle cx="500.5" cy="199.7" r="1.7"/><circle cx="70.6" cy="222.1" r="1.7"/><circle cx="52.7" cy="225.6" r="1.7"/><circle cx="139.8" cy="450.3" r="1.7"/><circle cx="210.8" cy="458.7" r="1.7"/><circle cx="498.3" cy="167.4" r="1.7"/><circle cx="331.8" cy="43" r="1.7"/><circle cx="175" cy="57.2" r="1.7"/><circle cx="477.7" cy="390.2" r="1.7"/><circle cx="394.6" cy="67.6" r="1.7"/><circle cx="66.8" cy="175.8" r="1.7"/><circle cx="358.8" cy="52.5" r="1.7"/><circle cx="59.8" cy="286.8" r="1.7"/><circle cx="263.5" cy="30.8" r="1.7"/><circle cx="322.7" cy="33.5" r="1.7"/><circle cx="122.6" cy="425.2" r="1.7"/><circle cx="470.6" cy="128" r="1.7"/><circle cx="495.8" cy="181.4" r="1.7"/><circle cx="144.9" cy="453.2" r="1.7"/><circle cx="76.8" cy="357.2" r="1.7"/><circle cx="59.8" cy="199.3" r="1.7"/><circle cx="494.8" cy="163.3" r="1.7"/><circle cx="88" cy="169.4" r="1.7"/><circle cx="512" cy="261.6" r="1.7"/><circle cx="288.4" cy="32" r="1.7"/><circle cx="89.2" cy="370.2" r="1.7"/><circle cx="443.5" cy="109.9" r="1.7"/><circle cx="243.9" cy="45.1" r="1.7"/><circle cx="51.6" cy="243.8" r="1.7"/><circle cx="136.1" cy="434.8" r="1.7"/><circle cx="507.9" cy="237.5" r="1.7"/><circle cx="120" cy="97" r="1.7"/><circle cx="379.1" cy="459" r="1.7"/><circle cx="315" cy="34.5" r="1.7"/><circle cx="75" cy="177.6" r="1.7"/><circle cx="269.4" cy="38.2" r="1.7"/><circle cx="126.1" cy="434" r="1.7"/><circle cx="329" cy="47" r="1.7"/><circle cx="506.5" cy="260.1" r="1.7"/><circle cx="239.6" cy="495.7" r="1.7"/><circle cx="70.3" cy="231.3" r="1.7"/><circle cx="141.3" cy="78.4" r="1.7"/><circle cx="113.3" cy="413.7" r="1.7"/><circle cx="502.2" cy="247.5" r="1.7"/><circle cx="394.3" cy="69.7" r="1.7"/><circle cx="136.7" cy="436.8" r="1.7"/><circle cx="159.3" cy="455.8" r="1.7"/><circle cx="87.1" cy="386.5" r="1.7"/><circle cx="517.1" cy="249.3" r="1.7"/><circle cx="342.8" cy="39.6" r="1.7"/><circle cx="215.5" cy="477.7" r="1.7"/><circle cx="305.2" cy="35.2" r="1.7"/><circle cx="54.7" cy="266.1" r="1.7"/><circle cx="328.6" cy="489.8" r="1.7"/><circle cx="136.4" cy="81.6" r="1.7"/><circle cx="78" cy="336" r="1.7"/><circle cx="515.8" cy="270.4" r="1.7"/><circle cx="139.8" cy="445.6" r="1.7"/><circle cx="61.5" cy="205.2" r="1.7"/><circle cx="178.1" cy="472.4" r="1.7"/><circle cx="133.7" cy="444.8" r="1.7"/><circle cx="273.4" cy="44.5" r="1.7"/><circle cx="514.8" cy="311.5" r="1.7"/><circle cx="408.9" cy="75.7" r="1.7"/><circle cx="195.5" cy="58.9" r="1.7"/><circle cx="63" cy="195.3" r="1.7"/><circle cx="513.9" cy="219" r="1.7"/><circle cx="109.1" cy="108.3" r="1.7"/><circle cx="457.5" cy="131.2" r="1.7"/><circle cx="99.3" cy="137.1" r="1.7"/><circle cx="94.2" cy="381.9" r="1.7"/><circle cx="74.1" cy="159.9" r="1.7"/><circle cx="414.4" cy="71.7" r="1.7"/><circle cx="198.1" cy="479.8" r="1.7"/><circle cx="468.6" cy="411.2" r="1.7"/><circle cx="258" cy="496.6" r="1.7"/><circle cx="385" cy="454.2" r="1.7"/><circle cx="227.8" cy="489.7" r="1.7"/><circle cx="146.5" cy="445" r="1.7"/><circle cx="174.8" cy="66.8" r="1.7"/><circle cx="78.8" cy="152.7" r="1.7"/><circle cx="245.7" cy="34.8" r="1.7"/><circle cx="169.9" cy="61.1" r="1.7"/><circle cx="497.9" cy="358.4" r="1.7"/><circle cx="403.1" cy="453.8" r="1.7"/><circle cx="90.8" cy="388.4" r="1.7"/><circle cx="145.5" cy="451" r="1.7"/><circle cx="452.2" cy="102.1" r="1.7"/><circle cx="139.2" cy="95.6" r="1.7"/><circle cx="87.7" cy="150.2" r="1.7"/><circle cx="61.7" cy="269.7" r="1.7"/><circle cx="96.2" cy="405.6" r="1.7"/><circle cx="91.9" cy="394.2" r="1.7"/><circle cx="185.5" cy="58.3" r="1.7"/><circle cx="76.3" cy="357.8" r="1.7"/><circle cx="93.3" cy="400" r="1.7"/><circle cx="341.4" cy="38.8" r="1.7"/><circle cx="370.6" cy="475.2" r="1.7"/><circle cx="82.8" cy="157.3" r="1.7"/><circle cx="318.2" cy="33" r="1.7"/><circle cx="371.1" cy="475.4" r="1.7"/><circle cx="145.5" cy="83.1" r="1.7"/><circle cx="312.3" cy="496" r="1.7"/><circle cx="208.8" cy="482.1" r="1.7"/><circle cx="443.2" cy="103.8" r="1.7"/><circle cx="340.3" cy="53.6" r="1.7"/><circle cx="352.7" cy="482.1" r="1.7"/><circle cx="61.8" cy="321.7" r="1.7"/><circle cx="101.5" cy="407.8" r="1.7"/><circle cx="362.8" cy="485.6" r="1.7"/><circle cx="53.5" cy="283.3" r="1.7"/><circle cx="501.1" cy="338.6" r="1.7"/><circle cx="356.8" cy="45.2" r="1.7"/><circle cx="243.8" cy="43.2" r="1.7"/><circle cx="282.7" cy="500.2" r="1.7"/><circle cx="97.3" cy="133.3" r="1.7"/><circle cx="244.4" cy="53.3" r="1.7"/><circle cx="55.1" cy="274.4" r="1.7"/><circle cx="64.3" cy="186.8" r="1.7"/><circle cx="317.6" cy="34.7" r="1.7"/><circle cx="192.5" cy="51.3" r="1.7"/><circle cx="55.4" cy="308.7" r="1.7"/><circle cx="515.7" cy="239.1" r="1.7"/><circle cx="441.8" cy="102.4" r="1.7"/><circle cx="86.9" cy="145.2" r="1.7"/><circle cx="69.4" cy="334.1" r="1.7"/><circle cx="379.9" cy="56.3" r="1.7"/><circle cx="280" cy="487.7" r="1.7"/><circle cx="89.9" cy="152.7" r="1.7"/><circle cx="518" cy="288.7" r="1.7"/><circle cx="409.5" cy="459.9" r="1.7"/><circle cx="422.7" cy="86" r="1.7"/><circle cx="269.9" cy="43.8" r="1.7"/><circle cx="118.8" cy="104.5" r="1.7"/><circle cx="167.7" cy="466.8" r="1.7"/><circle cx="404.6" cy="465.4" r="1.7"/><circle cx="511.7" cy="305.9" r="1.7"/><circle cx="435.2" cy="439.3" r="1.7"/><circle cx="62.6" cy="328.8" r="1.7"/><circle cx="64" cy="314.8" r="1.7"/><circle cx="279.1" cy="489.4" r="1.7"/><circle cx="481" cy="392.5" r="1.7"/><circle cx="96.7" cy="399.6" r="1.7"/><circle cx="400.8" cy="467.4" r="1.7"/><circle cx="262.4" cy="35.8" r="1.7"/><circle cx="450.6" cy="100.3" r="1.7"/><circle cx="512.4" cy="214.2" r="1.7"/><circle cx="484.7" cy="382.2" r="1.7"/><circle cx="58.7" cy="289.2" r="1.7"/><circle cx="457" cy="123.9" r="1.7"/><circle cx="473.3" cy="139.9" r="1.7"/><circle cx="462.8" cy="130" r="1.7"/><circle cx="54.7" cy="248" r="1.7"/><circle cx="416.3" cy="79.7" r="1.7"/><circle cx="510" cy="310.1" r="1.7"/><circle cx="349.6" cy="486.3" r="1.7"/><circle cx="203.3" cy="472.2" r="1.7"/><circle cx="152.3" cy="440.6" r="1.7"/><circle cx="81" cy="354.5" r="1.7"/><circle cx="468" cy="408.5" r="1.7"/><circle cx="502.6" cy="191.7" r="1.7"/><circle cx="82" cy="374.8" r="1.7"/><circle cx="502.4" cy="332.1" r="1.7"/><circle cx="472.9" cy="126.4" r="1.7"/><circle cx="101.2" cy="140.1" r="1.7"/><circle cx="235.8" cy="488.1" r="1.7"/><circle cx="513.5" cy="241.2" r="1.7"/><circle cx="71.7" cy="183.9" r="1.7"/><circle cx="130.1" cy="416.6" r="1.7"/><circle cx="201.8" cy="52" r="1.7"/><circle cx="515.2" cy="299" r="1.7"/><circle cx="199.6" cy="59.1" r="1.7"/><circle cx="478.2" cy="397.4" r="1.7"/><circle cx="493.3" cy="359.4" r="1.7"/><circle cx="417.5" cy="76" r="1.7"/><circle cx="82.1" cy="383.9" r="1.7"/><circle cx="85.2" cy="361.2" r="1.7"/><circle cx="380.6" cy="479.3" r="1.7"/><circle cx="428.6" cy="93.3" r="1.7"/><circle cx="463" cy="120.5" r="1.7"/><circle cx="164.2" cy="63.3" r="1.7"/><circle cx="194.4" cy="49.1" r="1.7"/><circle cx="369.9" cy="56.2" r="1.7"/><circle cx="127.1" cy="107.2" r="1.7"/><circle cx="504.2" cy="187.4" r="1.7"/><circle cx="168" cy="64.9" r="1.7"/><circle cx="138.3" cy="85.8" r="1.7"/><circle cx="203.8" cy="483.2" r="1.7"/><circle cx="56.1" cy="285.2" r="1.7"/><circle cx="51.4" cy="259.7" r="1.7"/><circle cx="461.9" cy="121.8" r="1.7"/><circle cx="245.2" cy="35.6" r="1.7"/><circle cx="444.6" cy="120.9" r="1.7"/><circle cx="283.2" cy="38.7" r="1.7"/><circle cx="326.8" cy="494" r="1.7"/><circle cx="146.9" cy="74.5" r="1.7"/><circle cx="154.7" cy="450.2" r="1.7"/><circle cx="111.6" cy="412.4" r="1.7"/><circle cx="280.6" cy="37.1" r="1.7"/><circle cx="76.2" cy="337.4" r="1.7"/><circle cx="471.6" cy="170.8" r="1.7"/><circle cx="104.9" cy="121.3" r="1.7"/><circle cx="493.5" cy="326.8" r="1.7"/><circle cx="451.7" cy="417" r="1.7"/><circle cx="289.1" cy="32.8" r="1.7"/><circle cx="194.5" cy="52.6" r="1.7"/><circle cx="509.5" cy="262.5" r="1.7"/><circle cx="163.3" cy="82.8" r="1.7"/><circle cx="67.7" cy="301.8" r="1.7"/><circle cx="389.4" cy="56.4" r="1.7"/><circle cx="476.6" cy="376.7" r="1.7"/><circle cx="123.8" cy="430.4" r="1.7"/><circle cx="400.7" cy="466.8" r="1.7"/><circle cx="65.3" cy="326.7" r="1.7"/><circle cx="470.1" cy="398.5" r="1.7"/><circle cx="250.7" cy="39.9" r="1.7"/><circle cx="464.3" cy="408.8" r="1.7"/><circle cx="138.1" cy="107.1" r="1.7"/><circle cx="122.3" cy="98.9" r="1.7"/><circle cx="64.1" cy="194.8" r="1.7"/><circle cx="55.3" cy="298.6" r="1.7"/><circle cx="403.2" cy="66.3" r="1.7"/><circle cx="167.7" cy="464.1" r="1.7"/><circle cx="451.5" cy="106" r="1.7"/><circle cx="59" cy="246.2" r="1.7"/><circle cx="73.9" cy="363.7" r="1.7"/><circle cx="410.4" cy="71.4" r="1.7"/><circle cx="57.9" cy="330.6" r="1.7"/><circle cx="504.4" cy="340.3" r="1.7"/><circle cx="481.2" cy="375.4" r="1.7"/><circle cx="358.6" cy="480.8" r="1.7"/><circle cx="192.6" cy="467.4" r="1.7"/><circle cx="57.5" cy="234.9" r="1.7"/><circle cx="287.9" cy="33.2" r="1.7"/><circle cx="502" cy="262.6" r="1.7"/><circle cx="69.9" cy="168.5" r="1.7"/><circle cx="176.1" cy="60.9" r="1.7"/><circle cx="444" cy="436.1" r="1.7"/><circle cx="503.1" cy="344.5" r="1.7"/><circle cx="517.6" cy="258.8" r="1.7"/><circle cx="98" cy="136.6" r="1.7"/><circle cx="452.6" cy="420.3" r="1.7"/><circle cx="266.3" cy="34.6" r="1.7"/><circle cx="329.9" cy="41.6" r="1.7"/><circle cx="57.3" cy="321" r="1.7"/><circle cx="482.7" cy="148.8" r="1.7"/><circle cx="111" cy="110.9" r="1.7"/><circle cx="512" cy="258.2" r="1.7"/><circle cx="68.6" cy="318.4" r="1.7"/><circle cx="54.5" cy="222.8" r="1.7"/><circle cx="93.7" cy="129.9" r="1.7"/><circle cx="189.2" cy="476.9" r="1.7"/><circle cx="81.1" cy="383.6" r="1.7"/><circle cx="411.7" cy="445.7" r="1.7"/><circle cx="68.3" cy="173.8" r="1.7"/><circle cx="278.1" cy="43.5" r="1.7"/><circle cx="199.1" cy="52.2" r="1.7"/><circle cx="365.5" cy="46.3" r="1.7"/><circle cx="193.1" cy="480.2" r="1.7"/><circle cx="492" cy="206" r="1.7"/><circle cx="444.3" cy="122.5" r="1.7"/><circle cx="328.5" cy="45.9" r="1.7"/><circle cx="88.8" cy="145.9" r="1.7"/><circle cx="361.4" cy="50.3" r="1.7"/><circle cx="329.4" cy="479.1" r="1.7"/><circle cx="60.1" cy="235.5" r="1.7"/><circle cx="225.1" cy="489.5" r="1.7"/><circle cx="504.9" cy="333" r="1.7"/><circle cx="106.3" cy="401.6" r="1.7"/><circle cx="351.9" cy="45.1" r="1.7"/><circle cx="475.2" cy="378.6" r="1.7"/><circle cx="172.8" cy="468.2" r="1.7"/><circle cx="419.1" cy="78.6" r="1.7"/><circle cx="438.7" cy="441.6" r="1.7"/><circle cx="177.3" cy="63.2" r="1.7"/><circle cx="443.4" cy="98.5" r="1.7"/><circle cx="503.2" cy="217.2" r="1.7"/><circle cx="111.2" cy="393" r="1.7"/><circle cx="245.5" cy="481.9" r="1.7"/><circle cx="173.3" cy="471.6" r="1.7"/><circle cx="461.3" cy="392.3" r="1.7"/><circle cx="464.6" cy="117.8" r="1.7"/><circle cx="92.4" cy="391.7" r="1.7"/><circle cx="118.5" cy="417.3" r="1.7"/><circle cx="74.7" cy="343.7" r="1.7"/><circle cx="232.6" cy="43.3" r="1.7"/><circle cx="515.1" cy="292.4" r="1.7"/><circle cx="501.1" cy="181" r="1.7"/><circle cx="94.1" cy="394.4" r="1.7"/><circle cx="318.7" cy="482.3" r="1.7"/><circle cx="101" cy="132.4" r="1.7"/><circle cx="505.2" cy="343.7" r="1.7"/><circle cx="451.3" cy="109.9" r="1.7"/><circle cx="284" cy="30" r="1.7"/><circle cx="80.5" cy="382.8" r="1.7"/><circle cx="225.8" cy="46.3" r="1.7"/><circle cx="50.4" cy="259.5" r="1.7"/><circle cx="302.4" cy="491.5" r="1.7"/><circle cx="62.1" cy="258.6" r="1.7"/><circle cx="499.1" cy="343.8" r="1.7"/><circle cx="310.2" cy="492.2" r="1.7"/><circle cx="112" cy="411.6" r="1.7"/><circle cx="377.2" cy="472.6" r="1.7"/><circle cx="448.3" cy="100.6" r="1.7"/><circle cx="463.9" cy="387.3" r="1.7"/><circle cx="69.3" cy="189.3" r="1.7"/><circle cx="124.7" cy="103.8" r="1.7"/><circle cx="457.1" cy="109.2" r="1.7"/><circle cx="356.6" cy="487.6" r="1.7"/><circle cx="451.9" cy="104" r="1.7"/><circle cx="112.5" cy="407.9" r="1.7"/><circle cx="182.5" cy="467.8" r="1.7"/><circle cx="481.7" cy="145.2" r="1.7"/><circle cx="403.6" cy="455.2" r="1.7"/><circle cx="473.9" cy="139.1" r="1.7"/><circle cx="64.9" cy="311.6" r="1.7"/><circle cx="134.1" cy="84.7" r="1.7"/><circle cx="173.6" cy="468.2" r="1.7"/><circle cx="374" cy="479.8" r="1.7"/><circle cx="256.6" cy="491.8" r="1.7"/><circle cx="483" cy="143.6" r="1.7"/><circle cx="94.2" cy="379.2" r="1.7"/><circle cx="275.2" cy="485.3" r="1.7"/><circle cx="238.2" cy="40.7" r="1.7"/><circle cx="505.6" cy="308.3" r="1.7"/><circle cx="318" cy="497.3" r="1.7"/><circle cx="457.3" cy="105.7" r="1.7"/><circle cx="362.9" cy="53.7" r="1.7"/><circle cx="494.4" cy="268.3" r="1.7"/><circle cx="97.1" cy="399.2" r="1.7"/><circle cx="444.3" cy="96.5" r="1.7"/><circle cx="422.4" cy="454.8" r="1.7"/><circle cx="115.2" cy="420" r="1.7"/><circle cx="57.4" cy="315" r="1.7"/><circle cx="167.6" cy="61.9" r="1.7"/><circle cx="122.5" cy="101" r="1.7"/><circle cx="452.3" cy="397.8" r="1.7"/><circle cx="321.6" cy="485.6" r="1.7"/><circle cx="50.6" cy="279.2" r="1.7"/><circle cx="470.3" cy="135.1" r="1.7"/><circle cx="123.4" cy="105.9" r="1.7"/><circle cx="273.1" cy="493.3" r="1.7"/><circle cx="458.1" cy="115.4" r="1.7"/><circle cx="322.2" cy="40.4" r="1.7"/><circle cx="138.5" cy="445.9" r="1.7"/><circle cx="379.7" cy="50.3" r="1.7"/><circle cx="137.8" cy="90.9" r="1.7"/><circle cx="508.4" cy="323.3" r="1.7"/><circle cx="456.6" cy="412.9" r="1.7"/><circle cx="89.2" cy="376.6" r="1.7"/><circle cx="57" cy="221.6" r="1.7"/><circle cx="153.8" cy="454.6" r="1.7"/><circle cx="157.4" cy="453.4" r="1.7"/><circle cx="491" cy="159" r="1.7"/><circle cx="170.3" cy="457.9" r="1.7"/><circle cx="83.7" cy="307.7" r="1.7"/><circle cx="133.9" cy="430.6" r="1.7"/><circle cx="189.5" cy="64.1" r="1.7"/><circle cx="255.6" cy="493.7" r="1.7"/><circle cx="477.1" cy="148.7" r="1.7"/><circle cx="82.5" cy="175.2" r="1.7"/><circle cx="165.4" cy="449" r="1.7"/><circle cx="209" cy="62.7" r="1.7"/><circle cx="387" cy="60.5" r="1.7"/><circle cx="426.9" cy="437.6" r="1.7"/><circle cx="397.3" cy="64.3" r="1.7"/><circle cx="208.5" cy="479.3" r="1.7"/><circle cx="302.4" cy="40.3" r="1.7"/><circle cx="511.4" cy="253.3" r="1.7"/><circle cx="316.8" cy="33.2" r="1.7"/><circle cx="208.3" cy="49.9" r="1.7"/><circle cx="119.3" cy="410.8" r="1.7"/><circle cx="181.2" cy="74.2" r="1.7"/><circle cx="72.9" cy="356.6" r="1.7"/><circle cx="462.5" cy="115.6" r="1.7"/><circle cx="398.5" cy="59.2" r="1.7"/><circle cx="359.2" cy="50.6" r="1.7"/><circle cx="511.8" cy="295.7" r="1.7"/><circle cx="105" cy="120.7" r="1.7"/><circle cx="143.1" cy="448.7" r="1.7"/><circle cx="97.4" cy="382.4" r="1.7"/><circle cx="451.7" cy="412.8" r="1.7"/><circle cx="69.8" cy="308" r="1.7"/><circle cx="65.6" cy="349.2" r="1.7"/><circle cx="515.4" cy="265.9" r="1.7"/><circle cx="470.1" cy="122" r="1.7"/><circle cx="59.3" cy="303.2" r="1.7"/><circle cx="75.1" cy="161.4" r="1.7"/><circle cx="134.5" cy="86" r="1.7"/><circle cx="505.7" cy="243.7" r="1.7"/><circle cx="467.1" cy="403" r="1.7"/><circle cx="227" cy="489.2" r="1.7"/><circle cx="366.7" cy="45" r="1.7"/><circle cx="246.9" cy="495.4" r="1.7"/><circle cx="351.3" cy="39.9" r="1.7"/><circle cx="500.3" cy="299.2" r="1.7"/><circle cx="135.4" cy="102.2" r="1.7"/><circle cx="104.2" cy="127.4" r="1.7"/><circle cx="68.3" cy="218.8" r="1.7"/><circle cx="147.9" cy="447.8" r="1.7"/><circle cx="370.6" cy="473" r="1.7"/><circle cx="174.2" cy="57" r="1.7"/><circle cx="512.4" cy="279.9" r="1.7"/><circle cx="98.6" cy="391" r="1.7"/><circle cx="49.1" cy="257" r="1.7"/><circle cx="190.1" cy="54.2" r="1.7"/><circle cx="510.3" cy="289.2" r="1.7"/><circle cx="217.4" cy="40.9" r="1.7"/><circle cx="57.3" cy="230" r="1.7"/><circle cx="245.9" cy="43.3" r="1.7"/><circle cx="281.2" cy="48" r="1.7"/><circle cx="437.1" cy="107.3" r="1.7"/><circle cx="118.1" cy="423.9" r="1.7"/><circle cx="215.5" cy="53.5" r="1.7"/><circle cx="504" cy="189.7" r="1.7"/><circle cx="74.1" cy="350.8" r="1.7"/><circle cx="412.6" cy="445.4" r="1.7"/><circle cx="468.5" cy="123.4" r="1.7"/><circle cx="422.6" cy="443.8" r="1.7"/><circle cx="440.1" cy="418.8" r="1.7"/><circle cx="70.3" cy="349.7" r="1.7"/><circle cx="355.4" cy="485.6" r="1.7"/><circle cx="193" cy="50.4" r="1.7"/><circle cx="430.9" cy="430.1" r="1.7"/><circle cx="479.4" cy="374.7" r="1.7"/><circle cx="235" cy="38.2" r="1.7"/><circle cx="373.5" cy="68.9" r="1.7"/><circle cx="155.4" cy="75.1" r="1.7"/><circle cx="225.6" cy="488" r="1.7"/><circle cx="493.5" cy="349.9" r="1.7"/><circle cx="128.1" cy="93.7" r="1.7"/><circle cx="61.9" cy="248.4" r="1.7"/><circle cx="129.8" cy="416.5" r="1.7"/><circle cx="430.7" cy="442" r="1.7"/><circle cx="459.7" cy="130.9" r="1.7"/><circle cx="514" cy="244.1" r="1.7"/><circle cx="53.6" cy="275.5" r="1.7"/><circle cx="51" cy="279.5" r="1.7"/></g>
<g stroke="#111" stroke-width="1"><line x1="284" y1="485.6" x2="280.7" y2="483.6"/><line x1="237" y1="482.6" x2="233.7" y2="480.3"/><line x1="88.2" y1="390.8" x2="85.9" y2="387.5"/><line x1="384.4" y1="62.4" x2="388.1" y2="68"/><line x1="67.5" y1="350.4" x2="67" y2="345.3"/><line x1="509" y1="208.3" x2="507.1" y2="213.7"/><line x1="498" y1="357.9" x2="496.3" y2="363.7"/><line x1="193.5" y1="469.8" x2="188.3" y2="469.6"/><line x1="455.5" y1="406.9" x2="453.2" y2="410.1"/><line x1="369.5" y1="56.6" x2="374.1" y2="58"/><line x1="67.8" y1="337.2" x2="68.8" y2="333.2"/><line x1="62.9" y1="208.8" x2="64.7" y2="204.8"/><line x1="394.6" y1="67" x2="399.6" y2="70.2"/><line x1="81.1" y1="164.6" x2="84" y2="161.1"/><line x1="179.7" y1="468.1" x2="173.7" y2="468.8"/><line x1="60.3" y1="229.9" x2="61.1" y2="224.2"/><line x1="236.9" y1="40.6" x2="241.6" y2="36.2"/><line x1="52.4" y1="253.3" x2="56.1" y2="248"/><line x1="76.9" y1="356.2" x2="76.4" y2="351.4"/><line x1="241.2" y1="40" x2="246.7" y2="42.4"/><line x1="66.6" y1="273.2" x2="66.8" y2="268.5"/><line x1="497.7" y1="173.1" x2="496.7" y2="178.3"/><line x1="73.5" y1="173.2" x2="76.7" y2="170.8"/><line x1="319.9" y1="35.5" x2="325.7" y2="34.7"/><line x1="320.5" y1="36.6" x2="326.3" y2="34.1"/><line x1="65.6" y1="232.4" x2="64.9" y2="228.2"/><line x1="379.4" y1="461.6" x2="377.2" y2="464.8"/><line x1="132.3" y1="94.2" x2="136.3" y2="89.7"/><line x1="87.2" y1="140.9" x2="88" y2="135.5"/><line x1="148.9" y1="85.7" x2="152.2" y2="81"/><line x1="76.9" y1="200.8" x2="81" y2="196.9"/><line x1="331.1" y1="473.3" x2="325.7" y2="473"/><line x1="298.3" y1="42.6" x2="302" y2="43.6"/><line x1="502.1" y1="216.9" x2="500.9" y2="221.5"/><line x1="169" y1="435.4" x2="165.1" y2="434.5"/><line x1="64.6" y1="279.3" x2="62.7" y2="275.8"/><line x1="105.7" y1="113.8" x2="109" y2="108.9"/><line x1="271.2" y1="496.7" x2="267.4" y2="496.6"/><line x1="140.9" y1="424.2" x2="134.9" y2="421.1"/><line x1="125.1" y1="434" x2="122.6" y2="431.5"/><line x1="381.7" y1="71.6" x2="386.1" y2="76.6"/><line x1="310.9" y1="486.6" x2="308.1" y2="488.8"/><line x1="129.6" y1="431" x2="127.6" y2="427.7"/><line x1="109.7" y1="124.5" x2="111.7" y2="121.6"/><line x1="356.3" y1="43.5" x2="360.2" y2="46.3"/><line x1="66" y1="330.7" x2="63.8" y2="327.8"/><line x1="70.9" y1="176.3" x2="71.8" y2="172.4"/><line x1="400.9" y1="457.2" x2="396.3" y2="458.2"/><line x1="410" y1="448.2" x2="407.8" y2="451.1"/><line x1="81.7" y1="185.5" x2="83.7" y2="183.1"/><line x1="391.4" y1="72.8" x2="395.7" y2="74.8"/><line x1="472.6" y1="391.2" x2="470.6" y2="397.4"/><line x1="398.9" y1="66.5" x2="400.7" y2="69.6"/><line x1="95.5" y1="364.3" x2="95.2" y2="360.1"/><line x1="55.2" y1="216.2" x2="56.2" y2="212.5"/><line x1="270.9" y1="496.6" x2="267.3" y2="495.8"/><line x1="82.8" y1="375.4" x2="78.5" y2="372.3"/><line x1="223.8" y1="470.6" x2="218.1" y2="471.7"/><line x1="288" y1="491.6" x2="281.5" y2="489.9"/><line x1="146.2" y1="450.5" x2="143.3" y2="447.9"/><line x1="208.9" y1="473" x2="204.3" y2="470.6"/><line x1="506.6" y1="327.3" x2="507.4" y2="331.9"/><line x1="95.3" y1="139.8" x2="99.6" y2="135"/><line x1="109.9" y1="124.2" x2="112.8" y2="122.3"/><line x1="101" y1="146.7" x2="105.3" y2="143.7"/><line x1="84.6" y1="352" x2="81.1" y2="348.6"/><line x1="464.6" y1="122.7" x2="468.7" y2="128.1"/><line x1="133.7" y1="421.1" x2="129.1" y2="420.2"/><line x1="306.6" y1="481.2" x2="302" y2="484.8"/><line x1="366.9" y1="479.1" x2="361.6" y2="478.9"/><line x1="315.5" y1="41.2" x2="322.2" y2="39.9"/><line x1="494.8" y1="343.2" x2="495.2" y2="348.5"/><line x1="486" y1="159.4" x2="488.4" y2="161.5"/><line x1="68.2" y1="213.4" x2="68.5" y2="208.8"/><line x1="236.2" y1="477.3" x2="231.4" y2="475"/><line x1="236.8" y1="481.3" x2="233.7" y2="478.7"/><line x1="213.6" y1="44" x2="218" y2="43.7"/><line x1="452.3" y1="418.5" x2="449.1" y2="421.3"/><line x1="504.1" y1="266.9" x2="507.3" y2="272.3"/><line x1="438.9" y1="95.7" x2="442.6" y2="96.6"/><line x1="205.4" y1="467.3" x2="203.3" y2="464.7"/><line x1="470.8" y1="138.6" x2="475.7" y2="140.9"/><line x1="470.9" y1="152.3" x2="475.4" y2="157.5"/><line x1="474.1" y1="133.4" x2="478.8" y2="137.3"/><line x1="107" y1="408.6" x2="105.1" y2="403.7"/><line x1="484.5" y1="151.1" x2="487.1" y2="155"/><line x1="446.4" y1="102.1" x2="452.2" y2="105.3"/><line x1="358.1" y1="50.4" x2="362" y2="52.1"/><line x1="392" y1="63.1" x2="395.4" y2="69"/><line x1="239.9" y1="494.8" x2="236.3" y2="491.6"/><line x1="376.8" y1="66.4" x2="380.1" y2="68.9"/><line x1="454.4" y1="400.7" x2="453.2" y2="404.6"/><line x1="193.4" y1="475.7" x2="186.9" y2="475.3"/><line x1="133.7" y1="428.1" x2="130.7" y2="427.7"/><line x1="67.2" y1="183.4" x2="66.2" y2="178.6"/><line x1="112.8" y1="106.6" x2="115.6" y2="103.9"/><line x1="369.7" y1="62.6" x2="373.9" y2="68"/><line x1="141.6" y1="421" x2="138.3" y2="417.7"/><line x1="318.3" y1="495.1" x2="313.2" y2="496.1"/><line x1="511.7" y1="251.9" x2="512.5" y2="254.8"/><line x1="464" y1="388.7" x2="460.8" y2="393.1"/><line x1="401.2" y1="77.9" x2="406.3" y2="79.8"/><line x1="92.7" y1="182.3" x2="93.9" y2="176.8"/><line x1="256.2" y1="40.6" x2="261.9" y2="41.1"/><line x1="151.6" y1="443.3" x2="148.3" y2="442.3"/><line x1="73" y1="191.5" x2="72.7" y2="187.4"/><line x1="83.9" y1="380.8" x2="84.1" y2="375.7"/><line x1="69.9" y1="196.7" x2="70.8" y2="191.6"/><line x1="55.5" y1="247.2" x2="55.1" y2="243.5"/><line x1="335.3" y1="481.8" x2="332.2" y2="484.6"/><line x1="83.2" y1="165.8" x2="83.2" y2="159.8"/><line x1="63.2" y1="334.1" x2="62.4" y2="329.4"/><line x1="450.7" y1="423.2" x2="447.7" y2="426"/><line x1="279.4" y1="45.6" x2="283.3" y2="44.9"/><line x1="434.5" y1="404.8" x2="431.6" y2="410.8"/><line x1="500.3" y1="336.6" x2="499.3" y2="341.3"/><line x1="507.7" y1="228.8" x2="508.9" y2="231.9"/><line x1="331" y1="478.1" x2="328.2" y2="481"/><line x1="461.4" y1="392.7" x2="459.2" y2="398.9"/><line x1="96.6" y1="150.8" x2="98" y2="147.8"/><line x1="114.6" y1="113.2" x2="115.6" y2="108.3"/><line x1="379.7" y1="54.1" x2="383.8" y2="53.4"/><line x1="264.1" y1="43.6" x2="268.8" y2="44.2"/><line x1="164.8" y1="458.1" x2="161.1" y2="454.9"/><line x1="92.5" y1="150.8" x2="95.8" y2="147.2"/><line x1="55.6" y1="276.2" x2="56.4" y2="270.8"/><line x1="58.7" y1="272.9" x2="61.9" y2="267.5"/><line x1="63.5" y1="187" x2="63.9" y2="183.3"/><line x1="79.1" y1="357.7" x2="75.9" y2="354"/><line x1="79.4" y1="162.8" x2="79.3" y2="157.2"/><line x1="285.8" y1="497.4" x2="281.6" y2="500"/><line x1="180.8" y1="62.1" x2="185.2" y2="59.2"/><line x1="502.6" y1="341.7" x2="500.3" y2="348"/><line x1="220.7" y1="41.6" x2="224.5" y2="40.3"/><line x1="304.5" y1="41.7" x2="307.9" y2="41.6"/><line x1="246.2" y1="485.2" x2="240.6" y2="482.7"/><line x1="117" y1="403.7" x2="113.4" y2="402.5"/><line x1="455" y1="123.8" x2="456.4" y2="126.8"/><line x1="53.9" y1="292.2" x2="49.6" y2="287.1"/><line x1="64" y1="221.4" x2="63.8" y2="218.3"/><line x1="242.3" y1="56.1" x2="248.7" y2="57.6"/><line x1="170.2" y1="72.1" x2="172.2" y2="68.4"/><line x1="330.2" y1="485.2" x2="325.3" y2="489.5"/><line x1="170.1" y1="66.5" x2="173.6" y2="63.1"/><line x1="125.5" y1="98.2" x2="128.6" y2="92.3"/><line x1="355.7" y1="46.5" x2="358.6" y2="49.9"/><line x1="150.2" y1="446.1" x2="147.6" y2="439.8"/><line x1="517.4" y1="256.5" x2="515.3" y2="260.9"/><line x1="82.3" y1="358.6" x2="82.7" y2="352.4"/><line x1="238.3" y1="475.6" x2="232.5" y2="475.4"/><line x1="363.7" y1="480.8" x2="359.2" y2="485.7"/><line x1="511.4" y1="261.5" x2="509.6" y2="266.2"/><line x1="66.1" y1="349.2" x2="64.9" y2="345.9"/><line x1="295" y1="483.5" x2="290.7" y2="484.5"/><line x1="301.8" y1="494.3" x2="296.1" y2="492.1"/><line x1="491.4" y1="170.9" x2="491.7" y2="174.7"/><line x1="358.6" y1="63.2" x2="363.5" y2="63.4"/><line x1="87" y1="141.4" x2="86.9" y2="137.5"/><line x1="63.5" y1="341.1" x2="62.3" y2="336.1"/><line x1="159.9" y1="445.7" x2="154" y2="445.1"/><line x1="312.4" y1="34.3" x2="317.5" y2="37.1"/><line x1="363.7" y1="56.3" x2="365.6" y2="58.8"/><line x1="322.8" y1="44.6" x2="325.8" y2="46.1"/><line x1="87.1" y1="146" x2="87.4" y2="140.1"/><line x1="251.2" y1="491.5" x2="246.3" y2="488.7"/><line x1="216.2" y1="480.3" x2="213.1" y2="478.2"/><line x1="307" y1="36.5" x2="313.7" y2="38.2"/><line x1="209.3" y1="56.9" x2="214.2" y2="54.9"/><line x1="205.6" y1="477.5" x2="200.9" y2="473.4"/><line x1="509.2" y1="215" x2="509.1" y2="220"/><line x1="152.7" y1="86.4" x2="158.6" y2="85.8"/><line x1="116.8" y1="414.7" x2="114.1" y2="413"/><line x1="101.3" y1="408" x2="96.7" y2="406.2"/><line x1="463.5" y1="131.6" x2="468.2" y2="135.3"/><line x1="91.9" y1="132.8" x2="93.6" y2="127.3"/><line x1="94.9" y1="153.9" x2="99.4" y2="151.6"/><line x1="127.5" y1="109.4" x2="130.6" y2="104.8"/><line x1="408.7" y1="442.3" x2="405" y2="447.8"/><line x1="331.6" y1="476.2" x2="327.8" y2="477.2"/><line x1="358.1" y1="47.4" x2="362.2" y2="49.3"/><line x1="340.2" y1="486.8" x2="336" y2="486.9"/><line x1="465.7" y1="405" x2="463.3" y2="409.2"/><line x1="100" y1="393" x2="99.7" y2="387.1"/><line x1="58.5" y1="324.7" x2="57.1" y2="321.1"/><line x1="139.4" y1="89.3" x2="141.4" y2="84.8"/><line x1="388.2" y1="464.1" x2="384.2" y2="465.6"/><line x1="98.1" y1="392.1" x2="95.9" y2="389.7"/><line x1="336.1" y1="477.6" x2="329.9" y2="478.2"/><line x1="469.7" y1="153.9" x2="473" y2="157.9"/><line x1="184.4" y1="76.6" x2="187.8" y2="73.8"/><line x1="70" y1="354.5" x2="68.9" y2="351.2"/><line x1="65.1" y1="305.9" x2="63.6" y2="302.6"/><line x1="68.3" y1="229.6" x2="69.2" y2="224"/><line x1="79.9" y1="374.5" x2="80.2" y2="370.7"/><line x1="209.5" y1="56.9" x2="213.6" y2="54.7"/><line x1="155.5" y1="459.7" x2="149.5" y2="458.1"/><line x1="73.8" y1="174.8" x2="75.1" y2="171.5"/><line x1="260.4" y1="38.3" x2="267.4" y2="37.9"/><line x1="268" y1="480.2" x2="262.2" y2="482.6"/><line x1="456.9" y1="404.9" x2="454" y2="407.2"/><line x1="482.7" y1="386.9" x2="478.4" y2="389.6"/><line x1="64.3" y1="335.6" x2="65.8" y2="329.7"/><line x1="109.8" y1="417.6" x2="106.9" y2="414.6"/><line x1="315.4" y1="481.3" x2="311.6" y2="482.8"/><line x1="120" y1="421" x2="116" y2="416.2"/><line x1="190.3" y1="71.4" x2="194.7" y2="66.2"/><line x1="180.2" y1="455.1" x2="176.7" y2="450.8"/><line x1="505.7" y1="309.1" x2="505.4" y2="314.9"/><line x1="337.2" y1="61.2" x2="342.7" y2="65.4"/><line x1="158.6" y1="454.6" x2="157.1" y2="451.9"/><line x1="51.3" y1="265.6" x2="51.1" y2="262.3"/><line x1="133.6" y1="91.1" x2="137.2" y2="89.7"/><line x1="54.3" y1="223.4" x2="52.6" y2="219.5"/><line x1="487.4" y1="189.9" x2="489.9" y2="193.3"/><line x1="362" y1="65.6" x2="367.5" y2="66.9"/><line x1="508.3" y1="304.4" x2="509.8" y2="308.6"/><line x1="506" y1="326.3" x2="503.6" y2="329.2"/><line x1="500.5" y1="342.5" x2="501" y2="345.7"/><line x1="155.9" y1="72.7" x2="159.2" y2="68.9"/><line x1="174.4" y1="457.1" x2="171.6" y2="455.2"/><line x1="490.8" y1="155.9" x2="494.7" y2="159.4"/><line x1="372" y1="481.6" x2="368.4" y2="483.4"/><line x1="408.8" y1="80.2" x2="410.7" y2="84.6"/><line x1="74" y1="197.5" x2="74.6" y2="193.4"/><line x1="478.6" y1="336" x2="476" y2="339.4"/><line x1="93.8" y1="131" x2="95.7" y2="125.5"/><line x1="70.5" y1="337.4" x2="67.8" y2="335.3"/><line x1="479.6" y1="137" x2="483.7" y2="139.1"/><line x1="495.2" y1="167.4" x2="500.1" y2="172.2"/><line x1="72.2" y1="358.7" x2="70.5" y2="353.6"/><line x1="283.2" y1="41.1" x2="288.8" y2="43.1"/><line x1="187.6" y1="58.7" x2="190.5" y2="55.1"/><line x1="307" y1="35" x2="311.9" y2="33.1"/><line x1="259" y1="497.5" x2="252.5" y2="499.5"/><line x1="109.7" y1="127.2" x2="114.1" y2="122.4"/><line x1="489.5" y1="351.3" x2="488.5" y2="355"/><line x1="482.4" y1="157.2" x2="485.3" y2="160"/><line x1="482.2" y1="151.6" x2="483.3" y2="156.2"/><line x1="416.4" y1="444" x2="412.7" y2="445.4"/><line x1="360.9" y1="56.3" x2="367.5" y2="55.3"/><line x1="408.8" y1="461.2" x2="402.6" y2="461.7"/><line x1="223.5" y1="489.3" x2="219.2" y2="486.2"/><line x1="83" y1="384.2" x2="77.7" y2="380.5"/><line x1="239.6" y1="50.8" x2="243.7" y2="48.5"/><line x1="273.1" y1="494.8" x2="266.3" y2="494.3"/><line x1="470.3" y1="391.6" x2="468.8" y2="396.3"/><line x1="486.5" y1="275.7" x2="485.7" y2="279.1"/><line x1="345.7" y1="487.6" x2="341.9" y2="490.9"/><line x1="144.3" y1="419.1" x2="142.2" y2="413.7"/><line x1="492" y1="369.8" x2="488.7" y2="372.2"/><line x1="469" y1="130.5" x2="471.9" y2="134.6"/><line x1="379.5" y1="477.9" x2="374" y2="480.4"/><line x1="81.1" y1="220.4" x2="83.4" y2="217.7"/><line x1="265.3" y1="41.5" x2="271.9" y2="41.7"/><line x1="371.8" y1="54.3" x2="376.2" y2="54.7"/><line x1="411.9" y1="80.5" x2="415.4" y2="84"/><line x1="97.2" y1="375.5" x2="93.7" y2="372.5"/><line x1="435" y1="441.6" x2="429.1" y2="443.4"/><line x1="400.2" y1="451.1" x2="394.6" y2="455.3"/><line x1="514.8" y1="266.4" x2="515.5" y2="269.9"/><line x1="115.2" y1="108.5" x2="116.7" y2="102.2"/><line x1="78.5" y1="361.4" x2="76" y2="359.1"/><line x1="59.2" y1="263.6" x2="57.2" y2="259.7"/><line x1="51.6" y1="257" x2="49.3" y2="252.5"/><line x1="440.1" y1="429.5" x2="437.3" y2="431.4"/><line x1="423.8" y1="438.4" x2="422.3" y2="443.3"/><line x1="451.5" y1="423.3" x2="448.1" y2="424.5"/><line x1="180.3" y1="63.4" x2="185.1" y2="62.8"/><line x1="378.5" y1="59.5" x2="381.1" y2="61.5"/><line x1="218.3" y1="45.1" x2="222" y2="41.8"/><line x1="155.3" y1="75.2" x2="159.4" y2="73.8"/><line x1="494.4" y1="340.3" x2="492.6" y2="346.7"/><line x1="305.7" y1="45.2" x2="312.3" y2="47"/><line x1="504.3" y1="200.5" x2="504.3" y2="206.7"/><line x1="228.3" y1="42.8" x2="234.7" y2="41.8"/><line x1="318.3" y1="39.7" x2="322" y2="39.5"/><line x1="52.8" y1="272.4" x2="51.4" y2="268"/><line x1="153.6" y1="75.6" x2="158.6" y2="73.2"/><line x1="224" y1="59.3" x2="229.3" y2="60.4"/><line x1="147.1" y1="85" x2="152.9" y2="83.9"/><line x1="513.5" y1="299.8" x2="510.9" y2="305.7"/><line x1="108.6" y1="416.7" x2="104.5" y2="414.4"/><line x1="437.4" y1="429.4" x2="435.7" y2="432.9"/><line x1="277.7" y1="45.2" x2="283.9" y2="43.1"/><line x1="87.1" y1="380.8" x2="81.7" y2="377.1"/><line x1="512.1" y1="298.4" x2="511.9" y2="302.9"/><line x1="510.6" y1="249.5" x2="508.9" y2="253.8"/><line x1="446.3" y1="98.8" x2="448.3" y2="104.9"/><line x1="52.5" y1="248.2" x2="54.3" y2="243.1"/><line x1="502.1" y1="227.8" x2="505.5" y2="233.4"/><line x1="419.1" y1="74.4" x2="423.4" y2="76"/><line x1="86.3" y1="161.5" x2="89.7" y2="159.5"/><line x1="481.7" y1="156.4" x2="485.5" y2="160.5"/><line x1="453.7" y1="121.9" x2="455.1" y2="127.5"/><line x1="69.8" y1="191.6" x2="69.6" y2="186.5"/><line x1="503.7" y1="232.9" x2="502.5" y2="235.8"/><line x1="410.7" y1="71.2" x2="416.6" y2="72.4"/><line x1="359.3" y1="479.2" x2="353.3" y2="482.7"/><line x1="249.1" y1="487" x2="246.2" y2="485.5"/><line x1="184.6" y1="63.5" x2="189.6" y2="58.9"/><line x1="507.2" y1="305.8" x2="503.6" y2="310"/><line x1="473.6" y1="151.6" x2="474.4" y2="154.8"/><line x1="355.2" y1="487.5" x2="349.6" y2="486.6"/><line x1="153.2" y1="447.1" x2="147.6" y2="446.5"/><line x1="500.7" y1="333" x2="501.2" y2="338.9"/><line x1="258.6" y1="494.9" x2="255.5" y2="492.3"/><line x1="142" y1="85.3" x2="145.1" y2="83.5"/><line x1="387.6" y1="72.7" x2="390.4" y2="77"/><line x1="275.3" y1="497.2" x2="271.8" y2="494.8"/><line x1="240.3" y1="490.9" x2="237.2" y2="490.2"/><line x1="202.8" y1="479.9" x2="196.3" y2="481.2"/><line x1="363.4" y1="62.9" x2="366.4" y2="65.3"/><line x1="499.9" y1="308.7" x2="495.8" y2="312.8"/><line x1="376.6" y1="475.5" x2="371.2" y2="475.2"/><line x1="336.9" y1="491.4" x2="333.8" y2="491"/><line x1="364.3" y1="482.9" x2="360.9" y2="486.9"/><line x1="71.5" y1="331.6" x2="71.8" y2="324.9"/><line x1="501.2" y1="226" x2="503.5" y2="229.8"/><line x1="498.2" y1="177.2" x2="501.3" y2="181.8"/><line x1="275.5" y1="490.2" x2="271.5" y2="488.9"/><line x1="387.7" y1="71.1" x2="391.4" y2="71.4"/><line x1="337.5" y1="485.1" x2="331.8" y2="484.6"/><line x1="307.4" y1="494.1" x2="304.4" y2="494.4"/><line x1="154.5" y1="438.1" x2="151.6" y2="435.3"/><line x1="67.1" y1="347.7" x2="66.6" y2="343.8"/><line x1="166.6" y1="70.3" x2="169.1" y2="68.3"/><line x1="381.9" y1="65.2" x2="387" y2="69.2"/><line x1="170.2" y1="70.8" x2="176.5" y2="69.6"/><line x1="402.2" y1="455.1" x2="400" y2="457.6"/><line x1="457.9" y1="410.9" x2="455.7" y2="414.5"/><line x1="258.4" y1="480.1" x2="253.1" y2="476.6"/><line x1="364.7" y1="476.9" x2="361" y2="477.9"/><line x1="348.5" y1="483.2" x2="346.6" y2="485.6"/><line x1="365.4" y1="48.6" x2="369.9" y2="53.2"/><line x1="429" y1="83.9" x2="432.8" y2="86"/><line x1="213" y1="43.1" x2="217.1" y2="41.9"/><line x1="229.5" y1="40.4" x2="232.6" y2="41.2"/><line x1="322.4" y1="491.8" x2="318.4" y2="492.3"/><line x1="264.7" y1="486.4" x2="260.3" y2="488.1"/><line x1="371.3" y1="48.8" x2="376.4" y2="48.5"/><line x1="153" y1="453" x2="150.3" y2="447.5"/><line x1="505.9" y1="260.7" x2="507.2" y2="265.5"/><line x1="126.5" y1="117.5" x2="130.2" y2="114.1"/><line x1="460.5" y1="120.5" x2="463.2" y2="122.8"/><line x1="474.2" y1="395.5" x2="469.4" y2="397.5"/><line x1="351.3" y1="47.9" x2="356.3" y2="49.1"/><line x1="81.5" y1="375.6" x2="78.1" y2="370.8"/><line x1="428.5" y1="108.2" x2="429.6" y2="113"/><line x1="90.3" y1="363.8" x2="86.7" y2="360.5"/><line x1="206.4" y1="476.6" x2="200.3" y2="476.3"/><line x1="210.4" y1="478.5" x2="204.3" y2="479.3"/><line x1="318.6" y1="45.1" x2="323.6" y2="47.2"/><line x1="398" y1="66.8" x2="401.5" y2="70.9"/><line x1="132.1" y1="101" x2="133.5" y2="98.1"/><line x1="278.8" y1="497.9" x2="273.1" y2="498.4"/><line x1="207.8" y1="45.4" x2="214.5" y2="46.1"/><line x1="451.6" y1="426.8" x2="449.8" y2="429.7"/><line x1="503.8" y1="210.3" x2="504.6" y2="215.2"/><line x1="290.8" y1="478.3" x2="287.2" y2="477.2"/><line x1="254.8" y1="489.3" x2="249.9" y2="490.9"/><line x1="233.6" y1="39.3" x2="236.6" y2="37.5"/><line x1="63.7" y1="243.7" x2="63.6" y2="238.9"/><line x1="448.9" y1="425.2" x2="444.2" y2="428"/><line x1="196.5" y1="52.8" x2="201.4" y2="51.6"/><line x1="62.1" y1="218.7" x2="62.7" y2="214.7"/><line x1="131.5" y1="413.8" x2="130.6" y2="409.3"/><line x1="95.4" y1="129.5" x2="96.7" y2="125.8"/><line x1="208.2" y1="481.2" x2="202.8" y2="480.1"/><line x1="406.2" y1="444.8" x2="401.5" y2="445.6"/><line x1="342.9" y1="49.8" x2="346.9" y2="50.4"/><line x1="245.4" y1="45.6" x2="251.2" y2="44.7"/><line x1="500.9" y1="204.3" x2="500.8" y2="211.1"/><line x1="454.2" y1="111.7" x2="456.4" y2="117.9"/><line x1="75.2" y1="354.6" x2="71.9" y2="348.6"/><line x1="393.4" y1="469.8" x2="389.9" y2="472.9"/><line x1="114.7" y1="418" x2="112.5" y2="415.8"/><line x1="498.5" y1="340.9" x2="496.4" y2="347.2"/><line x1="156" y1="81.1" x2="162.5" y2="80.6"/><line x1="499.9" y1="349.8" x2="497" y2="355.5"/><line x1="169.2" y1="468.8" x2="163.1" y2="468.4"/><line x1="439.1" y1="425.4" x2="435" y2="428.8"/><line x1="227.2" y1="40.8" x2="230.5" y2="41.6"/><line x1="85.9" y1="381.2" x2="81.8" y2="376.5"/><line x1="73" y1="346.9" x2="69.2" y2="343.8"/><line x1="505.1" y1="338.2" x2="504.3" y2="342.9"/><line x1="516.6" y1="266" x2="519.3" y2="272"/><line x1="84.2" y1="210.5" x2="88.4" y2="206.5"/><line x1="112" y1="412.3" x2="108.6" y2="411.1"/><line x1="216.6" y1="485" x2="211" y2="485.6"/><line x1="482.8" y1="171.2" x2="487.5" y2="176.3"/><line x1="377.7" y1="472.1" x2="371.1" y2="473.3"/><line x1="351.3" y1="487.6" x2="348.4" y2="489.6"/><line x1="82.3" y1="380" x2="78.2" y2="376.2"/><line x1="298.5" y1="491.6" x2="294.1" y2="493.2"/><line x1="479.9" y1="390.1" x2="480" y2="395.8"/><line x1="504.2" y1="335.3" x2="502.4" y2="341.6"/><line x1="98.1" y1="396.3" x2="95.4" y2="393"/><line x1="499.5" y1="340.6" x2="499.7" y2="344.2"/><line x1="469.1" y1="404.3" x2="466.4" y2="407"/><line x1="59.1" y1="250.3" x2="60.6" y2="245.5"/><line x1="63.5" y1="340.3" x2="61.5" y2="337.8"/><line x1="207.9" y1="62.2" x2="211.5" y2="60.1"/><line x1="461.6" y1="121.1" x2="465.8" y2="126"/><line x1="413" y1="73.6" x2="416.7" y2="74.7"/><line x1="97.8" y1="132.6" x2="102.3" y2="130.6"/><line x1="80" y1="369.4" x2="80.5" y2="363"/><line x1="319.7" y1="482" x2="317.4" y2="484"/><line x1="485.1" y1="159.5" x2="487.8" y2="165.4"/><line x1="506.9" y1="222.7" x2="508.6" y2="226.1"/><line x1="251.9" y1="494.8" x2="246.9" y2="490.3"/><line x1="385.5" y1="61.8" x2="389.9" y2="66.7"/><line x1="138.2" y1="436.1" x2="133.5" y2="434.2"/><line x1="437.5" y1="105.5" x2="442.2" y2="107.5"/><line x1="482.2" y1="151.4" x2="484.8" y2="157"/><line x1="198.4" y1="51.3" x2="203.1" y2="50.6"/><line x1="61.9" y1="236.7" x2="65" y2="231"/><line x1="183.5" y1="64.3" x2="189.4" y2="61.8"/><line x1="298" y1="497.8" x2="294" y2="498.2"/><line x1="512.7" y1="274.2" x2="514.1" y2="277.4"/><line x1="99.9" y1="146.1" x2="103.3" y2="143.4"/><line x1="116.7" y1="118.6" x2="119.1" y2="115.3"/><line x1="153.8" y1="451.8" x2="147.9" y2="450"/><line x1="72.1" y1="197.5" x2="72.1" y2="193.3"/><line x1="177" y1="69" x2="183.6" y2="68.6"/><line x1="470.5" y1="399" x2="469.3" y2="403.4"/><line x1="238.7" y1="41.9" x2="243.8" y2="43.5"/><line x1="425.3" y1="444" x2="422.2" y2="448.2"/><line x1="57.7" y1="262.6" x2="56.2" y2="258.8"/><line x1="105" y1="132.4" x2="106.7" y2="128.5"/><line x1="300.3" y1="40.2" x2="305.2" y2="37.4"/><line x1="494.3" y1="330.6" x2="495.9" y2="336.5"/><line x1="375.1" y1="476.3" x2="370.2" y2="479"/><line x1="188.9" y1="55.3" x2="193.8" y2="55.6"/><line x1="103.8" y1="402.4" x2="101.1" y2="396.5"/><line x1="328.4" y1="44.3" x2="331.3" y2="47"/><line x1="185" y1="76.6" x2="187.3" y2="74"/><line x1="223" y1="477.3" x2="216.3" y2="476.9"/><line x1="496.4" y1="240.7" x2="495.5" y2="245.1"/><line x1="515.9" y1="279.7" x2="517.8" y2="283.6"/><line x1="296.7" y1="495.4" x2="292.3" y2="493.6"/><line x1="126.2" y1="428.4" x2="123.5" y2="426.6"/><line x1="68.4" y1="328.1" x2="70.1" y2="321.5"/><line x1="69.1" y1="346.7" x2="69.3" y2="343.1"/><line x1="496.9" y1="357.6" x2="496.7" y2="360.9"/><line x1="516.4" y1="248.1" x2="519.7" y2="252.8"/><line x1="342.9" y1="54.9" x2="346.2" y2="54.5"/><line x1="480.4" y1="356" x2="480.1" y2="361.7"/><line x1="394.5" y1="468.7" x2="391.5" y2="470.7"/><line x1="67.6" y1="205.8" x2="69.5" y2="203.4"/><line x1="144.7" y1="445.2" x2="139.5" y2="444.4"/><line x1="509.2" y1="221" x2="509.3" y2="226.7"/><line x1="105.8" y1="125.5" x2="107.5" y2="120.1"/><line x1="405.8" y1="70.2" x2="409.4" y2="71.6"/><line x1="153.1" y1="72" x2="156.7" y2="71.4"/><line x1="348.8" y1="485.9" x2="342.1" y2="487.8"/><line x1="504" y1="300.8" x2="503.7" y2="304.6"/><line x1="499" y1="191.3" x2="500.9" y2="196.2"/><line x1="214.3" y1="53.7" x2="221.1" y2="54.5"/><line x1="483.9" y1="149.4" x2="486.4" y2="155.5"/><line x1="422.1" y1="447.1" x2="418.8" y2="448.2"/><line x1="134.9" y1="440.8" x2="130.2" y2="437.6"/><line x1="496.9" y1="177.2" x2="499.3" y2="181.9"/><line x1="262.8" y1="489.7" x2="259.3" y2="491.6"/><line x1="245.2" y1="39.5" x2="250.9" y2="40.6"/><line x1="367.8" y1="473.2" x2="362.4" y2="477.6"/><line x1="87.7" y1="144.6" x2="89.9" y2="139.9"/><line x1="87.7" y1="376.4" x2="84" y2="370.9"/><line x1="464.9" y1="117.2" x2="468.8" y2="120.1"/><line x1="434.6" y1="438.4" x2="432.4" y2="440.4"/><line x1="80.7" y1="316.1" x2="79.8" y2="313.2"/><line x1="59.9" y1="302.1" x2="58.6" y2="299.1"/><line x1="183.2" y1="465.5" x2="179.9" y2="464.5"/><line x1="60.2" y1="219.8" x2="61.6" y2="217"/><line x1="54.1" y1="268.2" x2="55.1" y2="261.7"/><line x1="165.6" y1="71.3" x2="169.5" y2="66.5"/><line x1="291.9" y1="48.9" x2="298.6" y2="49"/><line x1="150.8" y1="431.5" x2="146.2" y2="427.4"/><line x1="397.1" y1="462.3" x2="394.4" y2="463.8"/><line x1="323.9" y1="470.8" x2="320.5" y2="471.8"/><line x1="491.9" y1="170.5" x2="494.5" y2="176.4"/><line x1="288.4" y1="497.4" x2="282.6" y2="496.9"/><line x1="84.3" y1="165.8" x2="86.6" y2="162.2"/><line x1="400.2" y1="465.9" x2="393.7" y2="468.1"/><line x1="418.2" y1="74" x2="424.6" y2="76"/><line x1="150.8" y1="88" x2="156.6" y2="84.9"/><line x1="469.4" y1="128" x2="474.3" y2="132.3"/><line x1="408.6" y1="455.8" x2="404.8" y2="457.5"/><line x1="504" y1="257.5" x2="503.2" y2="261.9"/><line x1="279.5" y1="35.9" x2="282.5" y2="36.3"/><line x1="58.5" y1="323.1" x2="54" y2="317.8"/><line x1="69.7" y1="205.4" x2="68.5" y2="198.7"/><line x1="82.3" y1="163.9" x2="84.6" y2="160.6"/><line x1="507.5" y1="314.5" x2="508.2" y2="319.4"/><line x1="108.9" y1="408.9" x2="107.6" y2="405.6"/><line x1="195.2" y1="52.1" x2="198.4" y2="49.8"/><line x1="441" y1="422.3" x2="438.4" y2="426"/><line x1="159.1" y1="460.3" x2="156.6" y2="457.4"/><line x1="504.3" y1="319.5" x2="499.5" y2="324.1"/><line x1="60.5" y1="322.4" x2="57.1" y2="317.3"/><line x1="454.1" y1="115.4" x2="456.1" y2="119.5"/><line x1="373.4" y1="467.6" x2="369.8" y2="468.3"/><line x1="497.4" y1="246.4" x2="496.1" y2="250.9"/><line x1="499.1" y1="355.8" x2="497.8" y2="358.9"/><line x1="66.6" y1="325.5" x2="67.4" y2="320.2"/><line x1="66.1" y1="181.7" x2="68.5" y2="175.5"/><line x1="391.6" y1="465" x2="387.4" y2="467.5"/><line x1="113.4" y1="418.4" x2="111.1" y2="415.5"/><line x1="185.6" y1="472.3" x2="179.5" y2="469.2"/><line x1="503.6" y1="313.2" x2="502.6" y2="317.5"/><line x1="458" y1="419.9" x2="454.5" y2="424.1"/><line x1="132.4" y1="99.7" x2="133.4" y2="96.6"/><line x1="65.9" y1="229.7" x2="67.4" y2="224.7"/><line x1="237.1" y1="37" x2="242" y2="35.3"/><line x1="314.4" y1="487.8" x2="309.5" y2="487.7"/><line x1="355.1" y1="59.7" x2="359.2" y2="65.1"/><line x1="214.9" y1="41.7" x2="218.8" y2="40.4"/><line x1="181.8" y1="472.2" x2="176.4" y2="472.2"/><line x1="229" y1="47.8" x2="232.6" y2="48.1"/><line x1="441.9" y1="432.3" x2="435.5" y2="434.2"/><line x1="134.1" y1="103.5" x2="136.8" y2="99"/><line x1="146.4" y1="76.9" x2="152.2" y2="73.6"/><line x1="320.7" y1="43.2" x2="325.6" y2="45"/><line x1="200.6" y1="57.6" x2="203.4" y2="55.7"/><line x1="73.4" y1="184.9" x2="73.6" y2="178.1"/><line x1="168.8" y1="464.3" x2="163.6" y2="463.5"/><line x1="190.5" y1="456.5" x2="187.8" y2="451.7"/><line x1="457.3" y1="411.7" x2="454" y2="415.6"/><line x1="191.9" y1="474.6" x2="188" y2="471.8"/><line x1="271.6" y1="492.3" x2="268.8" y2="490.9"/><line x1="304.4" y1="484.4" x2="299" y2="488.6"/><line x1="498.9" y1="251.6" x2="502.3" y2="257.2"/><line x1="511.8" y1="294.8" x2="509.6" y2="300.6"/><line x1="306.9" y1="47.9" x2="311" y2="48.4"/><line x1="402.8" y1="450.3" x2="400.3" y2="454.8"/><line x1="60.5" y1="221.7" x2="59.2" y2="217.7"/><line x1="170.6" y1="61.4" x2="173.7" y2="57.4"/><line x1="336.9" y1="478.8" x2="330.5" y2="476.9"/><line x1="497.3" y1="217" x2="499.9" y2="222"/><line x1="209.5" y1="68.9" x2="211.7" y2="66.1"/><line x1="459.4" y1="402.1" x2="456.3" y2="408"/><line x1="368.7" y1="49.2" x2="373.8" y2="48.1"/><line x1="111" y1="409.4" x2="104.7" y2="407"/><line x1="146.4" y1="98.6" x2="149.4" y2="96.8"/><line x1="79.9" y1="295.8" x2="81.6" y2="290.8"/><line x1="141.5" y1="441.5" x2="137.6" y2="441.1"/><line x1="372" y1="472.7" x2="369.9" y2="475.2"/><line x1="208.9" y1="44.6" x2="212.7" y2="44.9"/><line x1="401.8" y1="101.9" x2="407.5" y2="104.9"/><line x1="53.9" y1="226.1" x2="53.2" y2="222.1"/><line x1="251.1" y1="41.8" x2="257.9" y2="43.2"/><line x1="59.6" y1="309.2" x2="59.1" y2="303.8"/><line x1="480.5" y1="152.8" x2="483.4" y2="159"/><line x1="503.6" y1="305.3" x2="503.7" y2="310.3"/><line x1="515.9" y1="281.9" x2="515.9" y2="285.4"/><line x1="483.8" y1="147.6" x2="488.3" y2="150.5"/><line x1="71.4" y1="283.2" x2="69" y2="279.8"/><line x1="81.4" y1="170.1" x2="81" y2="164.7"/><line x1="106.8" y1="115.7" x2="108.5" y2="110.7"/><line x1="124.5" y1="121.3" x2="128.6" y2="116.9"/><line x1="67.9" y1="329.5" x2="67.7" y2="325"/><line x1="95.9" y1="153.5" x2="98.7" y2="149.9"/><line x1="149.6" y1="449.8" x2="146.3" y2="446.3"/><line x1="227.2" y1="482.6" x2="221.2" y2="480"/><line x1="362.2" y1="481.8" x2="357.1" y2="482.6"/><line x1="102.4" y1="396.8" x2="98.2" y2="395.3"/><line x1="63.2" y1="235.5" x2="65.1" y2="229"/><line x1="150.6" y1="447.4" x2="148.6" y2="444.5"/><line x1="450.6" y1="118.5" x2="453.8" y2="122.1"/><line x1="513.5" y1="258.8" x2="515" y2="261.7"/><line x1="100" y1="140.3" x2="101" y2="136.5"/><line x1="224.8" y1="478.7" x2="220.9" y2="478.3"/><line x1="280.9" y1="498.8" x2="274.6" y2="501.7"/><line x1="464.7" y1="412.3" x2="458.4" y2="414.3"/><line x1="469.8" y1="391.2" x2="465.3" y2="393.8"/><line x1="78.8" y1="353" x2="74.4" y2="350.1"/><line x1="300.5" y1="497.4" x2="296.9" y2="495.9"/><line x1="363.2" y1="51.9" x2="368.7" y2="55.8"/><line x1="80.9" y1="161.4" x2="82.2" y2="157.5"/><line x1="213.1" y1="487.5" x2="206.9" y2="487"/><line x1="513.1" y1="274.9" x2="512.9" y2="279.9"/><line x1="343.8" y1="482.6" x2="340.1" y2="482.5"/><line x1="443.8" y1="112.1" x2="446.6" y2="114"/><line x1="439.3" y1="434.7" x2="435.4" y2="440.4"/><line x1="122.7" y1="426.9" x2="118" y2="423.3"/><line x1="441.6" y1="97.2" x2="444.7" y2="99.1"/><line x1="378" y1="477.2" x2="371.1" y2="478.1"/><line x1="69" y1="317.7" x2="66.7" y2="314.2"/><line x1="164.6" y1="455.3" x2="158.7" y2="453.7"/><line x1="262.4" y1="40.4" x2="267.8" y2="36.2"/><line x1="112.4" y1="113.9" x2="115.4" y2="111.5"/><line x1="509.7" y1="229.6" x2="513.9" y2="234.2"/><line x1="350.6" y1="470" x2="347" y2="474"/><line x1="405.7" y1="83.9" x2="409.1" y2="85.1"/><line x1="61.5" y1="246.8" x2="62.7" y2="243.8"/><line x1="116.5" y1="426.3" x2="113.4" y2="425"/><line x1="60.4" y1="215.3" x2="60.2" y2="208.7"/><line x1="63.8" y1="248.8" x2="64.9" y2="244.6"/><line x1="63.4" y1="308.5" x2="62.7" y2="303.9"/><line x1="499.1" y1="250.1" x2="497.7" y2="256.4"/><line x1="206.8" y1="478.8" x2="202.9" y2="479.4"/><line x1="262.2" y1="49.1" x2="267.8" y2="51.5"/><line x1="213.5" y1="488.1" x2="208.7" y2="489.2"/><line x1="470" y1="139.7" x2="473.2" y2="144.9"/><line x1="252.7" y1="51" x2="257.4" y2="50.4"/><line x1="88.5" y1="171.1" x2="91.6" y2="169.3"/><line x1="311.7" y1="37.9" x2="316" y2="38.7"/><line x1="436.8" y1="100.2" x2="443" y2="102.5"/><line x1="507.8" y1="246.5" x2="510.1" y2="251.2"/><line x1="448.5" y1="418.5" x2="445.4" y2="424.5"/><line x1="409" y1="68.2" x2="411.2" y2="72.6"/><line x1="77.5" y1="367.3" x2="75.1" y2="360.8"/><line x1="499.1" y1="357" x2="497.3" y2="359.7"/><line x1="205.5" y1="51.6" x2="209.2" y2="50.9"/><line x1="57.9" y1="320.3" x2="56.6" y2="316.8"/><line x1="223.1" y1="42" x2="228.1" y2="43.6"/><line x1="96.9" y1="401.8" x2="94.8" y2="398.9"/><line x1="469" y1="406.5" x2="467.4" y2="409.5"/><line x1="217.6" y1="56.6" x2="221.7" y2="51.6"/><line x1="361.3" y1="467.3" x2="355.7" y2="469.2"/><line x1="494" y1="180.1" x2="493.7" y2="183.7"/><line x1="398.8" y1="466.3" x2="393.1" y2="469.9"/><line x1="506" y1="292.1" x2="504.2" y2="296.9"/><line x1="285.3" y1="490.6" x2="282.1" y2="489.2"/><line x1="198.9" y1="55.2" x2="201.5" y2="53.3"/><line x1="407.7" y1="452.2" x2="404.1" y2="452.5"/><line x1="479.3" y1="170.4" x2="484" y2="173.5"/><line x1="480.9" y1="165" x2="485.9" y2="169.8"/><line x1="74.7" y1="166.9" x2="77.6" y2="164.1"/><line x1="69.5" y1="304.2" x2="66.3" y2="298.5"/><line x1="66.8" y1="178.7" x2="72.2" y2="175"/><line x1="399.4" y1="468.4" x2="393.6" y2="469.1"/><line x1="462.2" y1="390.5" x2="461.9" y2="393.9"/><line x1="309.2" y1="35.7" x2="313.4" y2="37.2"/><line x1="485.1" y1="182.6" x2="487.9" y2="185.3"/><line x1="264" y1="39.1" x2="269.7" y2="41"/><line x1="181" y1="472" x2="177.4" y2="469.7"/><line x1="411.6" y1="447" x2="405.5" y2="448.2"/><line x1="323.8" y1="38.2" x2="327.5" y2="37"/><line x1="111" y1="107.5" x2="115.5" y2="106.1"/><line x1="315.4" y1="478.6" x2="311.2" y2="479.3"/><line x1="185.5" y1="463.1" x2="181.5" y2="459.6"/><line x1="504.1" y1="295.2" x2="503.1" y2="301.6"/><line x1="141.3" y1="94.5" x2="144.5" y2="94.2"/><line x1="89.3" y1="363.8" x2="84.8" y2="359.8"/><line x1="155.3" y1="74.5" x2="157.4" y2="69.4"/><line x1="179.2" y1="458.2" x2="173.7" y2="457.1"/><line x1="228.4" y1="42.5" x2="230.7" y2="40.3"/><line x1="458.1" y1="116.4" x2="459.4" y2="123.1"/><line x1="86.5" y1="173.8" x2="88.8" y2="169.2"/><line x1="502.9" y1="183.8" x2="501.9" y2="188.5"/><line x1="80" y1="371.9" x2="79.3" y2="365.2"/><line x1="122" y1="113" x2="123.2" y2="108.1"/><line x1="378.3" y1="60.2" x2="382.2" y2="63.1"/><line x1="407" y1="453.5" x2="400.5" y2="453.9"/><line x1="181.2" y1="58.4" x2="185.1" y2="55.9"/><line x1="115.3" y1="426.8" x2="112.2" y2="425"/><line x1="78.1" y1="360.4" x2="77.5" y2="355.4"/><line x1="401.9" y1="455.7" x2="398.4" y2="459.5"/><line x1="278.3" y1="38.2" x2="284.2" y2="37"/><line x1="91.7" y1="154.6" x2="92.5" y2="151.2"/><line x1="493.9" y1="197.9" x2="493.5" y2="204.2"/><line x1="98" y1="147.1" x2="99.1" y2="143.1"/><line x1="56.3" y1="287.8" x2="56.2" y2="284.7"/><line x1="458.4" y1="411.7" x2="456.4" y2="417.5"/><line x1="406" y1="463.6" x2="402.3" y2="463.5"/><line x1="354.9" y1="46.4" x2="360.8" y2="49"/><line x1="312.3" y1="33.1" x2="315.3" y2="34.3"/><line x1="498.5" y1="183.5" x2="501.3" y2="187.5"/><line x1="83.7" y1="170.6" x2="83.2" y2="164.2"/><line x1="54.4" y1="231.2" x2="52.8" y2="226.4"/><line x1="239.8" y1="39.2" x2="243.4" y2="39.7"/><line x1="231.5" y1="482.9" x2="227.6" y2="478.9"/><line x1="286.8" y1="493.6" x2="282" y2="496.4"/><line x1="452.7" y1="408.3" x2="451.2" y2="413.8"/><line x1="282.7" y1="34.7" x2="285.6" y2="33.3"/><line x1="515.9" y1="289.4" x2="518.6" y2="294.7"/><line x1="420.4" y1="453.5" x2="418.6" y2="457.7"/><line x1="182" y1="474.6" x2="175.7" y2="474.1"/><line x1="422.1" y1="439.8" x2="419" y2="441.4"/><line x1="357.7" y1="478" x2="353.8" y2="476.9"/><line x1="504" y1="263.6" x2="503.8" y2="267"/><line x1="171.8" y1="64.8" x2="176.9" y2="63.2"/><line x1="487" y1="350.1" x2="484.7" y2="354.8"/><line x1="477" y1="155.7" x2="477.7" y2="159.6"/><line x1="120.6" y1="418.2" x2="113.9" y2="416.2"/><line x1="68.2" y1="328.6" x2="65.8" y2="325.9"/><line x1="419.4" y1="428.3" x2="413.9" y2="432.2"/><line x1="310.2" y1="34.6" x2="314.2" y2="35.5"/><line x1="344.4" y1="482.4" x2="340.6" y2="485"/><line x1="106.3" y1="138.8" x2="111.1" y2="136.3"/><line x1="420.2" y1="453.2" x2="418.8" y2="455.9"/><line x1="90.6" y1="164.3" x2="93.3" y2="160.2"/><line x1="340.2" y1="485.9" x2="335.6" y2="486.6"/><line x1="52.1" y1="266.2" x2="54.4" y2="261.9"/><line x1="50.5" y1="278.8" x2="48.4" y2="275.7"/><line x1="370.8" y1="478.5" x2="367.6" y2="480.3"/><line x1="208.3" y1="478.2" x2="203.9" y2="479"/><line x1="333.1" y1="39.7" x2="339.4" y2="41.4"/><line x1="83.7" y1="363.8" x2="83.4" y2="359"/><line x1="427.7" y1="437.3" x2="424.5" y2="442.6"/><line x1="124.7" y1="101.7" x2="128.9" y2="99.1"/><line x1="150.6" y1="75.5" x2="154.7" y2="72"/><line x1="505" y1="228.4" x2="505.3" y2="232.8"/><line x1="118.5" y1="103.1" x2="123.2" y2="102"/><line x1="412.9" y1="89.3" x2="418.3" y2="91"/><line x1="216.2" y1="479.2" x2="210.1" y2="478.4"/><line x1="65.2" y1="283.9" x2="66.5" y2="280.6"/><line x1="104.8" y1="387.7" x2="99" y2="385.2"/><line x1="64.4" y1="314.4" x2="65.9" y2="310.1"/><line x1="205.9" y1="477.7" x2="199.2" y2="478.3"/><line x1="254.4" y1="36.9" x2="259.9" y2="38.4"/><line x1="456.9" y1="405" x2="451.9" y2="409.2"/><line x1="146.3" y1="88.9" x2="148.3" y2="85.5"/><line x1="185.3" y1="54.6" x2="188.7" y2="55.2"/><line x1="505.6" y1="318.4" x2="506.3" y2="322.5"/><line x1="204.6" y1="55.7" x2="207.8" y2="52.5"/><line x1="505.7" y1="259.1" x2="504.3" y2="262.6"/><line x1="76.7" y1="184.1" x2="79.2" y2="179.5"/><line x1="301" y1="490.3" x2="294.5" y2="489.5"/><line x1="189.7" y1="57" x2="196.4" y2="55.4"/><line x1="392.9" y1="58.2" x2="395.2" y2="60.1"/><line x1="63.6" y1="249.9" x2="65.2" y2="246.5"/><line x1="81" y1="325.1" x2="79.8" y2="319.8"/><line x1="411" y1="89.8" x2="416.6" y2="93.4"/><line x1="110.6" y1="112.1" x2="112.1" y2="109.3"/><line x1="60.7" y1="285.8" x2="58.2" y2="282.4"/><line x1="354.5" y1="472.7" x2="351.2" y2="475.6"/><line x1="82.3" y1="329.8" x2="78.1" y2="325.2"/><line x1="252.5" y1="490" x2="249.2" y2="488.9"/><line x1="60.6" y1="273.4" x2="61.7" y2="270.5"/><line x1="403.7" y1="65.5" x2="406.7" y2="68.2"/><line x1="470.4" y1="129.6" x2="474.6" y2="132.2"/><line x1="496.7" y1="358.3" x2="497.2" y2="362"/><line x1="491.8" y1="191.2" x2="491.3" y2="195.3"/><line x1="354.4" y1="473.9" x2="347.8" y2="472.9"/><line x1="329.9" y1="39.8" x2="335.2" y2="43"/><line x1="243.9" y1="39.3" x2="248.1" y2="35.4"/><line x1="71.9" y1="341.6" x2="73.3" y2="335.6"/><line x1="95.7" y1="153.1" x2="97.6" y2="150.8"/><line x1="320.1" y1="491.6" x2="314.9" y2="494.1"/><line x1="295.4" y1="43.5" x2="298.9" y2="44.2"/><line x1="276.5" y1="491.8" x2="270.5" y2="491"/><line x1="172.7" y1="455.4" x2="169.2" y2="454.3"/><line x1="89.8" y1="381.7" x2="88.4" y2="378.6"/><line x1="256.8" y1="33.8" x2="263.2" y2="31.8"/><line x1="230.8" y1="492.3" x2="225.4" y2="494.2"/><line x1="173.7" y1="73.9" x2="178.4" y2="70.7"/><line x1="191.4" y1="64.1" x2="194.4" y2="61.8"/><line x1="500.5" y1="331.8" x2="501.1" y2="336.5"/><line x1="472.6" y1="384.6" x2="470.1" y2="388.4"/><line x1="266.6" y1="36.4" x2="271" y2="33.3"/><line x1="501.8" y1="254.9" x2="501.2" y2="261.8"/><line x1="175.4" y1="471.4" x2="171.8" y2="470.8"/><line x1="277.3" y1="491.9" x2="271" y2="491.7"/><line x1="308.3" y1="32.7" x2="312.2" y2="33.8"/><line x1="515" y1="275" x2="513.3" y2="278.1"/><line x1="351.3" y1="41.1" x2="355.8" y2="46"/><line x1="415.9" y1="82.1" x2="418.4" y2="86.3"/><line x1="428.2" y1="440.5" x2="426.7" y2="443.7"/><line x1="186.7" y1="475" x2="182.5" y2="475.5"/><line x1="54.9" y1="252.3" x2="56.3" y2="249.6"/><line x1="251.4" y1="39.2" x2="254.5" y2="38.9"/><line x1="461" y1="396" x2="456.1" y2="398"/><line x1="136.8" y1="97.9" x2="138.3" y2="95.2"/><line x1="380.1" y1="473.6" x2="377.2" y2="478"/><line x1="206.1" y1="469.5" x2="199.7" y2="468.3"/><line x1="211.7" y1="47.3" x2="217" y2="47"/><line x1="506.2" y1="198.3" x2="508" y2="203.6"/><line x1="214.1" y1="480" x2="209.2" y2="478.8"/><line x1="457.6" y1="417.5" x2="455" y2="419.4"/><line x1="515.1" y1="300.4" x2="515.5" y2="306.6"/><line x1="258.5" y1="45.7" x2="262" y2="44.8"/><line x1="488.1" y1="379.4" x2="486" y2="384.1"/><line x1="209.3" y1="64.6" x2="214.1" y2="60.5"/><line x1="492.5" y1="194.5" x2="493.1" y2="200.1"/><line x1="218.5" y1="477.8" x2="214" y2="477.7"/><line x1="243.3" y1="490.4" x2="239.3" y2="487.3"/><line x1="503.5" y1="235.7" x2="503.2" y2="241.6"/><line x1="69.1" y1="292.7" x2="69.5" y2="288.1"/><line x1="77.8" y1="235" x2="76.7" y2="230.7"/><line x1="403.6" y1="449.5" x2="400.3" y2="454"/><line x1="61.7" y1="302.4" x2="62.5" y2="299.5"/><line x1="290.9" y1="48.8" x2="295.9" y2="48"/><line x1="102.6" y1="402.1" x2="99.5" y2="401"/><line x1="366.5" y1="481" x2="362.2" y2="484.1"/><line x1="214.2" y1="62.8" x2="218.4" y2="62.1"/><line x1="348.2" y1="40.9" x2="352.3" y2="41.4"/><line x1="345.8" y1="489.3" x2="342.3" y2="490.3"/><line x1="368.8" y1="480.8" x2="364.7" y2="482.2"/><line x1="463.5" y1="408.4" x2="460.6" y2="409.8"/><line x1="496.1" y1="345.6" x2="495.5" y2="350.4"/><line x1="198.3" y1="51.9" x2="201.8" y2="49.1"/><line x1="74.5" y1="339.8" x2="70.6" y2="335.1"/><line x1="488.5" y1="169.6" x2="492.9" y2="174.3"/><line x1="507" y1="301.3" x2="507.6" y2="305.2"/><line x1="350.1" y1="481" x2="343.4" y2="480.3"/><line x1="212.3" y1="479.8" x2="208.8" y2="478.3"/><line x1="467.2" y1="147.4" x2="470" y2="152"/><line x1="53.8" y1="279.6" x2="54.7" y2="274.8"/><line x1="86.9" y1="162.3" x2="87.7" y2="158.8"/><line x1="90.6" y1="141.4" x2="90.5" y2="137.6"/><line x1="104" y1="161.2" x2="107.6" y2="155.3"/><line x1="363.7" y1="48.3" x2="367.2" y2="53.1"/><line x1="505.9" y1="197.9" x2="508.2" y2="202.9"/><line x1="236.5" y1="43.1" x2="240.8" y2="43.9"/><line x1="345" y1="56.1" x2="351.3" y2="58.8"/><line x1="430.1" y1="90.3" x2="433.2" y2="95.2"/><line x1="418.9" y1="440.7" x2="416.9" y2="444.5"/><line x1="158.9" y1="69" x2="160.9" y2="65.8"/><line x1="244" y1="493.4" x2="238.3" y2="492.1"/><line x1="479.1" y1="381.4" x2="474.7" y2="384.4"/><line x1="486.3" y1="152.2" x2="487.2" y2="155.6"/><line x1="65.7" y1="335.8" x2="62.3" y2="330.3"/><line x1="465.4" y1="125.8" x2="471.4" y2="129.5"/><line x1="441.9" y1="105.5" x2="443.4" y2="111.3"/><line x1="133" y1="440.7" x2="129" y2="436.1"/><line x1="477.2" y1="386" x2="476.3" y2="392.1"/><line x1="203.2" y1="474.3" x2="199.3" y2="471.6"/><line x1="482.3" y1="385.4" x2="479.6" y2="388.4"/><line x1="347.7" y1="481.9" x2="343" y2="483.5"/><line x1="79.9" y1="352.5" x2="77.4" y2="347.7"/><line x1="437.8" y1="428.1" x2="434.9" y2="432.7"/><line x1="339.3" y1="479.4" x2="333.4" y2="477.5"/><line x1="323" y1="490.6" x2="320.1" y2="491.6"/><line x1="391.9" y1="58" x2="396.4" y2="62.1"/><line x1="75.4" y1="175.4" x2="75.7" y2="172.3"/><line x1="53" y1="237.1" x2="54.6" y2="233.9"/><line x1="69" y1="355" x2="67.8" y2="351.6"/><line x1="390.3" y1="468.9" x2="387.8" y2="471.9"/><line x1="487.8" y1="179.7" x2="487.5" y2="183.1"/><line x1="504.6" y1="308.3" x2="505.1" y2="313.9"/><line x1="511.7" y1="293.1" x2="509.1" y2="296.3"/><line x1="424.8" y1="434" x2="422.7" y2="438.4"/><line x1="201.2" y1="462.4" x2="195.9" y2="461.4"/><line x1="499.7" y1="326" x2="498.9" y2="332.4"/><line x1="73.6" y1="359.8" x2="70.3" y2="357.5"/><line x1="187.3" y1="476.6" x2="182.6" y2="473.1"/><line x1="500" y1="327.3" x2="500.9" y2="333.5"/><line x1="381.8" y1="463.8" x2="378.5" y2="464.5"/><line x1="183.8" y1="67.4" x2="188.2" y2="62.8"/><line x1="249.2" y1="39.9" x2="255.3" y2="42.3"/><line x1="148.9" y1="85.5" x2="152.8" y2="83.3"/><line x1="60.3" y1="325.5" x2="57.9" y2="323"/><line x1="170.9" y1="65.9" x2="174" y2="63.7"/><line x1="64.8" y1="209.5" x2="65.6" y2="205.9"/><line x1="515.2" y1="255.7" x2="513.4" y2="262.1"/><line x1="475.9" y1="143.2" x2="476" y2="147"/><line x1="402.9" y1="441.8" x2="401.4" y2="444.8"/><line x1="56.7" y1="316.3" x2="54.4" y2="310.8"/><line x1="505.1" y1="331.5" x2="501.5" y2="337.3"/><line x1="270.7" y1="34.3" x2="276.8" y2="32.5"/><line x1="508.2" y1="259.9" x2="509.9" y2="264.5"/><line x1="106.6" y1="405.4" x2="106" y2="399.6"/><line x1="507.6" y1="254" x2="505.6" y2="260"/><line x1="453.1" y1="410.5" x2="449.7" y2="416.3"/><line x1="506.3" y1="236.8" x2="508.7" y2="241.2"/><line x1="99" y1="141.4" x2="100.9" y2="135.2"/><line x1="68.9" y1="334.9" x2="69" y2="329"/><line x1="95.7" y1="147.3" x2="98.7" y2="144.8"/><line x1="507.3" y1="329.9" x2="503.7" y2="334.5"/><line x1="355.6" y1="487.8" x2="350.1" y2="487"/><line x1="487" y1="191.1" x2="488.8" y2="197.3"/><line x1="68.2" y1="190.2" x2="70.5" y2="186.3"/><line x1="492.5" y1="366.4" x2="489.9" y2="368.4"/><line x1="221.6" y1="45.3" x2="225.5" y2="44.6"/><line x1="175.5" y1="467" x2="170.5" y2="466.1"/><line x1="238" y1="492.2" x2="232.4" y2="493.7"/><line x1="267.8" y1="486.1" x2="264" y2="483.4"/><line x1="473.4" y1="129.7" x2="477.6" y2="134"/><line x1="177" y1="455.1" x2="175.2" y2="451.4"/><line x1="59.2" y1="203.2" x2="60.9" y2="199.4"/><line x1="83.5" y1="385.2" x2="80.8" y2="381.7"/><line x1="168.9" y1="66.6" x2="171.9" y2="60.8"/><line x1="270.9" y1="487" x2="267" y2="486.9"/><line x1="84" y1="153" x2="85.9" y2="148.3"/><line x1="476.5" y1="381.4" x2="472.3" y2="383.4"/><line x1="222.1" y1="480.9" x2="218.3" y2="478.1"/><line x1="445.4" y1="410.2" x2="442.3" y2="413"/><line x1="491.5" y1="178.3" x2="494.1" y2="184"/><line x1="185" y1="85.3" x2="187.6" y2="83"/><line x1="291.1" y1="36.8" x2="295" y2="37.3"/><line x1="322.6" y1="37.4" x2="326.3" y2="40.7"/><line x1="505.9" y1="289.5" x2="505.6" y2="293.9"/><line x1="485.5" y1="150.1" x2="488.7" y2="156.1"/><line x1="511.9" y1="285.5" x2="514.5" y2="290.8"/><line x1="504.8" y1="311.4" x2="505.4" y2="316.1"/><line x1="511.5" y1="271.3" x2="509.9" y2="276.9"/><line x1="432.4" y1="441.3" x2="426.1" y2="442.5"/><line x1="76.4" y1="202.3" x2="78.2" y2="199.3"/><line x1="143.7" y1="86.9" x2="146.6" y2="83.7"/><line x1="370.3" y1="49.2" x2="372.7" y2="51.2"/><line x1="54.6" y1="246.3" x2="52.1" y2="241.7"/><line x1="191.3" y1="466" x2="187.7" y2="464.2"/><line x1="458.5" y1="144.8" x2="462.4" y2="146.3"/><line x1="123.6" y1="431.9" x2="122.1" y2="427.9"/><line x1="437" y1="419.7" x2="434.8" y2="422.2"/><line x1="81.3" y1="162.8" x2="81.8" y2="159.1"/><line x1="62" y1="234.8" x2="62.3" y2="229.9"/><line x1="514.7" y1="282.1" x2="517.4" y2="287.7"/><line x1="216.8" y1="45.9" x2="220" y2="43.1"/></g>
<g stroke="#444" stroke-width="0.7"><line x1="111.2" y1="103.5" x2="117.8" y2="103.5"/><line x1="123.1" y1="435.9" x2="129.4" y2="435.9"/><line x1="465.2" y1="411" x2="471.5" y2="411"/><line x1="443.9" y1="441.1" x2="447.3" y2="441.1"/><line x1="469.8" y1="125.1" x2="475.3" y2="125.1"/><line x1="111.8" y1="424.8" x2="118" y2="424.8"/><line x1="515.3" y1="253.1" x2="521.8" y2="253.1"/><line x1="46.1" y1="301.1" x2="53.5" y2="301.1"/><line x1="80.6" y1="382.4" x2="86.5" y2="382.4"/><line x1="458.7" y1="109.1" x2="464.6" y2="109.1"/><line x1="452.3" y1="100.7" x2="456.7" y2="100.7"/><line x1="464" y1="118.1" x2="470.1" y2="118.1"/><line x1="43.9" y1="258.7" x2="48.9" y2="258.7"/><line x1="457" y1="111.3" x2="460" y2="111.3"/><line x1="439.3" y1="92.6" x2="447.3" y2="92.6"/><line x1="507.2" y1="208.6" x2="511.4" y2="208.6"/><line x1="431.3" y1="445" x2="436.2" y2="445"/><line x1="78.2" y1="145.5" x2="81.2" y2="145.5"/><line x1="502.1" y1="344.7" x2="507.3" y2="344.7"/><line x1="511.9" y1="215" x2="515" y2="215"/><line x1="119.4" y1="91.1" x2="122.4" y2="91.1"/><line x1="468.6" y1="125.7" x2="475.9" y2="125.7"/><line x1="117.6" y1="96" x2="121.5" y2="96"/><line x1="46.4" y1="285.5" x2="54" y2="285.5"/><line x1="61.6" y1="353.3" x2="66" y2="353.3"/><line x1="505.9" y1="329.4" x2="513.6" y2="329.4"/><line x1="81.6" y1="386.2" x2="89.4" y2="386.2"/><line x1="498.5" y1="355.4" x2="503.8" y2="355.4"/><line x1="486.3" y1="376.9" x2="494.2" y2="376.9"/><line x1="120.1" y1="94.6" x2="127.4" y2="94.6"/><line x1="517.2" y1="292" x2="520.6" y2="292"/><line x1="515.9" y1="259.8" x2="519.9" y2="259.8"/><line x1="106.2" y1="425.3" x2="111.5" y2="425.3"/><line x1="517.6" y1="274.7" x2="524" y2="274.7"/><line x1="45.8" y1="256.2" x2="53.2" y2="256.2"/><line x1="85.4" y1="392.3" x2="89.6" y2="392.3"/><line x1="57.1" y1="186.6" x2="62.2" y2="186.6"/><line x1="119.3" y1="89.2" x2="127" y2="89.2"/><line x1="135.2" y1="83.3" x2="143" y2="83.3"/><line x1="499.4" y1="342.2" x2="506.6" y2="342.2"/><line x1="88" y1="402.1" x2="95.7" y2="402.1"/><line x1="72.2" y1="379.5" x2="78.3" y2="379.5"/><line x1="485.9" y1="149.5" x2="489.4" y2="149.5"/><line x1="47.3" y1="304.9" x2="54.6" y2="304.9"/><line x1="71.6" y1="152.5" x2="78.7" y2="152.5"/><line x1="132.8" y1="450.9" x2="139.4" y2="450.9"/><line x1="519.8" y1="281.8" x2="523.2" y2="281.8"/><line x1="478" y1="392.4" x2="482.1" y2="392.4"/><line x1="516" y1="238.8" x2="521" y2="238.8"/><line x1="490.3" y1="371.4" x2="495.1" y2="371.4"/><line x1="497.7" y1="166.7" x2="501.6" y2="166.7"/><line x1="49.8" y1="299.3" x2="54.4" y2="299.3"/><line x1="503.4" y1="193.2" x2="510.9" y2="193.2"/><line x1="60.2" y1="350.5" x2="63.7" y2="350.5"/><line x1="492.8" y1="372.4" x2="500.4" y2="372.4"/><line x1="86.6" y1="396" x2="91.6" y2="396"/><line x1="108.1" y1="426.2" x2="111.5" y2="426.2"/><line x1="512.6" y1="287.4" x2="520.3" y2="287.4"/><line x1="74.4" y1="373.5" x2="78.4" y2="373.5"/><line x1="136.4" y1="446.6" x2="142.1" y2="446.6"/><line x1="107.4" y1="107.8" x2="110.8" y2="107.8"/><line x1="498.6" y1="347.3" x2="505.4" y2="347.3"/><line x1="56.8" y1="329.2" x2="61.9" y2="329.2"/><line x1="90.1" y1="401.3" x2="97.5" y2="401.3"/><line x1="125.1" y1="83.9" x2="131.5" y2="83.9"/><line x1="102.7" y1="414.9" x2="107.4" y2="414.9"/><line x1="44" y1="253.2" x2="49.4" y2="253.2"/><line x1="79" y1="387.9" x2="86.6" y2="387.9"/><line x1="431.6" y1="446.6" x2="435.2" y2="446.6"/><line x1="57.7" y1="184.1" x2="61.7" y2="184.1"/><line x1="81.3" y1="390.2" x2="85.1" y2="390.2"/><line x1="437.8" y1="440.1" x2="443.4" y2="440.1"/><line x1="509" y1="329.9" x2="513.4" y2="329.9"/><line x1="509.5" y1="309.4" x2="516.9" y2="309.4"/><line x1="502" y1="180.1" x2="505.2" y2="180.1"/><line x1="487.8" y1="380" x2="491.2" y2="380"/><line x1="513.3" y1="256.5" x2="521.2" y2="256.5"/><line x1="97.8" y1="409.2" x2="104.8" y2="409.2"/><line x1="508.3" y1="215.4" x2="513.4" y2="215.4"/><line x1="448.4" y1="102.3" x2="453.9" y2="102.3"/><line x1="504.5" y1="341.4" x2="509.5" y2="341.4"/><line x1="109.6" y1="104.4" x2="116.5" y2="104.4"/><line x1="45.3" y1="251.1" x2="53" y2="251.1"/><line x1="58.3" y1="339.3" x2="65.7" y2="339.3"/><line x1="117.7" y1="437.1" x2="122.1" y2="437.1"/><line x1="512.9" y1="264" x2="519.5" y2="264"/><line x1="128.5" y1="86.1" x2="133.1" y2="86.1"/><line x1="52.3" y1="222" x2="55.9" y2="222"/><line x1="438.2" y1="440.2" x2="444.3" y2="440.2"/><line x1="42.8" y1="270.8" x2="49.3" y2="270.8"/><line x1="511.9" y1="304" x2="516.4" y2="304"/><line x1="479.2" y1="136" x2="482.8" y2="136"/><line x1="446.1" y1="96.4" x2="449.6" y2="96.4"/><line x1="435.5" y1="83.7" x2="440" y2="83.7"/><line x1="53.4" y1="337.4" x2="59.7" y2="337.4"/><line x1="84.3" y1="140.2" x2="88.6" y2="140.2"/><line x1="74.9" y1="377.9" x2="78.3" y2="377.9"/><line x1="77.1" y1="378.3" x2="82.2" y2="378.3"/><line x1="512.5" y1="304.8" x2="519" y2="304.8"/><line x1="518.1" y1="252.5" x2="521.8" y2="252.5"/><line x1="429.7" y1="85" x2="437.1" y2="85"/><line x1="471.7" y1="400.9" x2="479.4" y2="400.9"/><line x1="54" y1="336.2" x2="59.1" y2="336.2"/><line x1="44.1" y1="278.7" x2="47.3" y2="278.7"/><line x1="111.3" y1="102.4" x2="118.2" y2="102.4"/><line x1="449.5" y1="433.8" x2="455" y2="433.8"/><line x1="445" y1="431.7" x2="451.7" y2="431.7"/><line x1="506.3" y1="326.3" x2="510" y2="326.3"/><line x1="48.7" y1="284.1" x2="52.3" y2="284.1"/><line x1="48.1" y1="282.9" x2="55.1" y2="282.9"/><line x1="65.2" y1="356.1" x2="69.8" y2="356.1"/><line x1="62" y1="175.8" x2="68.6" y2="175.8"/><line x1="480.5" y1="390.4" x2="487.3" y2="390.4"/><line x1="56.5" y1="326.4" x2="63.7" y2="326.4"/><line x1="113.6" y1="103.9" x2="117.3" y2="103.9"/><line x1="81.5" y1="392.1" x2="86.7" y2="392.1"/><line x1="516.8" y1="272.5" x2="523.8" y2="272.5"/><line x1="48.1" y1="213.5" x2="53.6" y2="213.5"/><line x1="474.1" y1="397.6" x2="480.6" y2="397.6"/><line x1="504.4" y1="347.3" x2="509.7" y2="347.3"/><line x1="98.2" y1="113.6" x2="105.3" y2="113.6"/><line x1="472.4" y1="130.3" x2="478.2" y2="130.3"/><line x1="47.2" y1="222.9" x2="50.8" y2="222.9"/><line x1="66.1" y1="367.6" x2="71.7" y2="367.6"/><line x1="45.6" y1="233.5" x2="52.5" y2="233.5"/><line x1="506.3" y1="191.7" x2="511.8" y2="191.7"/><line x1="104.7" y1="424.4" x2="111.5" y2="424.4"/><line x1="503.8" y1="349.1" x2="506.9" y2="349.1"/><line x1="120.3" y1="439.8" x2="124.8" y2="439.8"/><line x1="106.3" y1="421.6" x2="110" y2="421.6"/><line x1="55.3" y1="329.8" x2="62.3" y2="329.8"/><line x1="480.9" y1="146" x2="485.9" y2="146"/><line x1="505.6" y1="184" x2="511.3" y2="184"/><line x1="131.1" y1="83.8" x2="138.1" y2="83.8"/><line x1="507.1" y1="201.9" x2="514.7" y2="201.9"/><line x1="509.7" y1="306.1" x2="515.2" y2="306.1"/><line x1="64.5" y1="174.7" x2="69.9" y2="174.7"/><line x1="466.5" y1="407.3" x2="471.5" y2="407.3"/><line x1="518.7" y1="283.1" x2="522.9" y2="283.1"/><line x1="510.8" y1="327.9" x2="515.1" y2="327.9"/><line x1="74.8" y1="151.9" x2="81.7" y2="151.9"/><line x1="478" y1="130.4" x2="482.5" y2="130.4"/><line x1="506.6" y1="203.5" x2="512.8" y2="203.5"/><line x1="504.1" y1="340.7" x2="508.1" y2="340.7"/><line x1="518.2" y1="274" x2="525.5" y2="274"/><line x1="515.6" y1="251.5" x2="518.6" y2="251.5"/><line x1="47.2" y1="247.4" x2="52.7" y2="247.4"/><line x1="464.5" y1="112.7" x2="468.9" y2="112.7"/><line x1="49.3" y1="280.9" x2="54.6" y2="280.9"/><line x1="48" y1="288.3" x2="56" y2="288.3"/><line x1="513.1" y1="241.4" x2="519.5" y2="241.4"/><line x1="93.6" y1="128.5" x2="97" y2="128.5"/><line x1="51.3" y1="213.7" x2="58" y2="213.7"/><line x1="477.8" y1="391.1" x2="484.9" y2="391.1"/><line x1="511.6" y1="231.6" x2="516.5" y2="231.6"/><line x1="51.7" y1="228" x2="55.6" y2="228"/><line x1="133" y1="81.8" x2="140.8" y2="81.8"/><line x1="509.6" y1="326.7" x2="515.5" y2="326.7"/><line x1="517.2" y1="253.1" x2="524.6" y2="253.1"/><line x1="116.2" y1="101.6" x2="122.4" y2="101.6"/><line x1="73.9" y1="161.6" x2="77.6" y2="161.6"/><line x1="495.3" y1="160.5" x2="500.2" y2="160.5"/><line x1="516.4" y1="241.8" x2="521.2" y2="241.8"/><line x1="73.9" y1="375" x2="77.5" y2="375"/><line x1="497.5" y1="174" x2="501.3" y2="174"/><line x1="435.9" y1="440.3" x2="439.3" y2="440.3"/><line x1="492.7" y1="372.1" x2="500.5" y2="372.1"/><line x1="94.5" y1="407.6" x2="98" y2="407.6"/><line x1="516.5" y1="287.4" x2="519.8" y2="287.4"/><line x1="106.6" y1="419.7" x2="114.3" y2="419.7"/><line x1="443.8" y1="91.2" x2="447.7" y2="91.2"/><line x1="60.1" y1="338.7" x2="64.6" y2="338.7"/><line x1="505.5" y1="200.2" x2="511.3" y2="200.2"/><line x1="62.4" y1="356.6" x2="68.2" y2="356.6"/><line x1="77.1" y1="381.8" x2="84.9" y2="381.8"/><line x1="62.8" y1="175" x2="68.5" y2="175"/><line x1="470" y1="409.6" x2="473.3" y2="409.6"/><line x1="435.3" y1="82.3" x2="440.6" y2="82.3"/><line x1="447.7" y1="436.9" x2="451.1" y2="436.9"/><line x1="99.4" y1="415.1" x2="103.1" y2="415.1"/><line x1="444.4" y1="96.1" x2="447.9" y2="96.1"/><line x1="75.9" y1="153.1" x2="81.8" y2="153.1"/><line x1="511.1" y1="322.8" x2="518.8" y2="322.8"/><line x1="477.6" y1="139.9" x2="485.2" y2="139.9"/><line x1="113.3" y1="102.4" x2="117.4" y2="102.4"/><line x1="462.1" y1="109.4" x2="466.2" y2="109.4"/><line x1="467" y1="117.4" x2="472.9" y2="117.4"/><line x1="93.4" y1="121.6" x2="99.9" y2="121.6"/><line x1="42.7" y1="255.7" x2="49.7" y2="255.7"/><line x1="494.3" y1="167.1" x2="501.1" y2="167.1"/><line x1="44.7" y1="267.6" x2="47.8" y2="267.6"/><line x1="440.6" y1="90.3" x2="444.3" y2="90.3"/><line x1="436.1" y1="84.4" x2="440.2" y2="84.4"/><line x1="519.1" y1="254" x2="526.4" y2="254"/><line x1="127.7" y1="89.4" x2="130.9" y2="89.4"/><line x1="509.6" y1="209.6" x2="513" y2="209.6"/><line x1="489.2" y1="379.2" x2="497.1" y2="379.2"/><line x1="501.5" y1="341.5" x2="505.4" y2="341.5"/><line x1="482.7" y1="144.1" x2="488.1" y2="144.1"/><line x1="495.2" y1="162.4" x2="501.9" y2="162.4"/><line x1="66.7" y1="360.1" x2="72.8" y2="360.1"/><line x1="80.2" y1="385.7" x2="84.8" y2="385.7"/><line x1="52.3" y1="226.2" x2="56.4" y2="226.2"/><line x1="431.5" y1="445.7" x2="435.6" y2="445.7"/><line x1="113" y1="96.1" x2="120" y2="96.1"/><line x1="516.1" y1="287.9" x2="522.5" y2="287.9"/><line x1="115.2" y1="97.6" x2="118.7" y2="97.6"/><line x1="66.7" y1="174.3" x2="74.1" y2="174.3"/><line x1="65.1" y1="367" x2="71" y2="367"/><line x1="107" y1="417.8" x2="111.5" y2="417.8"/><line x1="481.3" y1="142.6" x2="488.1" y2="142.6"/><line x1="517.5" y1="284.8" x2="524.5" y2="284.8"/><line x1="504.8" y1="188.5" x2="512" y2="188.5"/><line x1="54.8" y1="323.8" x2="60.8" y2="323.8"/><line x1="50.5" y1="287.9" x2="54.1" y2="287.9"/><line x1="507.7" y1="192.9" x2="514.4" y2="192.9"/><line x1="516.5" y1="258.3" x2="523.5" y2="258.3"/><line x1="49.3" y1="248" x2="53.3" y2="248"/><line x1="484.1" y1="381" x2="489.3" y2="381"/><line x1="86.7" y1="393.1" x2="91.6" y2="393.1"/></g>
<rect x="302.3" y="229.8" width="84.7" height="49" rx="24.5" fill="none" stroke="#000" stroke-width="9.6"/>
<line x1="326.2" y1="277.9" x2="268.5" y2="401.3" stroke="#000" stroke-width="9.4" stroke-dasharray="29.8 32" stroke-dashoffset="14"/>
</g>
<line x1="386.4" y1="259" x2="732.9" y2="395.6" stroke="#000" stroke-width="9" stroke-dasharray="37.5 37.2" stroke-dashoffset="22"/>
<circle cx="281.5" cy="413.6" r="5.9" fill="#5fc4b9"/>
<text x="291.7" y="417.5" font-size="14.6" fill="#636363">AD gene</text>
<circle cx="281.5" cy="434.9" r="5.9" fill="#f6b636"/>
<text x="291.7" y="438.8" font-size="14.6" fill="#636363">Non-AD gene</text>
<circle cx="281.5" cy="456.3" r="5.9" fill="#d0cec4"/>
<text x="291.7" y="460.2" font-size="14.6" fill="#636363">non KD node</text>
<circle cx="281.5" cy="477.6" r="7.6" fill="#d0cec4" stroke="#e85a61" stroke-width="3.4"/>
<text x="291.7" y="481.5" font-size="14.6" fill="#636363">KD node</text>
<g fill="none" stroke="#8d9292" stroke-width="2.8">
<path d="M349,530 C380,495 430,485 470,492 C495,497 510,505 524.3,514.2"/>
<path d="M536,539 C500,546 465,542 447,520 C441,511 439,505 437.2,500.6"/>
<path d="M536,531 C505,520 485,505 477,488 C473,480 472,475 471.4,467.6"/>
<path d="M538,527 C520,505 505,480 505,460 C505,452 507,446 510.4,441.2"/>
<path d="M541,526 C535,500 532,470 545,452 C550,445 555,441 560.9,436"/>
<path d="M546,526 C550,495 565,470 590,462 C594,460 598,459 605.1,457.8"/>
<path d="M553,530 C580,505 615,497 646.9,518.3"/>
<path d="M664,526 C665,505 675,488 699.3,478.4"/>
<path d="M673,537 C700,540 720,555 723.4,575"/>
<path d="M554,537 C590,540 625,560 629.3,588.5"/>
<path d="M550,545 C575,570 590,600 586.9,622.7"/>
<path d="M546,546 C553,582 556,614 543.2,635.1"/>
<path d="M542,546 C540,590 515,615 496.9,622.7"/>
<path d="M540,545 C520,582 485,599 462.7,592.1"/>
</g>
<g fill="#8d9292">
<path d="M535,525.5 L519.6,516 L526.4,509.6 Z"/>
<path d="M434.1,485.4 L442.2,501.6 L433,503.5 Z"/>
<path d="M471.4,452.1 L476.1,469.6 L466.7,469.6 Z"/>
<path d="M518.5,428 L513.4,445.4 L505.4,440.5 Z"/>
<path d="M575,429.5 L561,441.1 L557.1,432.5 Z"/>
<path d="M620.5,456 L603.7,462.8 L602.6,453.4 Z"/>
<path d="M656.5,530.5 L642,519.7 L649.3,513.9 Z"/>
<path d="M714.5,475.5 L698.2,483.4 L696.4,474.2 Z"/>
<path d="M724.2,590.5 L718.6,573.3 L728,572.8 Z"/>
<path d="M630.5,604 L624.5,586.9 L633.8,586.2 Z"/>
<path d="M584.5,638 L582.5,620 L591.8,621.4 Z"/>
<path d="M533.3,647 L540.8,630.5 L548.1,636.5 Z"/>
<path d="M482.5,628.5 L497,617.6 L500.5,626.4 Z"/>
<path d="M447.6,588.5 L465.7,588 L463.5,597.2 Z"/>
</g>
<circle cx="544.5" cy="536.2" r="7.7" fill="#f6b636" stroke="#e85a61" stroke-width="3.6"/>
<circle cx="342" cy="535.8" r="7.7" fill="#f6b636" stroke="#e85a61" stroke-width="3.6"/>
<circle cx="436.1" cy="584.5" r="7.7" fill="#f6b636" stroke="#e85a61" stroke-width="3.6"/>
<circle cx="525.6" cy="418.5" r="5.9" fill="#5fc4b9"/>
<circle cx="583.6" cy="423.9" r="5.9" fill="#f6b636"/>
<circle cx="632" cy="455.8" r="5.9" fill="#f6b636"/>
<circle cx="724.8" cy="474.8" r="5.9" fill="#5fc4b9"/>
<circle cx="663.4" cy="536" r="5.9" fill="#5fc4b9"/>
<circle cx="472" cy="442" r="5.9" fill="#f6b636"/>
<circle cx="430" cy="476" r="5.9" fill="#f6b636"/>
<circle cx="724.9" cy="597.7" r="5.9" fill="#f6b636"/>
<circle cx="632.1" cy="615.8" r="5.9" fill="#f6b636"/>
<circle cx="583.7" cy="648" r="5.9" fill="#f6b636"/>
<circle cx="525.2" cy="653.1" r="5.9" fill="#f6b636"/>
<circle cx="472.2" cy="630" r="5.9" fill="#f6b636"/>
<text x="474" y="426.6" font-size="17.2" fill="#636363" textLength="55.5" lengthAdjust="spacingAndGlyphs">ABETA</text>
<text x="541.2" y="426.6" font-size="17.2" fill="#636363" textLength="45.4" lengthAdjust="spacingAndGlyphs">BAG3</text>
<text x="401.8" y="451" font-size="17.2" fill="#636363" textLength="74.5" lengthAdjust="spacingAndGlyphs">HSPA1 B</text>
<text x="581.6" y="450.5" font-size="17.2" fill="#636363" textLength="60.5" lengthAdjust="spacingAndGlyphs">NAMPT</text>
<text x="686.6" y="469.6" font-size="17.2" fill="#636363" textLength="44.7" lengthAdjust="spacingAndGlyphs">APOE</text>
<text x="353.4" y="484.6" font-size="17.2" fill="#636363" textLength="69" lengthAdjust="spacingAndGlyphs">DDX39B</text>
<text x="295.3" y="543.5" font-size="17.2" fill="#636363" textLength="51.4" lengthAdjust="spacingAndGlyphs">MAOB</text>
<text x="481.5" y="557.3" font-size="17.2" fill="#636363" textLength="50.1" lengthAdjust="spacingAndGlyphs">HSPB1</text>
<text x="634.8" y="546.1" font-size="17.2" fill="#636363" textLength="33.3" lengthAdjust="spacingAndGlyphs">CLU</text>
<text x="405" y="593.6" font-size="17.2" fill="#636363" textLength="34" lengthAdjust="spacingAndGlyphs">VGF</text>
<text x="650.1" y="604.7" font-size="17.2" fill="#636363" textLength="81.4" lengthAdjust="spacingAndGlyphs">ALDH3A2</text>
<text x="626.5" y="628.9" font-size="17.2" fill="#636363" textLength="78.7" lengthAdjust="spacingAndGlyphs">METTL7A</text>
<text x="389.9" y="640" font-size="17.2" fill="#636363" textLength="87.8" lengthAdjust="spacingAndGlyphs">PAFAH1B3</text>
<text x="456.5" y="662.2" font-size="17.2" fill="#636363" textLength="73.3" lengthAdjust="spacingAndGlyphs">SEC14L2</text>
<text x="577.5" y="659.2" font-size="17.2" fill="#636363" textLength="53.1" lengthAdjust="spacingAndGlyphs">SARS2</text>
<text x="168.2" y="717.3" font-size="29.2">Multiscale Network</text>
<text x="777.2" y="30.6" font-size="42" font-weight="bold">b</text>
<text x="1034.6" y="41.2" font-size="29.2">Scaled density plots for pLI distribution in global KD category</text>
<rect x="868.5" y="56.2" width="178.7" height="55.9" fill="#d0d0d0" stroke="#000" stroke-width="1.7"/>
<text x="957.8" y="92.2" font-size="22.6" text-anchor="middle">Not global KD</text>
<g stroke="#ebebeb">
<line x1="896.3" x2="896.3" y1="112.2" y2="631" stroke-width="1.1"/>
<line x1="937.3" x2="937.3" y1="112.2" y2="631" stroke-width="1.1"/>
<line x1="978.2" x2="978.2" y1="112.2" y2="631" stroke-width="1.1"/>
<line x1="1019.2" x2="1019.2" y1="112.2" y2="631" stroke-width="1.1"/>
<line x1="867.6" x2="1048" y1="548.5" y2="548.5" stroke-width="1.1"/>
<line x1="867.6" x2="1048" y1="430.7" y2="430.7" stroke-width="1.1"/>
<line x1="867.6" x2="1048" y1="312.9" y2="312.9" stroke-width="1.1"/>
<line x1="867.6" x2="1048" y1="195.1" y2="195.1" stroke-width="1.1"/>
<line x1="875.8" x2="875.8" y1="112.2" y2="631" stroke-width="2.2"/>
<line x1="916.8" x2="916.8" y1="112.2" y2="631" stroke-width="2.2"/>
<line x1="957.8" x2="957.8" y1="112.2" y2="631" stroke-width="2.2"/>
<line x1="998.7" x2="998.7" y1="112.2" y2="631" stroke-width="2.2"/>
<line x1="1039.7" x2="1039.7" y1="112.2" y2="631" stroke-width="2.2"/>
<line x1="867.6" x2="1048" y1="607.4" y2="607.4" stroke-width="2.2"/>
<line x1="867.6" x2="1048" y1="489.6" y2="489.6" stroke-width="2.2"/>
<line x1="867.6" x2="1048" y1="371.8" y2="371.8" stroke-width="2.2"/>
<line x1="867.6" x2="1048" y1="254" y2="254" stroke-width="2.2"/>
<line x1="867.6" x2="1048" y1="136.2" y2="136.2" stroke-width="2.2"/>
</g>
<path d="M875.8,607.4 L875.8,143.9 C876,142.6 876.3,135.3 876.8,136.2 C877.3,137.1 878.1,136.2 878.9,149 C879.6,161.7 880.6,189.4 881.4,212.8 C882.3,236.2 883.1,263.9 884,289.4 C884.8,315 885.7,340.5 886.6,366.1 C887.4,391.6 888.3,421.4 889.1,442.7 C890,464 890.6,478.9 891.7,493.8 C892.7,508.6 894,521.4 895.5,532.1 C897,542.7 898.5,551.2 900.6,557.6 C902.8,564 905.8,567.5 908.3,570.4 C910.9,573.3 912.6,573.9 916,575 C919.4,576 924.5,576.2 928.8,576.8 C933.1,577.3 937.3,577.5 941.6,578 C945.9,578.6 950.2,579.5 954.4,580.1 C958.7,580.6 963,581.5 967.2,581.3 C971.5,581.2 975.8,579.9 980,579.3 C984.3,578.7 989.4,578.1 992.8,577.5 C996.2,577 997.5,577.2 1000.5,576 C1003.5,574.8 1007.8,573.4 1010.8,570.4 C1013.7,567.3 1016.1,562.7 1018.4,557.6 C1020.8,552.5 1022.9,547 1024.8,539.7 C1026.8,532.5 1028.5,521.2 1030,514.2 C1031.5,507.2 1032.7,501.1 1033.8,497.6 C1034.9,494.1 1035.6,493.7 1036.4,493.2 C1037.1,492.8 1037.9,493.7 1038.4,495 C1039,496.4 1039.5,500.3 1039.7,501.4 L1039.7,607.4 Z" fill="#b3b3b3" fill-opacity="0.5" stroke="#a3a3a3" stroke-width="1.6"/>
<line x1="878.4" x2="878.4" y1="116.4" y2="631" stroke="#eea816" stroke-width="3.4" stroke-dasharray="12.2 11.8"/>
<rect x="868.20" y="112.2" width="179.40" height="518.70" fill="none" stroke="#262626" stroke-width="1.15"/>
<line x1="875.8" x2="875.8" y1="631" y2="635.2" stroke="#000" stroke-width="1.5"/>
<text transform="translate(875.8,645.4) rotate(-90)" y="8" font-size="22.9" text-anchor="end">0</text>
<line x1="916.8" x2="916.8" y1="631" y2="635.2" stroke="#000" stroke-width="1.5"/>
<text transform="translate(916.8,645.4) rotate(-90)" y="8" font-size="22.9" text-anchor="end">0.25</text>
<line x1="957.8" x2="957.8" y1="631" y2="635.2" stroke="#000" stroke-width="1.5"/>
<text transform="translate(957.8,645.4) rotate(-90)" y="8" font-size="22.9" text-anchor="end">0.5</text>
<line x1="998.7" x2="998.7" y1="631" y2="635.2" stroke="#000" stroke-width="1.5"/>
<text transform="translate(998.7,645.4) rotate(-90)" y="8" font-size="22.9" text-anchor="end">0.75</text>
<line x1="1039.7" x2="1039.7" y1="631" y2="635.2" stroke="#000" stroke-width="1.5"/>
<text transform="translate(1039.7,645.4) rotate(-90)" y="8" font-size="22.9" text-anchor="end">1</text>
<rect x="1056" y="56.2" width="178.7" height="55.9" fill="#d0d0d0" stroke="#000" stroke-width="1.7"/>
<text x="1145.4" y="80" font-size="22.5" text-anchor="middle">Global KD in 1</text>
<text x="1145.4" y="104.3" font-size="22.5" text-anchor="middle">network</text>
<g stroke="#ebebeb">
<line x1="1083.9" x2="1083.9" y1="112.2" y2="631" stroke-width="1.1"/>
<line x1="1124.9" x2="1124.9" y1="112.2" y2="631" stroke-width="1.1"/>
<line x1="1165.8" x2="1165.8" y1="112.2" y2="631" stroke-width="1.1"/>
<line x1="1206.8" x2="1206.8" y1="112.2" y2="631" stroke-width="1.1"/>
<line x1="1055.2" x2="1235.6" y1="548.5" y2="548.5" stroke-width="1.1"/>
<line x1="1055.2" x2="1235.6" y1="430.7" y2="430.7" stroke-width="1.1"/>
<line x1="1055.2" x2="1235.6" y1="312.9" y2="312.9" stroke-width="1.1"/>
<line x1="1055.2" x2="1235.6" y1="195.1" y2="195.1" stroke-width="1.1"/>
<line x1="1063.4" x2="1063.4" y1="112.2" y2="631" stroke-width="2.2"/>
<line x1="1104.4" x2="1104.4" y1="112.2" y2="631" stroke-width="2.2"/>
<line x1="1145.4" x2="1145.4" y1="112.2" y2="631" stroke-width="2.2"/>
<line x1="1186.3" x2="1186.3" y1="112.2" y2="631" stroke-width="2.2"/>
<line x1="1227.3" x2="1227.3" y1="112.2" y2="631" stroke-width="2.2"/>
<line x1="1055.2" x2="1235.6" y1="607.4" y2="607.4" stroke-width="2.2"/>
<line x1="1055.2" x2="1235.6" y1="489.6" y2="489.6" stroke-width="2.2"/>
<line x1="1055.2" x2="1235.6" y1="371.8" y2="371.8" stroke-width="2.2"/>
<line x1="1055.2" x2="1235.6" y1="254" y2="254" stroke-width="2.2"/>
<line x1="1055.2" x2="1235.6" y1="136.2" y2="136.2" stroke-width="2.2"/>
</g>
<path d="M1063.4,607.4 L1063.4,140 C1063.8,139.4 1064.8,134.7 1065.7,136.2 C1066.6,137.7 1067.8,141.3 1069,149 C1070.2,156.6 1071.6,169.4 1072.9,182.2 C1074.2,194.9 1075.4,209.8 1076.7,225.6 C1078,241.3 1079.3,259.6 1080.6,276.7 C1081.8,293.7 1083.1,310.7 1084.4,327.7 C1085.7,344.8 1087,363.9 1088.2,378.8 C1089.5,393.7 1090.8,405.2 1092.1,417.1 C1093.4,429.1 1094.6,440.5 1095.9,450.3 C1097.2,460.1 1098.5,468.2 1099.8,475.9 C1101,483.5 1102.1,489.9 1103.6,496.3 C1105.1,502.7 1106.8,509.1 1108.7,514.2 C1110.6,519.3 1113,524.1 1115.1,527 C1117.3,529.8 1119.6,530.7 1121.5,531.5 C1123.5,532.4 1124.5,532.2 1126.7,532.1 C1128.8,531.9 1131.4,531.4 1134.3,530.8 C1137.3,530.1 1141.2,529.3 1144.6,528.2 C1148,527.2 1151.4,526.1 1154.8,524.4 C1158.2,522.7 1161.7,521.4 1165.1,518 C1168.5,514.6 1172.3,508.9 1175.3,504 C1178.3,499.1 1180.4,495.5 1183,488.6 C1185.6,481.8 1188.5,472.9 1190.7,463.1 C1192.8,453.3 1194.1,442.7 1195.8,429.9 C1197.5,417.1 1199.2,402.2 1200.9,386.5 C1202.6,370.7 1204.3,352.9 1206,335.4 C1207.8,318 1209.5,297.9 1211.2,281.8 C1212.9,265.6 1214.8,248.6 1216.3,238.4 C1217.8,228.1 1219,223.9 1220.1,220.5 C1221.3,217.1 1222.2,217.5 1223.2,217.9 C1224.2,218.4 1225.3,220.9 1226,223 C1226.7,225.2 1227.1,229.4 1227.3,230.7 L1227.3,607.4 Z" fill="#b3b3b3" fill-opacity="0.5" stroke="#a3a3a3" stroke-width="1.6"/>
<line x1="1126.9" x2="1126.9" y1="116.4" y2="631" stroke="#eea816" stroke-width="3.4" stroke-dasharray="12.2 11.8"/>
<rect x="1055.80" y="112.2" width="179.40" height="518.70" fill="none" stroke="#262626" stroke-width="1.15"/>
<line x1="1063.4" x2="1063.4" y1="631" y2="635.2" stroke="#000" stroke-width="1.5"/>
<text transform="translate(1063.4,645.4) rotate(-90)" y="8" font-size="22.9" text-anchor="end">0</text>
<line x1="1104.4" x2="1104.4" y1="631" y2="635.2" stroke="#000" stroke-width="1.5"/>
<text transform="translate(1104.4,645.4) rotate(-90)" y="8" font-size="22.9" text-anchor="end">0.25</text>
<line x1="1145.4" x2="1145.4" y1="631" y2="635.2" stroke="#000" stroke-width="1.5"/>
<text transform="translate(1145.4,645.4) rotate(-90)" y="8" font-size="22.9" text-anchor="end">0.5</text>
<line x1="1186.3" x2="1186.3" y1="631" y2="635.2" stroke="#000" stroke-width="1.5"/>
<text transform="translate(1186.3,645.4) rotate(-90)" y="8" font-size="22.9" text-anchor="end">0.75</text>
<line x1="1227.3" x2="1227.3" y1="631" y2="635.2" stroke="#000" stroke-width="1.5"/>
<text transform="translate(1227.3,645.4) rotate(-90)" y="8" font-size="22.9" text-anchor="end">1</text>
<rect x="1243.6" y="56.2" width="178.7" height="55.9" fill="#d0d0d0" stroke="#000" stroke-width="1.7"/>
<text x="1333" y="80" font-size="22.5" text-anchor="middle">Global KD in 2</text>
<text x="1333" y="104.3" font-size="22.5" text-anchor="middle">networks</text>
<g stroke="#ebebeb">
<line x1="1271.5" x2="1271.5" y1="112.2" y2="631" stroke-width="1.1"/>
<line x1="1312.5" x2="1312.5" y1="112.2" y2="631" stroke-width="1.1"/>
<line x1="1353.4" x2="1353.4" y1="112.2" y2="631" stroke-width="1.1"/>
<line x1="1394.4" x2="1394.4" y1="112.2" y2="631" stroke-width="1.1"/>
<line x1="1242.8" x2="1423.2" y1="548.5" y2="548.5" stroke-width="1.1"/>
<line x1="1242.8" x2="1423.2" y1="430.7" y2="430.7" stroke-width="1.1"/>
<line x1="1242.8" x2="1423.2" y1="312.9" y2="312.9" stroke-width="1.1"/>
<line x1="1242.8" x2="1423.2" y1="195.1" y2="195.1" stroke-width="1.1"/>
<line x1="1251" x2="1251" y1="112.2" y2="631" stroke-width="2.2"/>
<line x1="1292" x2="1292" y1="112.2" y2="631" stroke-width="2.2"/>
<line x1="1333" x2="1333" y1="112.2" y2="631" stroke-width="2.2"/>
<line x1="1373.9" x2="1373.9" y1="112.2" y2="631" stroke-width="2.2"/>
<line x1="1414.9" x2="1414.9" y1="112.2" y2="631" stroke-width="2.2"/>
<line x1="1242.8" x2="1423.2" y1="607.4" y2="607.4" stroke-width="2.2"/>
<line x1="1242.8" x2="1423.2" y1="489.6" y2="489.6" stroke-width="2.2"/>
<line x1="1242.8" x2="1423.2" y1="371.8" y2="371.8" stroke-width="2.2"/>
<line x1="1242.8" x2="1423.2" y1="254" y2="254" stroke-width="2.2"/>
<line x1="1242.8" x2="1423.2" y1="136.2" y2="136.2" stroke-width="2.2"/>
</g>
<path d="M1251,607.4 L1251,202.6 C1251.6,201.5 1253.3,194.9 1254.6,195.7 C1255.9,196.6 1257.6,201.5 1258.9,207.7 C1260.3,214 1261.5,223 1262.8,233.2 C1264.1,243.5 1265.3,256.2 1266.6,269 C1267.9,281.8 1269.2,295.8 1270.5,309.9 C1271.7,323.9 1273,339.7 1274.3,353.3 C1275.6,366.9 1276.9,378.8 1278.1,391.6 C1279.4,404.4 1280.7,418 1282,429.9 C1283.3,441.8 1284.5,453.3 1285.8,463.1 C1287.1,472.9 1288.4,481.8 1289.7,488.6 C1291,495.5 1292,499.3 1293.5,504 C1295,508.6 1296.7,513.2 1298.6,516.7 C1300.6,520.2 1302.7,523 1305,524.9 C1307.4,526.8 1309.9,527.7 1312.7,528.2 C1315.5,528.8 1318.5,528.4 1321.7,528.2 C1324.9,528 1328.7,527.6 1331.9,527 C1335.1,526.3 1338.3,525.5 1340.9,524.4 C1343.4,523.3 1345.2,522.3 1347.3,520.6 C1349.4,518.9 1351.8,516.7 1353.7,514.2 C1355.6,511.6 1357.3,508.6 1358.8,505.2 C1360.3,501.8 1361.2,499.1 1362.7,493.8 C1364.2,488.4 1366.1,481.8 1367.8,473.3 C1369.5,464.8 1371.2,454.2 1372.9,442.7 C1374.6,431.2 1376.3,418 1378,404.4 C1379.7,390.7 1381.4,376.7 1383.1,360.9 C1384.9,345.2 1386.6,327.3 1388.3,309.9 C1390,292.4 1391.7,274.1 1393.4,256.2 C1395.1,238.4 1396.8,218.4 1398.5,202.6 C1400.2,186.9 1402.1,172 1403.6,161.7 C1405.1,151.5 1406.4,145.6 1407.5,141.3 C1408.6,137.1 1409.3,136.2 1410.3,136.2 C1411.3,136.2 1412.6,139.2 1413.4,141.3 C1414.1,143.4 1414.6,147.7 1414.9,149 L1414.9,607.4 Z" fill="#b3b3b3" fill-opacity="0.5" stroke="#a3a3a3" stroke-width="1.6"/>
<line x1="1359.3" x2="1359.3" y1="116.4" y2="631" stroke="#eea816" stroke-width="3.4" stroke-dasharray="12.2 11.8"/>
<rect x="1243.40" y="112.2" width="179.40" height="518.70" fill="none" stroke="#262626" stroke-width="1.15"/>
<line x1="1251" x2="1251" y1="631" y2="635.2" stroke="#000" stroke-width="1.5"/>
<text transform="translate(1251,645.4) rotate(-90)" y="8" font-size="22.9" text-anchor="end">0</text>
<line x1="1292" x2="1292" y1="631" y2="635.2" stroke="#000" stroke-width="1.5"/>
<text transform="translate(1292,645.4) rotate(-90)" y="8" font-size="22.9" text-anchor="end">0.25</text>
<line x1="1333" x2="1333" y1="631" y2="635.2" stroke="#000" stroke-width="1.5"/>
<text transform="translate(1333,645.4) rotate(-90)" y="8" font-size="22.9" text-anchor="end">0.5</text>
<line x1="1373.9" x2="1373.9" y1="631" y2="635.2" stroke="#000" stroke-width="1.5"/>
<text transform="translate(1373.9,645.4) rotate(-90)" y="8" font-size="22.9" text-anchor="end">0.75</text>
<line x1="1414.9" x2="1414.9" y1="631" y2="635.2" stroke="#000" stroke-width="1.5"/>
<text transform="translate(1414.9,645.4) rotate(-90)" y="8" font-size="22.9" text-anchor="end">1</text>
<rect x="1431.2" y="56.2" width="178.7" height="55.9" fill="#d0d0d0" stroke="#000" stroke-width="1.7"/>
<text x="1520.6" y="80" font-size="22.5" text-anchor="middle">Global KD in 3</text>
<text x="1520.6" y="104.3" font-size="22.5" text-anchor="middle">networks</text>
<g stroke="#ebebeb">
<line x1="1459.1" x2="1459.1" y1="112.2" y2="631" stroke-width="1.1"/>
<line x1="1500.1" x2="1500.1" y1="112.2" y2="631" stroke-width="1.1"/>
<line x1="1541" x2="1541" y1="112.2" y2="631" stroke-width="1.1"/>
<line x1="1582" x2="1582" y1="112.2" y2="631" stroke-width="1.1"/>
<line x1="1430.4" x2="1610.8" y1="548.5" y2="548.5" stroke-width="1.1"/>
<line x1="1430.4" x2="1610.8" y1="430.7" y2="430.7" stroke-width="1.1"/>
<line x1="1430.4" x2="1610.8" y1="312.9" y2="312.9" stroke-width="1.1"/>
<line x1="1430.4" x2="1610.8" y1="195.1" y2="195.1" stroke-width="1.1"/>
<line x1="1438.6" x2="1438.6" y1="112.2" y2="631" stroke-width="2.2"/>
<line x1="1479.6" x2="1479.6" y1="112.2" y2="631" stroke-width="2.2"/>
<line x1="1520.6" x2="1520.6" y1="112.2" y2="631" stroke-width="2.2"/>
<line x1="1561.5" x2="1561.5" y1="112.2" y2="631" stroke-width="2.2"/>
<line x1="1602.5" x2="1602.5" y1="112.2" y2="631" stroke-width="2.2"/>
<line x1="1430.4" x2="1610.8" y1="607.4" y2="607.4" stroke-width="2.2"/>
<line x1="1430.4" x2="1610.8" y1="489.6" y2="489.6" stroke-width="2.2"/>
<line x1="1430.4" x2="1610.8" y1="371.8" y2="371.8" stroke-width="2.2"/>
<line x1="1430.4" x2="1610.8" y1="254" y2="254" stroke-width="2.2"/>
<line x1="1430.4" x2="1610.8" y1="136.2" y2="136.2" stroke-width="2.2"/>
</g>
<path d="M1438.6,607.4 L1438.6,207.7 C1439.2,206.8 1441.1,201.2 1442.4,202.1 C1443.8,202.9 1445.4,207.6 1446.8,212.8 C1448.2,218 1449.4,224.7 1450.6,233.2 C1451.9,241.8 1453.2,252.8 1454.5,263.9 C1455.8,275 1457,287.7 1458.3,299.7 C1459.6,311.6 1460.9,323.5 1462.2,335.4 C1463.4,347.3 1464.7,359.2 1466,371.2 C1467.3,383.1 1468.6,395.8 1469.8,406.9 C1471.1,418 1472.4,428.2 1473.7,437.6 C1475,446.9 1476.2,456.7 1477.5,463.1 C1478.8,469.5 1479.9,472 1481.4,475.9 C1482.9,479.7 1484.8,483.7 1486.5,486.1 C1488.2,488.4 1490,489.2 1491.6,489.9 C1493.2,490.6 1494.7,490.9 1496.2,490.4 C1497.7,490 1499,488.9 1500.6,487.4 C1502.2,485.8 1503.8,483.5 1505.7,481 C1507.6,478.4 1510,474.8 1512.1,472 C1514.2,469.3 1516.4,466.4 1518.5,464.4 C1520.6,462.4 1522.6,461.1 1524.9,460 C1527.3,459 1530,458.8 1532.6,458 C1535.1,457.2 1537.9,457.1 1540.3,455.4 C1542.6,453.7 1544.5,452 1546.7,447.8 C1548.8,443.5 1551.2,437.1 1553.1,429.9 C1555,422.7 1556.5,413.7 1558.2,404.4 C1559.9,395 1561.6,385.2 1563.3,373.7 C1565,362.2 1566.7,348.6 1568.4,335.4 C1570.1,322.2 1571.9,309 1573.6,294.5 C1575.3,280.1 1577,263.9 1578.7,248.6 C1580.4,233.2 1582.1,217.1 1583.8,202.6 C1585.5,188.1 1587.3,172.2 1588.9,161.7 C1590.5,151.3 1592.3,144.3 1593.5,140 C1594.8,135.8 1595.6,136.2 1596.6,136.2 C1597.6,136.2 1598.7,137.7 1599.7,140 C1600.7,142.4 1602,148.5 1602.5,150.2 L1602.5,607.4 Z" fill="#b3b3b3" fill-opacity="0.5" stroke="#a3a3a3" stroke-width="1.6"/>
<line x1="1532.8" x2="1532.8" y1="116.4" y2="631" stroke="#eea816" stroke-width="3.4" stroke-dasharray="12.2 11.8"/>
<rect x="1431.00" y="112.2" width="179.40" height="518.70" fill="none" stroke="#262626" stroke-width="1.15"/>
<line x1="1438.6" x2="1438.6" y1="631" y2="635.2" stroke="#000" stroke-width="1.5"/>
<text transform="translate(1438.6,645.4) rotate(-90)" y="8" font-size="22.9" text-anchor="end">0</text>
<line x1="1479.6" x2="1479.6" y1="631" y2="635.2" stroke="#000" stroke-width="1.5"/>
<text transform="translate(1479.6,645.4) rotate(-90)" y="8" font-size="22.9" text-anchor="end">0.25</text>
<line x1="1520.6" x2="1520.6" y1="631" y2="635.2" stroke="#000" stroke-width="1.5"/>
<text transform="translate(1520.6,645.4) rotate(-90)" y="8" font-size="22.9" text-anchor="end">0.5</text>
<line x1="1561.5" x2="1561.5" y1="631" y2="635.2" stroke="#000" stroke-width="1.5"/>
<text transform="translate(1561.5,645.4) rotate(-90)" y="8" font-size="22.9" text-anchor="end">0.75</text>
<line x1="1602.5" x2="1602.5" y1="631" y2="635.2" stroke="#000" stroke-width="1.5"/>
<text transform="translate(1602.5,645.4) rotate(-90)" y="8" font-size="22.9" text-anchor="end">1</text>
<rect x="1618.8" y="56.2" width="178.7" height="55.9" fill="#d0d0d0" stroke="#000" stroke-width="1.7"/>
<text x="1708.2" y="80" font-size="22.5" text-anchor="middle">Global KD in 4</text>
<text x="1708.2" y="104.3" font-size="22.5" text-anchor="middle">networks</text>
<g stroke="#ebebeb">
<line x1="1646.7" x2="1646.7" y1="112.2" y2="631" stroke-width="1.1"/>
<line x1="1687.7" x2="1687.7" y1="112.2" y2="631" stroke-width="1.1"/>
<line x1="1728.6" x2="1728.6" y1="112.2" y2="631" stroke-width="1.1"/>
<line x1="1769.6" x2="1769.6" y1="112.2" y2="631" stroke-width="1.1"/>
<line x1="1618" x2="1798.4" y1="548.5" y2="548.5" stroke-width="1.1"/>
<line x1="1618" x2="1798.4" y1="430.7" y2="430.7" stroke-width="1.1"/>
<line x1="1618" x2="1798.4" y1="312.9" y2="312.9" stroke-width="1.1"/>
<line x1="1618" x2="1798.4" y1="195.1" y2="195.1" stroke-width="1.1"/>
<line x1="1626.2" x2="1626.2" y1="112.2" y2="631" stroke-width="2.2"/>
<line x1="1667.2" x2="1667.2" y1="112.2" y2="631" stroke-width="2.2"/>
<line x1="1708.2" x2="1708.2" y1="112.2" y2="631" stroke-width="2.2"/>
<line x1="1749.1" x2="1749.1" y1="112.2" y2="631" stroke-width="2.2"/>
<line x1="1790.1" x2="1790.1" y1="112.2" y2="631" stroke-width="2.2"/>
<line x1="1618" x2="1798.4" y1="607.4" y2="607.4" stroke-width="2.2"/>
<line x1="1618" x2="1798.4" y1="489.6" y2="489.6" stroke-width="2.2"/>
<line x1="1618" x2="1798.4" y1="371.8" y2="371.8" stroke-width="2.2"/>
<line x1="1618" x2="1798.4" y1="254" y2="254" stroke-width="2.2"/>
<line x1="1618" x2="1798.4" y1="136.2" y2="136.2" stroke-width="2.2"/>
</g>
<path d="M1626.2,607.4 L1626.2,228.1 C1627.4,226.2 1631.7,217.5 1633.6,216.6 C1635.6,215.8 1636.4,218.1 1638,223 C1639.6,227.9 1641.4,237.5 1643.1,246 C1644.8,254.5 1646.5,263.9 1648.2,274.1 C1649.9,284.3 1651.6,297.1 1653.3,307.3 C1655.1,317.5 1656.8,326 1658.5,335.4 C1660.2,344.8 1661.9,354.1 1663.6,363.5 C1665.3,372.9 1667,382.7 1668.7,391.6 C1670.4,400.5 1672.1,409 1673.8,417.1 C1675.5,425.2 1677.2,433.1 1679,440.1 C1680.7,447.1 1682.4,453.7 1684.1,459.3 C1685.8,464.8 1687.5,469.3 1689.2,473.3 C1690.9,477.4 1692.6,480.8 1694.3,483.5 C1696,486.3 1697.7,488.3 1699.4,489.9 C1701.2,491.5 1702.9,492.5 1704.6,493.2 C1706.3,494 1708.2,494.3 1709.7,494.5 C1711.2,494.7 1712.2,494.9 1713.5,494.5 C1714.8,494.2 1715.9,493.9 1717.4,492.5 C1718.9,491.1 1720.8,489.3 1722.5,486.1 C1724.2,482.9 1725.9,478.6 1727.6,473.3 C1729.3,468 1731,461.4 1732.7,454.2 C1734.4,446.9 1736.1,439.1 1737.9,429.9 C1739.6,420.8 1741.3,410.3 1743,399.3 C1744.7,388.2 1746.4,376.7 1748.1,363.5 C1749.8,350.3 1751.5,335 1753.2,320.1 C1754.9,305.2 1756.6,289.9 1758.3,274.1 C1760.1,258.4 1761.8,240.5 1763.5,225.6 C1765.2,210.7 1766.9,196.6 1768.6,184.7 C1770.3,172.8 1772,161.7 1773.7,154.1 C1775.4,146.4 1777,141.7 1778.8,138.8 C1780.6,135.8 1783,136 1784.5,136.2 C1786,136.4 1786.9,138.3 1787.8,140 C1788.7,141.7 1789.7,145.4 1790.1,146.4 L1790.1,607.4 Z" fill="#b3b3b3" fill-opacity="0.5" stroke="#a3a3a3" stroke-width="1.6"/>
<line x1="1732.4" x2="1732.4" y1="116.4" y2="631" stroke="#eea816" stroke-width="3.4" stroke-dasharray="12.2 11.8"/>
<rect x="1618.60" y="112.2" width="179.40" height="518.70" fill="none" stroke="#262626" stroke-width="1.15"/>
<line x1="1626.2" x2="1626.2" y1="631" y2="635.2" stroke="#000" stroke-width="1.5"/>
<text transform="translate(1626.2,645.4) rotate(-90)" y="8" font-size="22.9" text-anchor="end">0</text>
<line x1="1667.2" x2="1667.2" y1="631" y2="635.2" stroke="#000" stroke-width="1.5"/>
<text transform="translate(1667.2,645.4) rotate(-90)" y="8" font-size="22.9" text-anchor="end">0.25</text>
<line x1="1708.2" x2="1708.2" y1="631" y2="635.2" stroke="#000" stroke-width="1.5"/>
<text transform="translate(1708.2,645.4) rotate(-90)" y="8" font-size="22.9" text-anchor="end">0.5</text>
<line x1="1749.1" x2="1749.1" y1="631" y2="635.2" stroke="#000" stroke-width="1.5"/>
<text transform="translate(1749.1,645.4) rotate(-90)" y="8" font-size="22.9" text-anchor="end">0.75</text>
<line x1="1790.1" x2="1790.1" y1="631" y2="635.2" stroke="#000" stroke-width="1.5"/>
<text transform="translate(1790.1,645.4) rotate(-90)" y="8" font-size="22.9" text-anchor="end">1</text>
<rect x="1806.4" y="56.2" width="178.7" height="55.9" fill="#d0d0d0" stroke="#000" stroke-width="1.7"/>
<text x="1895.8" y="80" font-size="22.5" text-anchor="middle">Global KD in 5</text>
<text x="1895.8" y="104.3" font-size="22.5" text-anchor="middle">or more networks</text>
<g stroke="#ebebeb">
<line x1="1834.3" x2="1834.3" y1="112.2" y2="631" stroke-width="1.1"/>
<line x1="1875.3" x2="1875.3" y1="112.2" y2="631" stroke-width="1.1"/>
<line x1="1916.2" x2="1916.2" y1="112.2" y2="631" stroke-width="1.1"/>
<line x1="1957.2" x2="1957.2" y1="112.2" y2="631" stroke-width="1.1"/>
<line x1="1805.6" x2="1986" y1="548.5" y2="548.5" stroke-width="1.1"/>
<line x1="1805.6" x2="1986" y1="430.7" y2="430.7" stroke-width="1.1"/>
<line x1="1805.6" x2="1986" y1="312.9" y2="312.9" stroke-width="1.1"/>
<line x1="1805.6" x2="1986" y1="195.1" y2="195.1" stroke-width="1.1"/>
<line x1="1813.8" x2="1813.8" y1="112.2" y2="631" stroke-width="2.2"/>
<line x1="1854.8" x2="1854.8" y1="112.2" y2="631" stroke-width="2.2"/>
<line x1="1895.8" x2="1895.8" y1="112.2" y2="631" stroke-width="2.2"/>
<line x1="1936.7" x2="1936.7" y1="112.2" y2="631" stroke-width="2.2"/>
<line x1="1977.7" x2="1977.7" y1="112.2" y2="631" stroke-width="2.2"/>
<line x1="1805.6" x2="1986" y1="607.4" y2="607.4" stroke-width="2.2"/>
<line x1="1805.6" x2="1986" y1="489.6" y2="489.6" stroke-width="2.2"/>
<line x1="1805.6" x2="1986" y1="371.8" y2="371.8" stroke-width="2.2"/>
<line x1="1805.6" x2="1986" y1="254" y2="254" stroke-width="2.2"/>
<line x1="1805.6" x2="1986" y1="136.2" y2="136.2" stroke-width="2.2"/>
</g>
<path d="M1813.8,607.4 L1813.8,447.8 C1814.6,447.1 1817.1,444.2 1818.7,443.9 C1820.2,443.7 1821.7,444.8 1823.3,446.5 C1824.9,448.2 1826.5,450.5 1828.4,454.2 C1830.3,457.8 1832.7,463.3 1834.8,468.2 C1836.9,473.1 1839.1,478.4 1841.2,483.5 C1843.3,488.6 1845.5,494.2 1847.6,498.9 C1849.7,503.5 1851.9,507.8 1854,511.6 C1856.1,515.5 1858.3,518.9 1860.4,521.8 C1862.5,524.8 1864.7,527.4 1866.8,529.5 C1868.9,531.6 1871.1,533.4 1873.2,534.6 C1875.3,535.8 1877.9,536.2 1879.6,536.7 C1881.3,537.1 1882,537.4 1883.5,537.2 C1885,536.9 1886.9,536.4 1888.6,535.1 C1890.3,533.8 1892,532.1 1893.7,529.5 C1895.4,526.9 1896.9,524 1898.8,519.3 C1900.7,514.6 1903.3,507.8 1905.2,501.4 C1907.1,495 1908.6,488.6 1910.3,481 C1912.1,473.3 1913.8,464.8 1915.5,455.4 C1917.2,446.1 1918.9,435.4 1920.6,424.8 C1922.3,414.2 1924,403.1 1925.7,391.6 C1927.4,380.1 1929.1,368.6 1930.8,355.8 C1932.5,343.1 1934.2,329 1936,315 C1937.7,300.9 1939.4,285.6 1941.1,271.6 C1942.8,257.5 1944.5,243.9 1946.2,230.7 C1947.9,217.5 1949.6,203.5 1951.3,192.4 C1953,181.3 1954.7,172 1956.4,164.3 C1958.2,156.6 1959.9,150.9 1961.6,146.4 C1963.3,141.9 1965,139.2 1966.7,137.5 C1968.4,135.8 1970.4,136.1 1971.8,136.2 C1973.2,136.3 1973.9,137 1974.9,138.2 C1975.9,139.5 1977.2,142.9 1977.7,143.9 L1977.7,607.4 Z" fill="#b3b3b3" fill-opacity="0.5" stroke="#a3a3a3" stroke-width="1.6"/>
<line x1="1975.7" x2="1975.7" y1="116.4" y2="631" stroke="#eea816" stroke-width="3.4" stroke-dasharray="12.2 11.8"/>
<rect x="1806.20" y="112.2" width="179.40" height="518.70" fill="none" stroke="#262626" stroke-width="1.15"/>
<line x1="1813.8" x2="1813.8" y1="631" y2="635.2" stroke="#000" stroke-width="1.5"/>
<text transform="translate(1813.8,645.4) rotate(-90)" y="8" font-size="22.9" text-anchor="end">0</text>
<line x1="1854.8" x2="1854.8" y1="631" y2="635.2" stroke="#000" stroke-width="1.5"/>
<text transform="translate(1854.8,645.4) rotate(-90)" y="8" font-size="22.9" text-anchor="end">0.25</text>
<line x1="1895.8" x2="1895.8" y1="631" y2="635.2" stroke="#000" stroke-width="1.5"/>
<text transform="translate(1895.8,645.4) rotate(-90)" y="8" font-size="22.9" text-anchor="end">0.5</text>
<line x1="1936.7" x2="1936.7" y1="631" y2="635.2" stroke="#000" stroke-width="1.5"/>
<text transform="translate(1936.7,645.4) rotate(-90)" y="8" font-size="22.9" text-anchor="end">0.75</text>
<line x1="1977.7" x2="1977.7" y1="631" y2="635.2" stroke="#000" stroke-width="1.5"/>
<text transform="translate(1977.7,645.4) rotate(-90)" y="8" font-size="22.9" text-anchor="end">1</text>
<line x1="864.2" x2="868.3" y1="607.4" y2="607.4" stroke="#000" stroke-width="1.5"/>
<text x="857" y="615.5" font-size="23.1" text-anchor="end">0</text>
<line x1="864.2" x2="868.3" y1="489.6" y2="489.6" stroke="#000" stroke-width="1.5"/>
<text x="857" y="497.7" font-size="23.1" text-anchor="end">0.25</text>
<line x1="864.2" x2="868.3" y1="371.8" y2="371.8" stroke="#000" stroke-width="1.5"/>
<text x="857" y="379.9" font-size="23.1" text-anchor="end">0.5</text>
<line x1="864.2" x2="868.3" y1="254" y2="254" stroke="#000" stroke-width="1.5"/>
<text x="857" y="262.1" font-size="23.1" text-anchor="end">0.75</text>
<line x1="864.2" x2="868.3" y1="136.2" y2="136.2" stroke="#000" stroke-width="1.5"/>
<text x="857" y="144.3" font-size="23.1" text-anchor="end">1</text>
<text transform="translate(797.9,358.1) rotate(-90)" y="0" font-size="23" text-anchor="middle">Scaled density</text>
<text x="1429.9" y="726.7" font-size="23.2" text-anchor="middle">pLI</text>
<text x="-1.3" y="778.3" font-size="42" font-weight="bold">c</text>
<text x="1048" y="788" font-size="29.2" text-anchor="middle">KDs for all trait DE signatures across three networks</text>
<g stroke="#ebebeb">
<line x1="88.7" x2="2002.1" y1="1223.4" y2="1223.4" stroke-width="1.1"/>
<line x1="88.7" x2="2002.1" y1="1036.2" y2="1036.2" stroke-width="1.1"/>
<line x1="88.7" x2="2002.1" y1="849.2" y2="849.2" stroke-width="1.1"/>
<line x1="88.7" x2="2002.1" y1="1316.9" y2="1316.9" stroke-width="2.2"/>
<line x1="88.7" x2="2002.1" y1="1129.8" y2="1129.8" stroke-width="2.2"/>
<line x1="88.7" x2="2002.1" y1="942.7" y2="942.7" stroke-width="2.2"/>
<line x1="129.4" x2="129.4" y1="806.7" y2="1340.4" stroke-width="2.2"/>
<line x1="197.3" x2="197.3" y1="806.7" y2="1340.4" stroke-width="2.2"/>
<line x1="265.1" x2="265.1" y1="806.7" y2="1340.4" stroke-width="2.2"/>
<line x1="333" x2="333" y1="806.7" y2="1340.4" stroke-width="2.2"/>
<line x1="400.8" x2="400.8" y1="806.7" y2="1340.4" stroke-width="2.2"/>
<line x1="468.7" x2="468.7" y1="806.7" y2="1340.4" stroke-width="2.2"/>
<line x1="536.5" x2="536.5" y1="806.7" y2="1340.4" stroke-width="2.2"/>
<line x1="604.4" x2="604.4" y1="806.7" y2="1340.4" stroke-width="2.2"/>
<line x1="672.2" x2="672.2" y1="806.7" y2="1340.4" stroke-width="2.2"/>
<line x1="740.1" x2="740.1" y1="806.7" y2="1340.4" stroke-width="2.2"/>
<line x1="807.9" x2="807.9" y1="806.7" y2="1340.4" stroke-width="2.2"/>
<line x1="875.8" x2="875.8" y1="806.7" y2="1340.4" stroke-width="2.2"/>
<line x1="943.6" x2="943.6" y1="806.7" y2="1340.4" stroke-width="2.2"/>
<line x1="1011.5" x2="1011.5" y1="806.7" y2="1340.4" stroke-width="2.2"/>
<line x1="1079.3" x2="1079.3" y1="806.7" y2="1340.4" stroke-width="2.2"/>
<line x1="1147.2" x2="1147.2" y1="806.7" y2="1340.4" stroke-width="2.2"/>
<line x1="1215" x2="1215" y1="806.7" y2="1340.4" stroke-width="2.2"/>
<line x1="1282.9" x2="1282.9" y1="806.7" y2="1340.4" stroke-width="2.2"/>
<line x1="1350.7" x2="1350.7" y1="806.7" y2="1340.4" stroke-width="2.2"/>
<line x1="1418.6" x2="1418.6" y1="806.7" y2="1340.4" stroke-width="2.2"/>
<line x1="1486.4" x2="1486.4" y1="806.7" y2="1340.4" stroke-width="2.2"/>
<line x1="1554.3" x2="1554.3" y1="806.7" y2="1340.4" stroke-width="2.2"/>
<line x1="1622.1" x2="1622.1" y1="806.7" y2="1340.4" stroke-width="2.2"/>
<line x1="1690" x2="1690" y1="806.7" y2="1340.4" stroke-width="2.2"/>
<line x1="1757.8" x2="1757.8" y1="806.7" y2="1340.4" stroke-width="2.2"/>
<line x1="1825.7" x2="1825.7" y1="806.7" y2="1340.4" stroke-width="2.2"/>
<line x1="1893.5" x2="1893.5" y1="806.7" y2="1340.4" stroke-width="2.2"/>
<line x1="1961.4" x2="1961.4" y1="806.7" y2="1340.4" stroke-width="2.2"/>
</g>
<rect x="98.9" y="1017.5" width="61.1" height="299.4" fill="#6285bf"/>
<rect x="98.9" y="1073.7" width="61.1" height="243.2" fill="#822374"/>
<rect x="98.9" y="1223.4" width="61.1" height="93.6" fill="#e22a44"/>
<rect x="166.7" y="830.4" width="61.1" height="486.5" fill="#822374"/>
<rect x="166.7" y="1073.7" width="61.1" height="243.2" fill="#e22a44"/>
<rect x="234.6" y="830.4" width="61.1" height="486.5" fill="#822374"/>
<rect x="234.6" y="1073.7" width="61.1" height="243.2" fill="#e22a44"/>
<rect x="302.4" y="867.9" width="61.1" height="449" fill="#822374"/>
<rect x="302.4" y="1111.1" width="61.1" height="205.8" fill="#e22a44"/>
<rect x="370.3" y="905.3" width="61.1" height="411.6" fill="#822374"/>
<rect x="370.3" y="1073.7" width="61.1" height="243.2" fill="#e22a44"/>
<rect x="438.1" y="1055" width="61.1" height="261.9" fill="#822374"/>
<rect x="438.1" y="1111.1" width="61.1" height="205.8" fill="#e22a44"/>
<rect x="506" y="1092.4" width="61.1" height="224.5" fill="#822374"/>
<rect x="506" y="1260.8" width="61.1" height="56.1" fill="#e22a44"/>
<rect x="573.8" y="1092.4" width="61.1" height="224.5" fill="#822374"/>
<rect x="573.8" y="1148.5" width="61.1" height="168.4" fill="#e22a44"/>
<rect x="641.7" y="1129.8" width="61.1" height="187.1" fill="#822374"/>
<rect x="641.7" y="1223.4" width="61.1" height="93.6" fill="#e22a44"/>
<rect x="709.5" y="1129.8" width="61.1" height="187.1" fill="#822374"/>
<rect x="709.5" y="1223.4" width="61.1" height="93.6" fill="#e22a44"/>
<rect x="777.4" y="1148.5" width="61.1" height="168.4" fill="#822374"/>
<rect x="777.4" y="1242.1" width="61.1" height="74.8" fill="#e22a44"/>
<rect x="845.2" y="1167.2" width="61.1" height="149.7" fill="#822374"/>
<rect x="845.2" y="1260.8" width="61.1" height="56.1" fill="#e22a44"/>
<rect x="913.1" y="1167.2" width="61.1" height="149.7" fill="#822374"/>
<rect x="913.1" y="1260.8" width="61.1" height="56.1" fill="#e22a44"/>
<rect x="980.9" y="1204.6" width="61.1" height="112.3" fill="#822374"/>
<rect x="980.9" y="1260.8" width="61.1" height="56.1" fill="#e22a44"/>
<rect x="1048.8" y="1204.6" width="61.1" height="112.3" fill="#822374"/>
<rect x="1048.8" y="1260.8" width="61.1" height="56.1" fill="#e22a44"/>
<rect x="1116.6" y="1204.6" width="61.1" height="112.3" fill="#822374"/>
<rect x="1116.6" y="1260.8" width="61.1" height="56.1" fill="#e22a44"/>
<rect x="1184.5" y="1204.6" width="61.1" height="112.3" fill="#822374"/>
<rect x="1184.5" y="1260.8" width="61.1" height="56.1" fill="#e22a44"/>
<rect x="1252.3" y="1204.6" width="61.1" height="112.3" fill="#822374"/>
<rect x="1252.3" y="1223.4" width="61.1" height="93.6" fill="#e22a44"/>
<rect x="1320.2" y="1204.6" width="61.1" height="112.3" fill="#822374"/>
<rect x="1320.2" y="1260.8" width="61.1" height="56.1" fill="#e22a44"/>
<rect x="1388" y="1204.6" width="61.1" height="112.3" fill="#822374"/>
<rect x="1388" y="1260.8" width="61.1" height="56.1" fill="#e22a44"/>
<rect x="1455.9" y="1204.6" width="61.1" height="112.3" fill="#822374"/>
<rect x="1455.9" y="1260.8" width="61.1" height="56.1" fill="#e22a44"/>
<rect x="1523.8" y="1242.1" width="61.1" height="74.8" fill="#6285bf"/>
<rect x="1523.8" y="1279.5" width="61.1" height="37.4" fill="#822374"/>
<rect x="1591.6" y="1242.1" width="61.1" height="74.8" fill="#6285bf"/>
<rect x="1591.6" y="1279.5" width="61.1" height="37.4" fill="#822374"/>
<rect x="1659.5" y="1242.1" width="61.1" height="74.8" fill="#6285bf"/>
<rect x="1659.5" y="1279.5" width="61.1" height="37.4" fill="#822374"/>
<rect x="1727.3" y="1242.1" width="61.1" height="74.8" fill="#6285bf"/>
<rect x="1727.3" y="1279.5" width="61.1" height="37.4" fill="#822374"/>
<rect x="1795.2" y="1242.1" width="61.1" height="74.8" fill="#6285bf"/>
<rect x="1795.2" y="1279.5" width="61.1" height="37.4" fill="#822374"/>
<rect x="1863" y="1242.1" width="61.1" height="74.8" fill="#822374"/>
<rect x="1863" y="1298.2" width="61.1" height="18.7" fill="#e22a44"/>
<rect x="1930.9" y="1260.8" width="61.1" height="56.1" fill="#6285bf"/>
<rect x="1930.9" y="1298.2" width="61.1" height="18.7" fill="#822374"/>
<rect x="1749.5" y="821.8" width="226" height="155" fill="#fff"/>
<text x="1761" y="860" font-size="25.1">Network</text>
<rect x="1761.5" y="869.8" width="30.2" height="29.9" fill="#6285bf"/>
<text x="1805.8" y="893.8" font-size="25.1">Gene</text>
<rect x="1761.5" y="902" width="30.2" height="30.3" fill="#e22a44"/>
<text x="1805.8" y="926.2" font-size="25.1">Protein</text>
<rect x="1761.5" y="935" width="30.2" height="30" fill="#822374"/>
<text x="1805.8" y="959" font-size="25.1">Multiscale</text>
<rect x="89.2" y="807.3" width="1912" height="533.1" fill="none" stroke="#5a5d61" stroke-width="1.7"/>
<line x1="83.7" x2="88.7" y1="1316.9" y2="1316.9" stroke="#333" stroke-width="1.7"/>
<text x="72.7" y="1325.7" font-size="25" text-anchor="end">0</text>
<line x1="83.7" x2="88.7" y1="1129.8" y2="1129.8" stroke="#333" stroke-width="1.7"/>
<text x="72.7" y="1138.6" font-size="25" text-anchor="end">10</text>
<line x1="83.7" x2="88.7" y1="942.7" y2="942.7" stroke="#333" stroke-width="1.7"/>
<text x="72.7" y="951.5" font-size="25" text-anchor="end">20</text>
<line x1="129.4" x2="129.4" y1="1340.4" y2="1345.4" stroke="#333" stroke-width="1.7"/>
<text transform="translate(129.4,1356.8) rotate(-90) scale(1,1.020)" y="8.8" font-size="25.2" text-anchor="end" font-weight="bold">VGF</text>
<line x1="197.3" x2="197.3" y1="1340.4" y2="1345.4" stroke="#333" stroke-width="1.7"/>
<text transform="translate(197.3,1356.8) rotate(-90) scale(1,1.020)" y="8.8" font-size="25.2" text-anchor="end">MAOB</text>
<line x1="265.1" x2="265.1" y1="1340.4" y2="1345.4" stroke="#333" stroke-width="1.7"/>
<text transform="translate(265.1,1356.8) rotate(-90) scale(1,1.020)" y="8.8" font-size="25.2" text-anchor="end">PLEC</text>
<line x1="333" x2="333" y1="1340.4" y2="1345.4" stroke="#333" stroke-width="1.7"/>
<text transform="translate(333,1356.8) rotate(-90) scale(1,1.020)" y="8.8" font-size="25.2" text-anchor="end">HSPB1</text>
<line x1="400.8" x2="400.8" y1="1340.4" y2="1345.4" stroke="#333" stroke-width="1.7"/>
<text transform="translate(400.8,1356.8) rotate(-90) scale(1,1.020)" y="8.8" font-size="25.2" text-anchor="end">ANXA5</text>
<line x1="468.7" x2="468.7" y1="1340.4" y2="1345.4" stroke="#333" stroke-width="1.7"/>
<text transform="translate(468.7,1356.8) rotate(-90) scale(1,1.020)" y="8.8" font-size="25.2" text-anchor="end">GSN</text>
<line x1="536.5" x2="536.5" y1="1340.4" y2="1345.4" stroke="#333" stroke-width="1.7"/>
<text transform="translate(536.5,1356.8) rotate(-90) scale(1,1.020)" y="8.8" font-size="25.2" text-anchor="end">GFAP</text>
<line x1="604.4" x2="604.4" y1="1340.4" y2="1345.4" stroke="#333" stroke-width="1.7"/>
<text transform="translate(604.4,1356.8) rotate(-90) scale(1,1.020)" y="8.8" font-size="25.2" text-anchor="end">MSN</text>
<line x1="672.2" x2="672.2" y1="1340.4" y2="1345.4" stroke="#333" stroke-width="1.7"/>
<text transform="translate(672.2,1356.8) rotate(-90) scale(1,1.020)" y="8.8" font-size="25.2" text-anchor="end">NDUFA9</text>
<line x1="740.1" x2="740.1" y1="1340.4" y2="1345.4" stroke="#333" stroke-width="1.7"/>
<text transform="translate(740.1,1356.8) rotate(-90) scale(1,1.020)" y="8.8" font-size="25.2" text-anchor="end">NDUFS1</text>
<line x1="807.9" x2="807.9" y1="1340.4" y2="1345.4" stroke="#333" stroke-width="1.7"/>
<text transform="translate(807.9,1356.8) rotate(-90) scale(1,1.020)" y="8.8" font-size="25.2" text-anchor="end">NDUFS2</text>
<line x1="875.8" x2="875.8" y1="1340.4" y2="1345.4" stroke="#333" stroke-width="1.7"/>
<text transform="translate(875.8,1356.8) rotate(-90) scale(1,1.020)" y="8.8" font-size="25.2" text-anchor="end">NDUFA10</text>
<line x1="943.6" x2="943.6" y1="1340.4" y2="1345.4" stroke="#333" stroke-width="1.7"/>
<text transform="translate(943.6,1356.8) rotate(-90) scale(1,1.020)" y="8.8" font-size="25.2" text-anchor="end">PLCD1</text>
<line x1="1011.5" x2="1011.5" y1="1340.4" y2="1345.4" stroke="#333" stroke-width="1.7"/>
<text transform="translate(1011.5,1356.8) rotate(-90) scale(1,1.020)" y="8.8" font-size="25.2" text-anchor="end">ATP6V0A1</text>
<line x1="1079.3" x2="1079.3" y1="1340.4" y2="1345.4" stroke="#333" stroke-width="1.7"/>
<text transform="translate(1079.3,1356.8) rotate(-90) scale(1,1.020)" y="8.8" font-size="25.2" text-anchor="end">CLTC</text>
<line x1="1147.2" x2="1147.2" y1="1340.4" y2="1345.4" stroke="#333" stroke-width="1.7"/>
<text transform="translate(1147.2,1356.8) rotate(-90) scale(1,1.020)" y="8.8" font-size="25.2" text-anchor="end">DLG4</text>
<line x1="1215" x2="1215" y1="1340.4" y2="1345.4" stroke="#333" stroke-width="1.7"/>
<text transform="translate(1215,1356.8) rotate(-90) scale(1,1.020)" y="8.8" font-size="25.2" text-anchor="end">HK1</text>
<line x1="1282.9" x2="1282.9" y1="1340.4" y2="1345.4" stroke="#333" stroke-width="1.7"/>
<text transform="translate(1282.9,1356.8) rotate(-90) scale(1,1.020)" y="8.8" font-size="25.2" text-anchor="end">NDUFV1</text>
<line x1="1350.7" x2="1350.7" y1="1340.4" y2="1345.4" stroke="#333" stroke-width="1.7"/>
<text transform="translate(1350.7,1356.8) rotate(-90) scale(1,1.020)" y="8.8" font-size="25.2" text-anchor="end">SEPT5</text>
<line x1="1418.6" x2="1418.6" y1="1340.4" y2="1345.4" stroke="#333" stroke-width="1.7"/>
<text transform="translate(1418.6,1356.8) rotate(-90) scale(1,1.020)" y="8.8" font-size="25.2" text-anchor="end">SYNGAP1</text>
<line x1="1486.4" x2="1486.4" y1="1340.4" y2="1345.4" stroke="#333" stroke-width="1.7"/>
<text transform="translate(1486.4,1356.8) rotate(-90) scale(1,1.020)" y="8.8" font-size="25.2" text-anchor="end">TAGLN3</text>
<line x1="1554.3" x2="1554.3" y1="1340.4" y2="1345.4" stroke="#333" stroke-width="1.7"/>
<text transform="translate(1554.3,1356.8) rotate(-90) scale(1,1.020)" y="8.8" font-size="25.2" text-anchor="end">GATAD2B</text>
<line x1="1622.1" x2="1622.1" y1="1340.4" y2="1345.4" stroke="#333" stroke-width="1.7"/>
<text transform="translate(1622.1,1356.8) rotate(-90) scale(1,1.020)" y="8.8" font-size="25.2" text-anchor="end">KCNN2</text>
<line x1="1690" x2="1690" y1="1340.4" y2="1345.4" stroke="#333" stroke-width="1.7"/>
<text transform="translate(1690,1356.8) rotate(-90) scale(1,1.020)" y="8.8" font-size="25.2" text-anchor="end">KIF1B</text>
<line x1="1757.8" x2="1757.8" y1="1340.4" y2="1345.4" stroke="#333" stroke-width="1.7"/>
<text transform="translate(1757.8,1356.8) rotate(-90) scale(1,1.020)" y="8.8" font-size="25.2" text-anchor="end">MLIP</text>
<line x1="1825.7" x2="1825.7" y1="1340.4" y2="1345.4" stroke="#333" stroke-width="1.7"/>
<text transform="translate(1825.7,1356.8) rotate(-90) scale(1,1.020)" y="8.8" font-size="25.2" text-anchor="end">REST</text>
<line x1="1893.5" x2="1893.5" y1="1340.4" y2="1345.4" stroke="#333" stroke-width="1.7"/>
<text transform="translate(1893.5,1356.8) rotate(-90) scale(1,1.020)" y="8.8" font-size="25.2" text-anchor="end">CD44</text>
<line x1="1961.4" x2="1961.4" y1="1340.4" y2="1345.4" stroke="#333" stroke-width="1.7"/>
<text transform="translate(1961.4,1356.8) rotate(-90) scale(1,1.020)" y="8.8" font-size="25.2" text-anchor="end">GSPT1</text>
<text transform="translate(21,1070.4) rotate(-90)" y="0" font-size="24.5" text-anchor="middle">Total KD appearances</text>
<text x="1045.8" y="1514.7" font-size="25.5" text-anchor="middle">KD</text>
<text x="-0.7" y="1588.4" font-size="42" font-weight="bold">d</text>
<text x="1062" y="1597" font-size="29.2" text-anchor="middle">Multiscale network KDs for all trait DE signatures</text>
<g stroke="#ebebeb">
<line x1="122.2" x2="2001.5" y1="2039.8" y2="2039.8" stroke-width="1.1"/>
<line x1="122.2" x2="2001.5" y1="1848.2" y2="1848.2" stroke-width="1.1"/>
<line x1="122.2" x2="2001.5" y1="1656.8" y2="1656.8" stroke-width="1.1"/>
<line x1="122.2" x2="2001.5" y1="2135.5" y2="2135.5" stroke-width="2.2"/>
<line x1="122.2" x2="2001.5" y1="1944" y2="1944" stroke-width="2.2"/>
<line x1="122.2" x2="2001.5" y1="1752.5" y2="1752.5" stroke-width="2.2"/>
<line x1="142.6" x2="142.6" y1="1613.3" y2="2159.6" stroke-width="2.2"/>
<line x1="176.7" x2="176.7" y1="1613.3" y2="2159.6" stroke-width="2.2"/>
<line x1="210.7" x2="210.7" y1="1613.3" y2="2159.6" stroke-width="2.2"/>
<line x1="244.8" x2="244.8" y1="1613.3" y2="2159.6" stroke-width="2.2"/>
<line x1="278.8" x2="278.8" y1="1613.3" y2="2159.6" stroke-width="2.2"/>
<line x1="312.9" x2="312.9" y1="1613.3" y2="2159.6" stroke-width="2.2"/>
<line x1="346.9" x2="346.9" y1="1613.3" y2="2159.6" stroke-width="2.2"/>
<line x1="380.9" x2="380.9" y1="1613.3" y2="2159.6" stroke-width="2.2"/>
<line x1="415" x2="415" y1="1613.3" y2="2159.6" stroke-width="2.2"/>
<line x1="449" x2="449" y1="1613.3" y2="2159.6" stroke-width="2.2"/>
<line x1="483.1" x2="483.1" y1="1613.3" y2="2159.6" stroke-width="2.2"/>
<line x1="517.1" x2="517.1" y1="1613.3" y2="2159.6" stroke-width="2.2"/>
<line x1="551.2" x2="551.2" y1="1613.3" y2="2159.6" stroke-width="2.2"/>
<line x1="585.2" x2="585.2" y1="1613.3" y2="2159.6" stroke-width="2.2"/>
<line x1="619.3" x2="619.3" y1="1613.3" y2="2159.6" stroke-width="2.2"/>
<line x1="653.3" x2="653.3" y1="1613.3" y2="2159.6" stroke-width="2.2"/>
<line x1="687.4" x2="687.4" y1="1613.3" y2="2159.6" stroke-width="2.2"/>
<line x1="721.4" x2="721.4" y1="1613.3" y2="2159.6" stroke-width="2.2"/>
<line x1="755.4" x2="755.4" y1="1613.3" y2="2159.6" stroke-width="2.2"/>
<line x1="789.5" x2="789.5" y1="1613.3" y2="2159.6" stroke-width="2.2"/>
<line x1="823.5" x2="823.5" y1="1613.3" y2="2159.6" stroke-width="2.2"/>
<line x1="857.6" x2="857.6" y1="1613.3" y2="2159.6" stroke-width="2.2"/>
<line x1="891.6" x2="891.6" y1="1613.3" y2="2159.6" stroke-width="2.2"/>
<line x1="925.7" x2="925.7" y1="1613.3" y2="2159.6" stroke-width="2.2"/>
<line x1="959.7" x2="959.7" y1="1613.3" y2="2159.6" stroke-width="2.2"/>
<line x1="993.8" x2="993.8" y1="1613.3" y2="2159.6" stroke-width="2.2"/>
<line x1="1027.8" x2="1027.8" y1="1613.3" y2="2159.6" stroke-width="2.2"/>
<line x1="1061.8" x2="1061.8" y1="1613.3" y2="2159.6" stroke-width="2.2"/>
<line x1="1095.9" x2="1095.9" y1="1613.3" y2="2159.6" stroke-width="2.2"/>
<line x1="1129.9" x2="1129.9" y1="1613.3" y2="2159.6" stroke-width="2.2"/>
<line x1="1164" x2="1164" y1="1613.3" y2="2159.6" stroke-width="2.2"/>
<line x1="1198" x2="1198" y1="1613.3" y2="2159.6" stroke-width="2.2"/>
<line x1="1232.1" x2="1232.1" y1="1613.3" y2="2159.6" stroke-width="2.2"/>
<line x1="1266.1" x2="1266.1" y1="1613.3" y2="2159.6" stroke-width="2.2"/>
<line x1="1300.2" x2="1300.2" y1="1613.3" y2="2159.6" stroke-width="2.2"/>
<line x1="1334.2" x2="1334.2" y1="1613.3" y2="2159.6" stroke-width="2.2"/>
<line x1="1368.3" x2="1368.3" y1="1613.3" y2="2159.6" stroke-width="2.2"/>
<line x1="1402.3" x2="1402.3" y1="1613.3" y2="2159.6" stroke-width="2.2"/>
<line x1="1436.3" x2="1436.3" y1="1613.3" y2="2159.6" stroke-width="2.2"/>
<line x1="1470.4" x2="1470.4" y1="1613.3" y2="2159.6" stroke-width="2.2"/>
<line x1="1504.4" x2="1504.4" y1="1613.3" y2="2159.6" stroke-width="2.2"/>
<line x1="1538.5" x2="1538.5" y1="1613.3" y2="2159.6" stroke-width="2.2"/>
<line x1="1572.5" x2="1572.5" y1="1613.3" y2="2159.6" stroke-width="2.2"/>
<line x1="1606.6" x2="1606.6" y1="1613.3" y2="2159.6" stroke-width="2.2"/>
<line x1="1640.6" x2="1640.6" y1="1613.3" y2="2159.6" stroke-width="2.2"/>
<line x1="1674.7" x2="1674.7" y1="1613.3" y2="2159.6" stroke-width="2.2"/>
<line x1="1708.7" x2="1708.7" y1="1613.3" y2="2159.6" stroke-width="2.2"/>
<line x1="1742.8" x2="1742.8" y1="1613.3" y2="2159.6" stroke-width="2.2"/>
<line x1="1776.8" x2="1776.8" y1="1613.3" y2="2159.6" stroke-width="2.2"/>
<line x1="1810.8" x2="1810.8" y1="1613.3" y2="2159.6" stroke-width="2.2"/>
<line x1="1844.9" x2="1844.9" y1="1613.3" y2="2159.6" stroke-width="2.2"/>
<line x1="1878.9" x2="1878.9" y1="1613.3" y2="2159.6" stroke-width="2.2"/>
<line x1="1913" x2="1913" y1="1613.3" y2="2159.6" stroke-width="2.2"/>
<line x1="1947" x2="1947" y1="1613.3" y2="2159.6" stroke-width="2.2"/>
<line x1="1981.1" x2="1981.1" y1="1613.3" y2="2159.6" stroke-width="2.2"/>
</g>
<rect x="127.3" y="1637.6" width="30.6" height="497.9" fill="#dc3444"/>
<rect x="161.4" y="1637.6" width="30.6" height="497.9" fill="#7d2b7a"/>
<rect x="195.4" y="1637.6" width="30.6" height="497.9" fill="#dc3444"/>
<rect x="229.4" y="1790.8" width="30.6" height="344.7" fill="#dc3444"/>
<rect x="263.5" y="1790.8" width="30.6" height="344.7" fill="#7d2b7a"/>
<rect x="297.5" y="1829.1" width="30.6" height="306.4" fill="#7d2b7a"/>
<rect x="331.6" y="1944" width="30.6" height="191.5" fill="#dc3444"/>
<rect x="365.6" y="1944" width="30.6" height="191.5" fill="#dc3444"/>
<rect x="399.7" y="1944" width="30.6" height="191.5" fill="#dc3444"/>
<rect x="433.7" y="1944" width="30.6" height="191.5" fill="#dc3444"/>
<rect x="467.8" y="1944" width="30.6" height="191.5" fill="#dc3444"/>
<rect x="501.8" y="1944" width="30.6" height="191.5" fill="#dc3444"/>
<rect x="535.9" y="1944" width="30.6" height="191.5" fill="#dc3444"/>
<rect x="569.9" y="1944" width="30.6" height="191.5" fill="#dc3444"/>
<rect x="603.9" y="1944" width="30.6" height="191.5" fill="#dc3444"/>
<rect x="638" y="1944" width="30.6" height="191.5" fill="#7d2b7a"/>
<rect x="672" y="2020.6" width="30.6" height="114.9" fill="#dc3444"/>
<rect x="706.1" y="2020.6" width="30.6" height="114.9" fill="#dc3444"/>
<rect x="740.1" y="2020.6" width="30.6" height="114.9" fill="#dc3444"/>
<rect x="774.2" y="2020.6" width="30.6" height="114.9" fill="#dc3444"/>
<rect x="808.2" y="2020.6" width="30.6" height="114.9" fill="#dc3444"/>
<rect x="842.3" y="2020.6" width="30.6" height="114.9" fill="#dc3444"/>
<rect x="876.3" y="2020.6" width="30.6" height="114.9" fill="#7d2b7a"/>
<rect x="910.3" y="2020.6" width="30.6" height="114.9" fill="#7d2b7a"/>
<rect x="944.4" y="2020.6" width="30.6" height="114.9" fill="#7d2b7a"/>
<rect x="978.4" y="2020.6" width="30.6" height="114.9" fill="#7d2b7a"/>
<rect x="1012.5" y="2020.6" width="30.6" height="114.9" fill="#7d2b7a"/>
<rect x="1046.5" y="2020.6" width="30.6" height="114.9" fill="#7d2b7a"/>
<rect x="1080.6" y="2020.6" width="30.6" height="114.9" fill="#dc3444"/>
<rect x="1114.6" y="2020.6" width="30.6" height="114.9" fill="#7d2b7a"/>
<rect x="1148.7" y="2020.6" width="30.6" height="114.9" fill="#dc3444"/>
<rect x="1182.7" y="2020.6" width="30.6" height="114.9" fill="#dc3444"/>
<rect x="1216.8" y="2020.6" width="30.6" height="114.9" fill="#dc3444"/>
<rect x="1250.8" y="2020.6" width="30.6" height="114.9" fill="#7d2b7a"/>
<rect x="1284.8" y="2020.6" width="30.6" height="114.9" fill="#7d2b7a"/>
<rect x="1318.9" y="2020.6" width="30.6" height="114.9" fill="#dc3444"/>
<rect x="1352.9" y="2020.6" width="30.6" height="114.9" fill="#7d2b7a"/>
<rect x="1387" y="2020.6" width="30.6" height="114.9" fill="#7d2b7a"/>
<rect x="1421" y="2020.6" width="30.6" height="114.9" fill="#dc3444"/>
<rect x="1455.1" y="2020.6" width="30.6" height="114.9" fill="#7d2b7a"/>
<rect x="1489.1" y="2020.6" width="30.6" height="114.9" fill="#dc3444"/>
<rect x="1523.2" y="2020.6" width="30.6" height="114.9" fill="#dc3444"/>
<rect x="1557.2" y="2058.9" width="30.6" height="76.6" fill="#7d2b7a"/>
<rect x="1591.3" y="2058.9" width="30.6" height="76.6" fill="#7d2b7a"/>
<rect x="1625.3" y="2058.9" width="30.6" height="76.6" fill="#6686c0"/>
<rect x="1659.3" y="2058.9" width="30.6" height="76.6" fill="#7d2b7a"/>
<rect x="1693.4" y="2058.9" width="30.6" height="76.6" fill="#6686c0"/>
<rect x="1727.4" y="2058.9" width="30.6" height="76.6" fill="#6686c0"/>
<rect x="1761.5" y="2058.9" width="30.6" height="76.6" fill="#6686c0"/>
<rect x="1795.5" y="2058.9" width="30.6" height="76.6" fill="#7d2b7a"/>
<rect x="1829.6" y="2058.9" width="30.6" height="76.6" fill="#7d2b7a"/>
<rect x="1863.6" y="2058.9" width="30.6" height="76.6" fill="#6686c0"/>
<rect x="1897.7" y="2058.9" width="30.6" height="76.6" fill="#6686c0"/>
<rect x="1931.7" y="2058.9" width="30.6" height="76.6" fill="#dc3444"/>
<rect x="1965.8" y="2058.9" width="30.6" height="76.6" fill="#7d2b7a"/>
<rect x="1662.4" y="1627" width="328" height="123" fill="#fff"/>
<text x="1668.8" y="1657" font-size="25.1">KD data type in network</text>
<rect x="1669.1" y="1665.1" width="24.3" height="23.3" fill="#6686c0"/>
<text x="1706.2" y="1685.8" font-size="25.1">Gene</text>
<rect x="1669.1" y="1690.8" width="24.3" height="23.2" fill="#dc3444"/>
<text x="1706.2" y="1711.4" font-size="25.1">Protein</text>
<rect x="1669.1" y="1718" width="24.3" height="23.7" fill="#7d2b7a"/>
<text x="1706.2" y="1738.9" font-size="25.1">Gene and protein</text>
<rect x="122.7" y="1613.4" width="1878.5" height="546.3" fill="none" stroke="#1a1a1a" stroke-width="1.4"/>
<line x1="117.2" x2="122.2" y1="2135.5" y2="2135.5" stroke="#333" stroke-width="1.7"/>
<text x="110.7" y="2144.2" font-size="24.8" text-anchor="end">0</text>
<line x1="117.2" x2="122.2" y1="1944" y2="1944" stroke="#333" stroke-width="1.7"/>
<text x="110.7" y="1952.7" font-size="24.8" text-anchor="end">5</text>
<line x1="117.2" x2="122.2" y1="1752.5" y2="1752.5" stroke="#333" stroke-width="1.7"/>
<text x="110.7" y="1761.2" font-size="24.8" text-anchor="end">10</text>
<line x1="142.6" x2="142.6" y1="2159.6" y2="2164.6" stroke="#333" stroke-width="1.7"/>
<text transform="translate(142.6,2179.4) rotate(-90) scale(1,1.020)" y="8.7" font-size="24.8" text-anchor="end">HSPB1</text>
<line x1="176.7" x2="176.7" y1="2159.6" y2="2164.6" stroke="#333" stroke-width="1.7"/>
<text transform="translate(176.7,2179.4) rotate(-90) scale(1,1.020)" y="8.7" font-size="24.8" text-anchor="end">MAOB</text>
<line x1="210.7" x2="210.7" y1="2159.6" y2="2164.6" stroke="#333" stroke-width="1.7"/>
<text transform="translate(210.7,2179.4) rotate(-90) scale(1,1.020)" y="8.7" font-size="24.8" text-anchor="end">PLEC</text>
<line x1="244.8" x2="244.8" y1="2159.6" y2="2164.6" stroke="#333" stroke-width="1.7"/>
<text transform="translate(244.8,2179.4) rotate(-90) scale(1,1.020)" y="8.7" font-size="24.8" text-anchor="end">ANXA5</text>
<line x1="278.8" x2="278.8" y1="2159.6" y2="2164.6" stroke="#333" stroke-width="1.7"/>
<text transform="translate(278.8,2179.4) rotate(-90) scale(1,1.020)" y="8.7" font-size="24.8" text-anchor="end">GFAP</text>
<line x1="312.9" x2="312.9" y1="2159.6" y2="2164.6" stroke="#333" stroke-width="1.7"/>
<text transform="translate(312.9,2179.4) rotate(-90) scale(1,1.020)" y="8.7" font-size="24.8" text-anchor="end">VGF</text>
<line x1="346.9" x2="346.9" y1="2159.6" y2="2164.6" stroke="#333" stroke-width="1.7"/>
<text transform="translate(346.9,2179.4) rotate(-90) scale(1,1.020)" y="8.7" font-size="24.8" text-anchor="end">ANXA1</text>
<line x1="380.9" x2="380.9" y1="2159.6" y2="2164.6" stroke="#333" stroke-width="1.7"/>
<text transform="translate(380.9,2179.4) rotate(-90) scale(1,1.020)" y="8.7" font-size="24.8" text-anchor="end">INA</text>
<line x1="415" x2="415" y1="2159.6" y2="2164.6" stroke="#333" stroke-width="1.7"/>
<text transform="translate(415,2179.4) rotate(-90) scale(1,1.020)" y="8.7" font-size="24.8" text-anchor="end">MAP1B</text>
<line x1="449" x2="449" y1="2159.6" y2="2164.6" stroke="#333" stroke-width="1.7"/>
<text transform="translate(449,2179.4) rotate(-90) scale(1,1.020)" y="8.7" font-size="24.8" text-anchor="end">MBP</text>
<line x1="483.1" x2="483.1" y1="2159.6" y2="2164.6" stroke="#333" stroke-width="1.7"/>
<text transform="translate(483.1,2179.4) rotate(-90) scale(1,1.020)" y="8.7" font-size="24.8" text-anchor="end">NDUFA10</text>
<line x1="517.1" x2="517.1" y1="2159.6" y2="2164.6" stroke="#333" stroke-width="1.7"/>
<text transform="translate(517.1,2179.4) rotate(-90) scale(1,1.020)" y="8.7" font-size="24.8" text-anchor="end">NDUFA9</text>
<line x1="551.2" x2="551.2" y1="2159.6" y2="2164.6" stroke="#333" stroke-width="1.7"/>
<text transform="translate(551.2,2179.4) rotate(-90) scale(1,1.020)" y="8.7" font-size="24.8" text-anchor="end">NDUFS1</text>
<line x1="585.2" x2="585.2" y1="2159.6" y2="2164.6" stroke="#333" stroke-width="1.7"/>
<text transform="translate(585.2,2179.4) rotate(-90) scale(1,1.020)" y="8.7" font-size="24.8" text-anchor="end">NDUFS2</text>
<line x1="619.3" x2="619.3" y1="2159.6" y2="2164.6" stroke="#333" stroke-width="1.7"/>
<text transform="translate(619.3,2179.4) rotate(-90) scale(1,1.020)" y="8.7" font-size="24.8" text-anchor="end">NEFL</text>
<line x1="653.3" x2="653.3" y1="2159.6" y2="2164.6" stroke="#333" stroke-width="1.7"/>
<text transform="translate(653.3,2179.4) rotate(-90) scale(1,1.020)" y="8.7" font-size="24.8" text-anchor="end">PLCD1</text>
<line x1="687.4" x2="687.4" y1="2159.6" y2="2164.6" stroke="#333" stroke-width="1.7"/>
<text transform="translate(687.4,2179.4) rotate(-90) scale(1,1.020)" y="8.7" font-size="24.8" text-anchor="end">ATP5A1</text>
<line x1="721.4" x2="721.4" y1="2159.6" y2="2164.6" stroke="#333" stroke-width="1.7"/>
<text transform="translate(721.4,2179.4) rotate(-90) scale(1,1.020)" y="8.7" font-size="24.8" text-anchor="end">ATP5B</text>
<line x1="755.4" x2="755.4" y1="2159.6" y2="2164.6" stroke="#333" stroke-width="1.7"/>
<text transform="translate(755.4,2179.4) rotate(-90) scale(1,1.020)" y="8.7" font-size="24.8" text-anchor="end">ATP6V0A1</text>
<line x1="789.5" x2="789.5" y1="2159.6" y2="2164.6" stroke="#333" stroke-width="1.7"/>
<text transform="translate(789.5,2179.4) rotate(-90) scale(1,1.020)" y="8.7" font-size="24.8" text-anchor="end">ATP6V1A</text>
<line x1="823.5" x2="823.5" y1="2159.6" y2="2164.6" stroke="#333" stroke-width="1.7"/>
<text transform="translate(823.5,2179.4) rotate(-90) scale(1,1.020)" y="8.7" font-size="24.8" text-anchor="end">CADPS</text>
<line x1="857.6" x2="857.6" y1="2159.6" y2="2164.6" stroke="#333" stroke-width="1.7"/>
<text transform="translate(857.6,2179.4) rotate(-90) scale(1,1.020)" y="8.7" font-size="24.8" text-anchor="end">CAP2</text>
<line x1="891.6" x2="891.6" y1="2159.6" y2="2164.6" stroke="#333" stroke-width="1.7"/>
<text transform="translate(891.6,2179.4) rotate(-90) scale(1,1.020)" y="8.7" font-size="24.8" text-anchor="end">CD44</text>
<line x1="925.7" x2="925.7" y1="2159.6" y2="2164.6" stroke="#333" stroke-width="1.7"/>
<text transform="translate(925.7,2179.4) rotate(-90) scale(1,1.020)" y="8.7" font-size="24.8" text-anchor="end">CLTC</text>
<line x1="959.7" x2="959.7" y1="2159.6" y2="2164.6" stroke="#333" stroke-width="1.7"/>
<text transform="translate(959.7,2179.4) rotate(-90) scale(1,1.020)" y="8.7" font-size="24.8" text-anchor="end">DLG4</text>
<line x1="993.8" x2="993.8" y1="2159.6" y2="2164.6" stroke="#333" stroke-width="1.7"/>
<text transform="translate(993.8,2179.4) rotate(-90) scale(1,1.020)" y="8.7" font-size="24.8" text-anchor="end">DNM1</text>
<line x1="1027.8" x2="1027.8" y1="2159.6" y2="2164.6" stroke="#333" stroke-width="1.7"/>
<text transform="translate(1027.8,2179.4) rotate(-90) scale(1,1.020)" y="8.7" font-size="24.8" text-anchor="end">GJA1</text>
<line x1="1061.8" x2="1061.8" y1="2159.6" y2="2164.6" stroke="#333" stroke-width="1.7"/>
<text transform="translate(1061.8,2179.4) rotate(-90) scale(1,1.020)" y="8.7" font-size="24.8" text-anchor="end">GOT1</text>
<line x1="1095.9" x2="1095.9" y1="2159.6" y2="2164.6" stroke="#333" stroke-width="1.7"/>
<text transform="translate(1095.9,2179.4) rotate(-90) scale(1,1.020)" y="8.7" font-size="24.8" text-anchor="end">GSN</text>
<line x1="1129.9" x2="1129.9" y1="2159.6" y2="2164.6" stroke="#333" stroke-width="1.7"/>
<text transform="translate(1129.9,2179.4) rotate(-90) scale(1,1.020)" y="8.7" font-size="24.8" text-anchor="end">HK1</text>
<line x1="1164" x2="1164" y1="2159.6" y2="2164.6" stroke="#333" stroke-width="1.7"/>
<text transform="translate(1164,2179.4) rotate(-90) scale(1,1.020)" y="8.7" font-size="24.8" text-anchor="end">MAP1A</text>
<line x1="1198" x2="1198" y1="2159.6" y2="2164.6" stroke="#333" stroke-width="1.7"/>
<text transform="translate(1198,2179.4) rotate(-90) scale(1,1.020)" y="8.7" font-size="24.8" text-anchor="end">MAP2</text>
<line x1="1232.1" x2="1232.1" y1="2159.6" y2="2164.6" stroke="#333" stroke-width="1.7"/>
<text transform="translate(1232.1,2179.4) rotate(-90) scale(1,1.020)" y="8.7" font-size="24.8" text-anchor="end">MAP6</text>
<line x1="1266.1" x2="1266.1" y1="2159.6" y2="2164.6" stroke="#333" stroke-width="1.7"/>
<text transform="translate(1266.1,2179.4) rotate(-90) scale(1,1.020)" y="8.7" font-size="24.8" text-anchor="end">MSN</text>
<line x1="1300.2" x2="1300.2" y1="2159.6" y2="2164.6" stroke="#333" stroke-width="1.7"/>
<text transform="translate(1300.2,2179.4) rotate(-90) scale(1,1.020)" y="8.7" font-size="24.8" text-anchor="end">NNT</text>
<line x1="1334.2" x2="1334.2" y1="2159.6" y2="2164.6" stroke="#333" stroke-width="1.7"/>
<text transform="translate(1334.2,2179.4) rotate(-90) scale(1,1.020)" y="8.7" font-size="24.8" text-anchor="end">NSF</text>
<line x1="1368.3" x2="1368.3" y1="2159.6" y2="2164.6" stroke="#333" stroke-width="1.7"/>
<text transform="translate(1368.3,2179.4) rotate(-90) scale(1,1.020)" y="8.7" font-size="24.8" text-anchor="end">PDHB</text>
<line x1="1402.3" x2="1402.3" y1="2159.6" y2="2164.6" stroke="#333" stroke-width="1.7"/>
<text transform="translate(1402.3,2179.4) rotate(-90) scale(1,1.020)" y="8.7" font-size="24.8" text-anchor="end">RPH3A</text>
<line x1="1436.3" x2="1436.3" y1="2159.6" y2="2164.6" stroke="#333" stroke-width="1.7"/>
<text transform="translate(1436.3,2179.4) rotate(-90) scale(1,1.020)" y="8.7" font-size="24.8" text-anchor="end">SEPT5</text>
<line x1="1470.4" x2="1470.4" y1="2159.6" y2="2164.6" stroke="#333" stroke-width="1.7"/>
<text transform="translate(1470.4,2179.4) rotate(-90) scale(1,1.020)" y="8.7" font-size="24.8" text-anchor="end">STXBP1</text>
<line x1="1504.4" x2="1504.4" y1="2159.6" y2="2164.6" stroke="#333" stroke-width="1.7"/>
<text transform="translate(1504.4,2179.4) rotate(-90) scale(1,1.020)" y="8.7" font-size="24.8" text-anchor="end">SYNGAP1</text>
<line x1="1538.5" x2="1538.5" y1="2159.6" y2="2164.6" stroke="#333" stroke-width="1.7"/>
<text transform="translate(1538.5,2179.4) rotate(-90) scale(1,1.020)" y="8.7" font-size="24.8" text-anchor="end">TAGLN3</text>
<line x1="1572.5" x2="1572.5" y1="2159.6" y2="2164.6" stroke="#333" stroke-width="1.7"/>
<text transform="translate(1572.5,2179.4) rotate(-90) scale(1,1.020)" y="8.7" font-size="24.8" text-anchor="end">AP2A1</text>
<line x1="1606.6" x2="1606.6" y1="2159.6" y2="2164.6" stroke="#333" stroke-width="1.7"/>
<text transform="translate(1606.6,2179.4) rotate(-90) scale(1,1.020)" y="8.7" font-size="24.8" text-anchor="end">FLNA</text>
<line x1="1640.6" x2="1640.6" y1="2159.6" y2="2164.6" stroke="#333" stroke-width="1.7"/>
<text transform="translate(1640.6,2179.4) rotate(-90) scale(1,1.020)" y="8.7" font-size="24.8" text-anchor="end">GATAD2B</text>
<line x1="1674.7" x2="1674.7" y1="2159.6" y2="2164.6" stroke="#333" stroke-width="1.7"/>
<text transform="translate(1674.7,2179.4) rotate(-90) scale(1,1.020)" y="8.7" font-size="24.8" text-anchor="end">HSP90AB1</text>
<line x1="1708.7" x2="1708.7" y1="2159.6" y2="2164.6" stroke="#333" stroke-width="1.7"/>
<text transform="translate(1708.7,2179.4) rotate(-90) scale(1,1.020)" y="8.7" font-size="24.8" text-anchor="end">KCNN2</text>
<line x1="1742.8" x2="1742.8" y1="2159.6" y2="2164.6" stroke="#333" stroke-width="1.7"/>
<text transform="translate(1742.8,2179.4) rotate(-90) scale(1,1.020)" y="8.7" font-size="24.8" text-anchor="end">KIF1B</text>
<line x1="1776.8" x2="1776.8" y1="2159.6" y2="2164.6" stroke="#333" stroke-width="1.7"/>
<text transform="translate(1776.8,2179.4) rotate(-90) scale(1,1.020)" y="8.7" font-size="24.8" text-anchor="end">MLIP</text>
<line x1="1810.8" x2="1810.8" y1="2159.6" y2="2164.6" stroke="#333" stroke-width="1.7"/>
<text transform="translate(1810.8,2179.4) rotate(-90) scale(1,1.020)" y="8.7" font-size="24.8" text-anchor="end">PDHX</text>
<line x1="1844.9" x2="1844.9" y1="2159.6" y2="2164.6" stroke="#333" stroke-width="1.7"/>
<text transform="translate(1844.9,2179.4) rotate(-90) scale(1,1.020)" y="8.7" font-size="24.8" text-anchor="end">PDLIM5</text>
<line x1="1878.9" x2="1878.9" y1="2159.6" y2="2164.6" stroke="#333" stroke-width="1.7"/>
<text transform="translate(1878.9,2179.4) rotate(-90) scale(1,1.020)" y="8.7" font-size="24.8" text-anchor="end">REST</text>
<line x1="1913" x2="1913" y1="2159.6" y2="2164.6" stroke="#333" stroke-width="1.7"/>
<text transform="translate(1913,2179.4) rotate(-90) scale(1,1.020)" y="8.7" font-size="24.8" text-anchor="end">SOS1</text>
<line x1="1947" x2="1947" y1="2159.6" y2="2164.6" stroke="#333" stroke-width="1.7"/>
<text transform="translate(1947,2179.4) rotate(-90) scale(1,1.020)" y="8.7" font-size="24.8" text-anchor="end">TAGLN</text>
<line x1="1981.1" x2="1981.1" y1="2159.6" y2="2164.6" stroke="#333" stroke-width="1.7"/>
<text transform="translate(1981.1,2179.4) rotate(-90) scale(1,1.020)" y="8.7" font-size="24.8" text-anchor="end">VCL</text>
<text transform="translate(35.2,1886.7) rotate(-90)" y="0" font-size="25.2" text-anchor="middle">Total KD appearances</text>
<text transform="translate(64.9,1886) rotate(-90)" y="0" font-size="25" text-anchor="middle">in multiscale network</text>
<text x="1062" y="2323.2" font-size="25.5" text-anchor="middle">KD</text>
</svg></body></html>
